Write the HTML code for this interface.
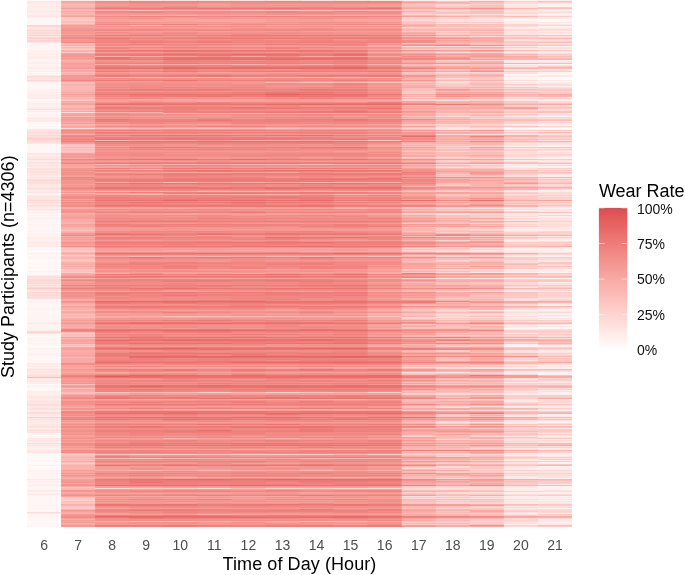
<!DOCTYPE html><html><head><meta charset="utf-8"><style>
html,body{margin:0;padding:0;background:#fff;width:685px;height:575px;overflow:hidden;position:relative;font-family:"Liberation Sans",sans-serif}
.t{position:absolute;left:0;top:0;width:685px;height:575px;will-change:transform}
.xt{position:absolute;top:537.4px;width:40px;text-align:center;font-size:14px;line-height:16px;color:#4d4d4d}
.xtitle{position:absolute;left:222.6px;top:554.2px;font-size:18px;letter-spacing:0.08px;line-height:21px;color:#000;white-space:nowrap}
.ytitle{position:absolute;left:0;top:0;font-size:18px;line-height:21px;color:#000;white-space:nowrap;transform-origin:0 0;transform:translate(-2px,378px) rotate(-90deg)}
.ltitle{position:absolute;left:598.9px;top:180.6px;font-size:18px;line-height:21px;color:#000;white-space:nowrap}
.ll{position:absolute;left:636.9px;font-size:14px;line-height:16px;color:#111;white-space:nowrap}
</style></head><body>
<svg width="685" height="575" style="position:absolute;left:0;top:0"><path fill="#fffbfa" d="M27 113h35.0625v1h-35.0625zM27 124h35.0625v2h-35.0625zM27 127h35.0625v1h-35.0625zM27 248h35.0625v1h-35.0625zM27 250h35.0625v2h-35.0625zM27 255h35.0625v1h-35.0625zM27 260h35.0625v2h-35.0625zM27 265h35.0625v1h-35.0625zM27 269h35.0625v1h-35.0625zM27 336h35.0625v1h-35.0625zM27 346h35.0625v1h-35.0625zM27 384h35.0625v1h-35.0625zM27 388h35.0625v1h-35.0625zM27 454h35.0625v1h-35.0625zM27 456h35.0625v1h-35.0625zM27 458h35.0625v1h-35.0625zM27 462h35.0625v2h-35.0625zM27 466h35.0625v2h-35.0625zM27 521h35.0625v2h-35.0625z"/><path fill="#fff6f5" d="M27 18h35.0625v7h-35.0625zM27 43h35.0625v2h-35.0625zM27 46h35.0625v4h-35.0625zM27 60h35.0625v1h-35.0625zM27 64h35.0625v1h-35.0625zM27 72h35.0625v1h-35.0625zM27 74h35.0625v1h-35.0625zM27 82h35.0625v7h-35.0625zM27 99h35.0625v2h-35.0625zM27 112h35.0625v1h-35.0625zM27 116h35.0625v1h-35.0625zM27 122h35.0625v2h-35.0625zM27 126h35.0625v1h-35.0625zM27 128h35.0625v1h-35.0625zM27 144h35.0625v9h-35.0625zM27 194h35.0625v1h-35.0625zM27 211h35.0625v1h-35.0625zM27 213h35.0625v2h-35.0625zM27 216h35.0625v1h-35.0625zM27 220h35.0625v1h-35.0625zM27 222h35.0625v2h-35.0625zM27 225h35.0625v6h-35.0625zM27 232h35.0625v1h-35.0625zM27 247h35.0625v1h-35.0625zM27 249h35.0625v1h-35.0625zM27 252h35.0625v1h-35.0625zM27 254h35.0625v1h-35.0625zM27 256h35.0625v1h-35.0625zM27 258h35.0625v2h-35.0625zM27 262h35.0625v3h-35.0625zM27 266h35.0625v3h-35.0625zM27 270h35.0625v1h-35.0625zM27 272h35.0625v3h-35.0625zM27 299h35.0625v2h-35.0625zM27 303h35.0625v4h-35.0625zM27 310h35.0625v6h-35.0625zM27 317h35.0625v1h-35.0625zM27 319h35.0625v1h-35.0625zM27 321h35.0625v1h-35.0625zM27 325h35.0625v2h-35.0625zM27 334h35.0625v2h-35.0625zM27 338h35.0625v1h-35.0625zM27 341h35.0625v2h-35.0625zM27 344h35.0625v2h-35.0625zM27 347h35.0625v1h-35.0625zM27 350h35.0625v3h-35.0625zM27 356h35.0625v7h-35.0625zM27 389h35.0625v2h-35.0625zM27 433h35.0625v1h-35.0625zM27 435h35.0625v3h-35.0625zM27 453h35.0625v1h-35.0625zM27 455h35.0625v1h-35.0625zM27 457h35.0625v1h-35.0625zM27 459h35.0625v3h-35.0625zM27 464h35.0625v1h-35.0625zM27 468h35.0625v2h-35.0625zM27 472h35.0625v1h-35.0625zM27 474h35.0625v4h-35.0625zM27 487h35.0625v3h-35.0625zM27 492h35.0625v1h-35.0625zM27 496h35.0625v9h-35.0625zM27 506h35.0625v6h-35.0625zM27 514h35.0625v2h-35.0625zM27 517h35.0625v4h-35.0625zM27 523h35.0625v4h-35.0625z"/><path fill="#fff2f0" d="M27 5h35.0625v1h-35.0625zM27 45h35.0625v1h-35.0625zM27 50h35.0625v4h-35.0625zM27 55h35.0625v1h-35.0625zM27 59h35.0625v1h-35.0625zM27 61h35.0625v2h-35.0625zM27 65h35.0625v2h-35.0625zM27 69h35.0625v2h-35.0625zM27 73h35.0625v1h-35.0625zM27 89h35.0625v3h-35.0625zM27 93h35.0625v1h-35.0625zM27 101h35.0625v2h-35.0625zM27 105h35.0625v2h-35.0625zM27 110h35.0625v1h-35.0625zM27 114h35.0625v2h-35.0625zM27 193h35.0625v1h-35.0625zM27 215h35.0625v1h-35.0625zM27 217h35.0625v3h-35.0625zM27 221h35.0625v1h-35.0625zM27 224h35.0625v1h-35.0625zM27 231h35.0625v1h-35.0625zM27 233h35.0625v4h-35.0625zM27 240h35.0625v1h-35.0625zM27 253h35.0625v1h-35.0625zM27 257h35.0625v1h-35.0625zM27 271h35.0625v1h-35.0625zM27 301h35.0625v2h-35.0625zM27 307h35.0625v3h-35.0625zM27 316h35.0625v1h-35.0625zM27 318h35.0625v1h-35.0625zM27 320h35.0625v1h-35.0625zM27 324h35.0625v1h-35.0625zM27 327h35.0625v3h-35.0625zM27 337h35.0625v1h-35.0625zM27 339h35.0625v2h-35.0625zM27 343h35.0625v1h-35.0625zM27 348h35.0625v2h-35.0625zM27 353h35.0625v3h-35.0625zM27 367h35.0625v1h-35.0625zM27 385h35.0625v3h-35.0625zM27 394h35.0625v1h-35.0625zM27 434h35.0625v1h-35.0625zM27 448h35.0625v1h-35.0625zM27 465h35.0625v1h-35.0625zM27 470h35.0625v2h-35.0625zM27 473h35.0625v1h-35.0625zM27 478h35.0625v1h-35.0625zM27 480h35.0625v1h-35.0625zM27 482h35.0625v3h-35.0625zM27 486h35.0625v1h-35.0625zM27 495h35.0625v1h-35.0625zM27 505h35.0625v1h-35.0625zM27 516h35.0625v1h-35.0625z"/><path fill="#ffedec" d="M27 3h35.0625v2h-35.0625zM27 7h35.0625v4h-35.0625zM27 12h35.0625v3h-35.0625zM27 17h35.0625v1h-35.0625zM27 54h35.0625v1h-35.0625zM27 56h35.0625v3h-35.0625zM27 63h35.0625v1h-35.0625zM27 67h35.0625v2h-35.0625zM27 71h35.0625v1h-35.0625zM27 75h35.0625v1h-35.0625zM27 92h35.0625v1h-35.0625zM27 94h35.0625v5h-35.0625zM27 103h35.0625v2h-35.0625zM27 107h35.0625v1h-35.0625zM27 111h35.0625v1h-35.0625zM27 117h35.0625v1h-35.0625zM27 119h35.0625v1h-35.0625zM27 121h35.0625v1h-35.0625zM27 155h35.0625v1h-35.0625zM27 160h35.0625v2h-35.0625zM27 167h35.0625v1h-35.0625zM27 176h35.0625v1h-35.0625zM27 190h35.0625v2h-35.0625zM27 207h35.0625v2h-35.0625zM27 210h35.0625v1h-35.0625zM27 212h35.0625v1h-35.0625zM27 237h35.0625v3h-35.0625zM27 241h35.0625v1h-35.0625zM27 243h35.0625v3h-35.0625zM27 275h35.0625v1h-35.0625zM27 322h35.0625v2h-35.0625zM27 330h35.0625v1h-35.0625zM27 364h35.0625v2h-35.0625zM27 368h35.0625v1h-35.0625zM27 373h35.0625v1h-35.0625zM27 379h35.0625v1h-35.0625zM27 382h35.0625v2h-35.0625zM27 391h35.0625v3h-35.0625zM27 399h35.0625v1h-35.0625zM27 410h35.0625v1h-35.0625zM27 416h35.0625v1h-35.0625zM27 423h35.0625v1h-35.0625zM27 428h35.0625v1h-35.0625zM27 439h35.0625v1h-35.0625zM27 441h35.0625v2h-35.0625zM27 446h35.0625v2h-35.0625zM27 449h35.0625v1h-35.0625zM27 481h35.0625v1h-35.0625zM27 485h35.0625v1h-35.0625zM27 491h35.0625v1h-35.0625zM27 493h35.0625v1h-35.0625z"/><path fill="#ffe9e7" d="M27 0.75h35.0625v1.25h-35.0625zM27 6h35.0625v1h-35.0625zM27 15h35.0625v2h-35.0625zM27 79h35.0625v1h-35.0625zM27 108h35.0625v1h-35.0625zM27 118h35.0625v1h-35.0625zM27 120h35.0625v1h-35.0625zM27 129h35.0625v1h-35.0625zM27 154h35.0625v1h-35.0625zM27 156h35.0625v2h-35.0625zM27 164h35.0625v1h-35.0625zM27 166h35.0625v1h-35.0625zM27 173h35.0625v1h-35.0625zM27 175h35.0625v1h-35.0625zM27 178h35.0625v1h-35.0625zM27 184h35.0625v3h-35.0625zM27 195h35.0625v1h-35.0625zM27 203h35.0625v2h-35.0625zM27 242h35.0625v1h-35.0625zM27 246h35.0625v1h-35.0625zM27 291h35.0625v1h-35.0625zM27 363h35.0625v1h-35.0625zM27 366h35.0625v1h-35.0625zM27 372h35.0625v1h-35.0625zM27 378h35.0625v1h-35.0625zM27 380h35.0625v2h-35.0625zM27 395h35.0625v2h-35.0625zM27 398h35.0625v1h-35.0625zM27 400h35.0625v1h-35.0625zM27 406h35.0625v2h-35.0625zM27 411h35.0625v1h-35.0625zM27 414h35.0625v2h-35.0625zM27 420h35.0625v3h-35.0625zM27 424h35.0625v2h-35.0625zM27 431h35.0625v1h-35.0625zM27 444h35.0625v1h-35.0625zM27 450h35.0625v2h-35.0625zM27 479h35.0625v1h-35.0625zM27 490h35.0625v1h-35.0625zM27 494h35.0625v1h-35.0625zM27 513h35.0625v1h-35.0625z"/><path fill="#ffe4e2" d="M27 2h35.0625v1h-35.0625zM27 11h35.0625v1h-35.0625zM27 27h35.0625v2h-35.0625zM27 36h35.0625v1h-35.0625zM27 42h35.0625v1h-35.0625zM27 78h35.0625v1h-35.0625zM27 81h35.0625v1h-35.0625zM27 131h35.0625v1h-35.0625zM27 134h35.0625v1h-35.0625zM27 143h35.0625v1h-35.0625zM27 153h35.0625v1h-35.0625zM27 158h35.0625v1h-35.0625zM27 163h35.0625v1h-35.0625zM27 165h35.0625v1h-35.0625zM27 170h35.0625v1h-35.0625zM27 174h35.0625v1h-35.0625zM27 177h35.0625v1h-35.0625zM27 187h35.0625v1h-35.0625zM27 189h35.0625v1h-35.0625zM27 192h35.0625v1h-35.0625zM27 196h35.0625v4h-35.0625zM27 201h35.0625v1h-35.0625zM27 209h35.0625v1h-35.0625zM27 278h35.0625v1h-35.0625zM27 284h35.0625v1h-35.0625zM27 286h35.0625v1h-35.0625zM27 290h35.0625v1h-35.0625zM27 333h35.0625v1h-35.0625zM27 370h35.0625v2h-35.0625zM27 374h35.0625v1h-35.0625zM27 397h35.0625v1h-35.0625zM27 401h35.0625v3h-35.0625zM27 418h35.0625v2h-35.0625zM27 427h35.0625v1h-35.0625zM27 429h35.0625v1h-35.0625zM27 432h35.0625v1h-35.0625zM27 438h35.0625v1h-35.0625zM27 440h35.0625v1h-35.0625zM27 445h35.0625v1h-35.0625zM27 452h35.0625v1h-35.0625z"/><path fill="#ffe0dd" d="M27 29h35.0625v1h-35.0625zM27 31h35.0625v1h-35.0625zM27 34h35.0625v1h-35.0625zM27 39h35.0625v1h-35.0625zM27 77h35.0625v1h-35.0625zM27 109h35.0625v1h-35.0625zM27 130h35.0625v1h-35.0625zM27 133h35.0625v1h-35.0625zM27 136h35.0625v1h-35.0625zM27 142h35.0625v1h-35.0625zM27 162h35.0625v1h-35.0625zM27 168h35.0625v2h-35.0625zM27 171h35.0625v2h-35.0625zM27 181h35.0625v1h-35.0625zM27 183h35.0625v1h-35.0625zM27 188h35.0625v1h-35.0625zM27 205h35.0625v2h-35.0625zM27 276h35.0625v1h-35.0625zM27 296h35.0625v1h-35.0625zM27 298h35.0625v1h-35.0625zM27 369h35.0625v1h-35.0625zM27 405h35.0625v1h-35.0625zM27 408h35.0625v2h-35.0625zM27 426h35.0625v1h-35.0625z"/><path fill="#ffdcd8" d="M27 32h35.0625v2h-35.0625zM27 140h35.0625v2h-35.0625zM27 159h35.0625v1h-35.0625zM27 179h35.0625v1h-35.0625zM27 182h35.0625v1h-35.0625zM27 202h35.0625v1h-35.0625zM27 277h35.0625v1h-35.0625zM27 282h35.0625v1h-35.0625zM27 285h35.0625v1h-35.0625zM27 289h35.0625v1h-35.0625zM27 293h35.0625v2h-35.0625zM27 297h35.0625v1h-35.0625zM27 331h35.0625v1h-35.0625zM27 375h35.0625v2h-35.0625zM27 404h35.0625v1h-35.0625zM27 412h35.0625v2h-35.0625zM27 430h35.0625v1h-35.0625zM27 443h35.0625v1h-35.0625zM27 512h35.0625v1h-35.0625z"/><path fill="#ffd7d4" d="M27 26h35.0625v1h-35.0625zM27 30h35.0625v1h-35.0625zM27 37h35.0625v1h-35.0625zM27 41h35.0625v1h-35.0625zM27 76h35.0625v1h-35.0625zM27 80h35.0625v1h-35.0625zM27 132h35.0625v1h-35.0625zM27 135h35.0625v1h-35.0625zM27 137h35.0625v1h-35.0625zM27 180h35.0625v1h-35.0625zM27 200h35.0625v1h-35.0625zM27 279h35.0625v3h-35.0625zM27 283h35.0625v1h-35.0625zM27 287h35.0625v1h-35.0625zM27 292h35.0625v1h-35.0625zM27 295h35.0625v1h-35.0625z"/><path fill="#fed3cf" d="M27 25h35.0625v1h-35.0625zM27 35h35.0625v1h-35.0625zM27 38h35.0625v1h-35.0625zM27 40h35.0625v1h-35.0625zM27 139h35.0625v1h-35.0625zM27 332h35.0625v1h-35.0625z"/><path fill="#fececa" d="M27 138h35.0625v1h-35.0625zM27 417h35.0625v1h-35.0625z"/><path fill="#fdcac6" d="M27 288h35.0625v1h-35.0625z"/><path fill="#fcbdb8" d="M27 377h35.0625v1h-35.0625z"/><path fill="#ffdcd8" d="M61.0625 112h35.0625v1h-35.0625zM61.0625 128h35.0625v1h-35.0625z"/><path fill="#fed3cf" d="M61.0625 49h35.0625v1h-35.0625zM61.0625 255h35.0625v1h-35.0625zM61.0625 500h35.0625v1h-35.0625z"/><path fill="#fececa" d="M61.0625 52h35.0625v1h-35.0625zM61.0625 333h35.0625v1h-35.0625zM61.0625 463h35.0625v1h-35.0625zM61.0625 498h35.0625v1h-35.0625z"/><path fill="#fdcac6" d="M61.0625 17h35.0625v4h-35.0625zM61.0625 23h35.0625v1h-35.0625zM61.0625 46h35.0625v1h-35.0625zM61.0625 100h35.0625v1h-35.0625zM61.0625 146h35.0625v1h-35.0625zM61.0625 248h35.0625v1h-35.0625zM61.0625 251h35.0625v1h-35.0625zM61.0625 269h35.0625v1h-35.0625zM61.0625 272h35.0625v1h-35.0625zM61.0625 454h35.0625v1h-35.0625zM61.0625 508h35.0625v1h-35.0625z"/><path fill="#fdc6c1" d="M61.0625 145h35.0625v1h-35.0625zM61.0625 148h35.0625v1h-35.0625zM61.0625 151h35.0625v1h-35.0625zM61.0625 250h35.0625v1h-35.0625zM61.0625 260h35.0625v1h-35.0625zM61.0625 270h35.0625v1h-35.0625zM61.0625 346h35.0625v1h-35.0625zM61.0625 487h35.0625v1h-35.0625zM61.0625 499h35.0625v1h-35.0625zM61.0625 502h35.0625v2h-35.0625zM61.0625 507h35.0625v1h-35.0625z"/><path fill="#fcc1bc" d="M61.0625 21h35.0625v1h-35.0625zM61.0625 43h35.0625v1h-35.0625zM61.0625 48h35.0625v1h-35.0625zM61.0625 99h35.0625v1h-35.0625zM61.0625 144h35.0625v1h-35.0625zM61.0625 150h35.0625v1h-35.0625zM61.0625 152h35.0625v1h-35.0625zM61.0625 230h35.0625v1h-35.0625zM61.0625 249h35.0625v1h-35.0625zM61.0625 259h35.0625v1h-35.0625zM61.0625 261h35.0625v1h-35.0625zM61.0625 271h35.0625v1h-35.0625zM61.0625 334h35.0625v1h-35.0625zM61.0625 336h35.0625v1h-35.0625zM61.0625 344h35.0625v1h-35.0625zM61.0625 384h35.0625v1h-35.0625zM61.0625 393h35.0625v1h-35.0625zM61.0625 455h35.0625v1h-35.0625zM61.0625 460h35.0625v1h-35.0625zM61.0625 497h35.0625v1h-35.0625zM61.0625 506h35.0625v1h-35.0625z"/><path fill="#fcbdb8" d="M61.0625 4h35.0625v1h-35.0625zM61.0625 22h35.0625v1h-35.0625zM61.0625 72h35.0625v1h-35.0625zM61.0625 82h35.0625v2h-35.0625zM61.0625 86h35.0625v1h-35.0625zM61.0625 97h35.0625v1h-35.0625zM61.0625 106h35.0625v1h-35.0625zM61.0625 110h35.0625v1h-35.0625zM61.0625 149h35.0625v1h-35.0625zM61.0625 256h35.0625v1h-35.0625zM61.0625 267h35.0625v1h-35.0625zM61.0625 310h35.0625v1h-35.0625zM61.0625 314h35.0625v1h-35.0625zM61.0625 317h35.0625v1h-35.0625zM61.0625 332h35.0625v1h-35.0625zM61.0625 335h35.0625v1h-35.0625zM61.0625 345h35.0625v1h-35.0625zM61.0625 388h35.0625v1h-35.0625zM61.0625 392h35.0625v1h-35.0625zM61.0625 453h35.0625v1h-35.0625zM61.0625 456h35.0625v1h-35.0625zM61.0625 458h35.0625v1h-35.0625zM61.0625 462h35.0625v1h-35.0625zM61.0625 464h35.0625v1h-35.0625zM61.0625 501h35.0625v1h-35.0625z"/><path fill="#fbb8b3" d="M61.0625 6h35.0625v1h-35.0625zM61.0625 10h35.0625v1h-35.0625zM61.0625 14h35.0625v1h-35.0625zM61.0625 44h35.0625v1h-35.0625zM61.0625 47h35.0625v1h-35.0625zM61.0625 87h35.0625v3h-35.0625zM61.0625 116h35.0625v1h-35.0625zM61.0625 193h35.0625v1h-35.0625zM61.0625 229h35.0625v1h-35.0625zM61.0625 247h35.0625v1h-35.0625zM61.0625 252h35.0625v1h-35.0625zM61.0625 254h35.0625v1h-35.0625zM61.0625 258h35.0625v1h-35.0625zM61.0625 265h35.0625v1h-35.0625zM61.0625 315h35.0625v2h-35.0625zM61.0625 338h35.0625v1h-35.0625zM61.0625 357h35.0625v1h-35.0625zM61.0625 459h35.0625v1h-35.0625zM61.0625 488h35.0625v2h-35.0625z"/><path fill="#fab4af" d="M61.0625 5h35.0625v1h-35.0625zM61.0625 9h35.0625v1h-35.0625zM61.0625 12h35.0625v2h-35.0625zM61.0625 24h35.0625v1h-35.0625zM61.0625 60h35.0625v1h-35.0625zM61.0625 69h35.0625v1h-35.0625zM61.0625 73h35.0625v1h-35.0625zM61.0625 90h35.0625v2h-35.0625zM61.0625 98h35.0625v1h-35.0625zM61.0625 102h35.0625v1h-35.0625zM61.0625 105h35.0625v1h-35.0625zM61.0625 107h35.0625v1h-35.0625zM61.0625 124h35.0625v2h-35.0625zM61.0625 147h35.0625v1h-35.0625zM61.0625 222h35.0625v2h-35.0625zM61.0625 228h35.0625v1h-35.0625zM61.0625 231h35.0625v1h-35.0625zM61.0625 257h35.0625v1h-35.0625zM61.0625 262h35.0625v1h-35.0625zM61.0625 305h35.0625v1h-35.0625zM61.0625 313h35.0625v1h-35.0625zM61.0625 327h35.0625v1h-35.0625zM61.0625 466h35.0625v3h-35.0625zM61.0625 505h35.0625v1h-35.0625z"/><path fill="#f9afaa" d="M61.0625 3h35.0625v1h-35.0625zM61.0625 7h35.0625v1h-35.0625zM61.0625 45h35.0625v1h-35.0625zM61.0625 50h35.0625v2h-35.0625zM61.0625 74h35.0625v1h-35.0625zM61.0625 84h35.0625v2h-35.0625zM61.0625 93h35.0625v1h-35.0625zM61.0625 109h35.0625v1h-35.0625zM61.0625 213h35.0625v1h-35.0625zM61.0625 220h35.0625v1h-35.0625zM61.0625 227h35.0625v1h-35.0625zM61.0625 263h35.0625v1h-35.0625zM61.0625 268h35.0625v1h-35.0625zM61.0625 278h35.0625v1h-35.0625zM61.0625 299h35.0625v1h-35.0625zM61.0625 304h35.0625v1h-35.0625zM61.0625 308h35.0625v2h-35.0625zM61.0625 318h35.0625v1h-35.0625zM61.0625 351h35.0625v1h-35.0625zM61.0625 391h35.0625v1h-35.0625zM61.0625 457h35.0625v1h-35.0625zM61.0625 465h35.0625v1h-35.0625zM61.0625 469h35.0625v1h-35.0625zM61.0625 478h35.0625v1h-35.0625zM61.0625 504h35.0625v1h-35.0625zM61.0625 509h35.0625v1h-35.0625zM61.0625 513h35.0625v1h-35.0625zM61.0625 519h35.0625v1h-35.0625z"/><path fill="#f8aba6" d="M61.0625 11h35.0625v1h-35.0625zM61.0625 15h35.0625v1h-35.0625zM61.0625 62h35.0625v1h-35.0625zM61.0625 70h35.0625v1h-35.0625zM61.0625 92h35.0625v1h-35.0625zM61.0625 95h35.0625v1h-35.0625zM61.0625 101h35.0625v1h-35.0625zM61.0625 108h35.0625v1h-35.0625zM61.0625 122h35.0625v1h-35.0625zM61.0625 127h35.0625v1h-35.0625zM61.0625 134h35.0625v1h-35.0625zM61.0625 167h35.0625v1h-35.0625zM61.0625 191h35.0625v1h-35.0625zM61.0625 207h35.0625v2h-35.0625zM61.0625 214h35.0625v1h-35.0625zM61.0625 219h35.0625v1h-35.0625zM61.0625 221h35.0625v1h-35.0625zM61.0625 232h35.0625v1h-35.0625zM61.0625 236h35.0625v1h-35.0625zM61.0625 240h35.0625v1h-35.0625zM61.0625 253h35.0625v1h-35.0625zM61.0625 264h35.0625v1h-35.0625zM61.0625 266h35.0625v1h-35.0625zM61.0625 273h35.0625v2h-35.0625zM61.0625 300h35.0625v1h-35.0625zM61.0625 303h35.0625v1h-35.0625zM61.0625 311h35.0625v1h-35.0625zM61.0625 319h35.0625v1h-35.0625zM61.0625 321h35.0625v1h-35.0625zM61.0625 324h35.0625v2h-35.0625zM61.0625 342h35.0625v1h-35.0625zM61.0625 347h35.0625v1h-35.0625zM61.0625 350h35.0625v1h-35.0625zM61.0625 352h35.0625v1h-35.0625zM61.0625 354h35.0625v1h-35.0625zM61.0625 358h35.0625v3h-35.0625zM61.0625 389h35.0625v2h-35.0625zM61.0625 394h35.0625v1h-35.0625zM61.0625 410h35.0625v1h-35.0625zM61.0625 422h35.0625v1h-35.0625zM61.0625 461h35.0625v1h-35.0625zM61.0625 486h35.0625v1h-35.0625zM61.0625 492h35.0625v1h-35.0625zM61.0625 512h35.0625v1h-35.0625zM61.0625 523h35.0625v2h-35.0625z"/><path fill="#f8a7a1" d="M61.0625 0.75h35.0625v2.25h-35.0625zM61.0625 53h35.0625v1h-35.0625zM61.0625 61h35.0625v1h-35.0625zM61.0625 65h35.0625v1h-35.0625zM61.0625 71h35.0625v1h-35.0625zM61.0625 96h35.0625v1h-35.0625zM61.0625 111h35.0625v1h-35.0625zM61.0625 113h35.0625v1h-35.0625zM61.0625 158h35.0625v1h-35.0625zM61.0625 164h35.0625v1h-35.0625zM61.0625 166h35.0625v1h-35.0625zM61.0625 226h35.0625v1h-35.0625zM61.0625 291h35.0625v1h-35.0625zM61.0625 307h35.0625v1h-35.0625zM61.0625 312h35.0625v1h-35.0625zM61.0625 326h35.0625v1h-35.0625zM61.0625 339h35.0625v1h-35.0625zM61.0625 341h35.0625v1h-35.0625zM61.0625 353h35.0625v1h-35.0625zM61.0625 356h35.0625v1h-35.0625zM61.0625 361h35.0625v2h-35.0625zM61.0625 365h35.0625v1h-35.0625zM61.0625 367h35.0625v2h-35.0625zM61.0625 372h35.0625v1h-35.0625zM61.0625 387h35.0625v1h-35.0625zM61.0625 407h35.0625v1h-35.0625zM61.0625 449h35.0625v1h-35.0625zM61.0625 471h35.0625v2h-35.0625zM61.0625 474h35.0625v1h-35.0625zM61.0625 477h35.0625v1h-35.0625zM61.0625 483h35.0625v1h-35.0625zM61.0625 493h35.0625v1h-35.0625zM61.0625 496h35.0625v1h-35.0625z"/><path fill="#f7a29d" d="M61.0625 16h35.0625v1h-35.0625zM61.0625 26h35.0625v1h-35.0625zM61.0625 34h35.0625v1h-35.0625zM61.0625 57h35.0625v1h-35.0625zM61.0625 59h35.0625v1h-35.0625zM61.0625 66h35.0625v1h-35.0625zM61.0625 81h35.0625v1h-35.0625zM61.0625 103h35.0625v2h-35.0625zM61.0625 114h35.0625v2h-35.0625zM61.0625 118h35.0625v1h-35.0625zM61.0625 121h35.0625v1h-35.0625zM61.0625 126h35.0625v1h-35.0625zM61.0625 129h35.0625v1h-35.0625zM61.0625 165h35.0625v1h-35.0625zM61.0625 176h35.0625v1h-35.0625zM61.0625 215h35.0625v2h-35.0625zM61.0625 218h35.0625v1h-35.0625zM61.0625 224h35.0625v2h-35.0625zM61.0625 238h35.0625v1h-35.0625zM61.0625 241h35.0625v1h-35.0625zM61.0625 245h35.0625v1h-35.0625zM61.0625 306h35.0625v1h-35.0625zM61.0625 322h35.0625v1h-35.0625zM61.0625 328h35.0625v1h-35.0625zM61.0625 340h35.0625v1h-35.0625zM61.0625 343h35.0625v1h-35.0625zM61.0625 349h35.0625v1h-35.0625zM61.0625 355h35.0625v1h-35.0625zM61.0625 371h35.0625v1h-35.0625zM61.0625 379h35.0625v1h-35.0625zM61.0625 385h35.0625v1h-35.0625zM61.0625 399h35.0625v1h-35.0625zM61.0625 406h35.0625v1h-35.0625zM61.0625 420h35.0625v1h-35.0625zM61.0625 435h35.0625v1h-35.0625zM61.0625 439h35.0625v1h-35.0625zM61.0625 448h35.0625v1h-35.0625zM61.0625 476h35.0625v1h-35.0625zM61.0625 511h35.0625v1h-35.0625zM61.0625 518h35.0625v1h-35.0625zM61.0625 521h35.0625v1h-35.0625z"/><path fill="#f69e98" d="M61.0625 8h35.0625v1h-35.0625zM61.0625 27h35.0625v1h-35.0625zM61.0625 63h35.0625v2h-35.0625zM61.0625 67h35.0625v1h-35.0625zM61.0625 94h35.0625v1h-35.0625zM61.0625 120h35.0625v1h-35.0625zM61.0625 123h35.0625v1h-35.0625zM61.0625 143h35.0625v1h-35.0625zM61.0625 153h35.0625v1h-35.0625zM61.0625 155h35.0625v1h-35.0625zM61.0625 157h35.0625v1h-35.0625zM61.0625 161h35.0625v1h-35.0625zM61.0625 184h35.0625v1h-35.0625zM61.0625 190h35.0625v1h-35.0625zM61.0625 199h35.0625v1h-35.0625zM61.0625 201h35.0625v1h-35.0625zM61.0625 217h35.0625v1h-35.0625zM61.0625 237h35.0625v1h-35.0625zM61.0625 239h35.0625v1h-35.0625zM61.0625 244h35.0625v1h-35.0625zM61.0625 275h35.0625v1h-35.0625zM61.0625 281h35.0625v2h-35.0625zM61.0625 284h35.0625v1h-35.0625zM61.0625 286h35.0625v1h-35.0625zM61.0625 320h35.0625v1h-35.0625zM61.0625 337h35.0625v1h-35.0625zM61.0625 348h35.0625v1h-35.0625zM61.0625 366h35.0625v1h-35.0625zM61.0625 370h35.0625v1h-35.0625zM61.0625 373h35.0625v1h-35.0625zM61.0625 382h35.0625v1h-35.0625zM61.0625 400h35.0625v1h-35.0625zM61.0625 405h35.0625v1h-35.0625zM61.0625 416h35.0625v1h-35.0625zM61.0625 425h35.0625v1h-35.0625zM61.0625 428h35.0625v1h-35.0625zM61.0625 436h35.0625v1h-35.0625zM61.0625 442h35.0625v1h-35.0625zM61.0625 446h35.0625v1h-35.0625zM61.0625 470h35.0625v1h-35.0625zM61.0625 479h35.0625v1h-35.0625zM61.0625 520h35.0625v1h-35.0625zM61.0625 522h35.0625v1h-35.0625z"/><path fill="#f59994" d="M61.0625 25h35.0625v1h-35.0625zM61.0625 28h35.0625v1h-35.0625zM61.0625 31h35.0625v3h-35.0625zM61.0625 39h35.0625v1h-35.0625zM61.0625 55h35.0625v1h-35.0625zM61.0625 58h35.0625v1h-35.0625zM61.0625 68h35.0625v1h-35.0625zM61.0625 76h35.0625v3h-35.0625zM61.0625 117h35.0625v1h-35.0625zM61.0625 119h35.0625v1h-35.0625zM61.0625 133h35.0625v1h-35.0625zM61.0625 154h35.0625v1h-35.0625zM61.0625 156h35.0625v1h-35.0625zM61.0625 171h35.0625v1h-35.0625zM61.0625 175h35.0625v1h-35.0625zM61.0625 186h35.0625v1h-35.0625zM61.0625 194h35.0625v2h-35.0625zM61.0625 209h35.0625v1h-35.0625zM61.0625 233h35.0625v2h-35.0625zM61.0625 243h35.0625v1h-35.0625zM61.0625 290h35.0625v1h-35.0625zM61.0625 297h35.0625v2h-35.0625zM61.0625 302h35.0625v1h-35.0625zM61.0625 369h35.0625v1h-35.0625zM61.0625 374h35.0625v1h-35.0625zM61.0625 380h35.0625v2h-35.0625zM61.0625 395h35.0625v2h-35.0625zM61.0625 421h35.0625v1h-35.0625zM61.0625 423h35.0625v1h-35.0625zM61.0625 432h35.0625v1h-35.0625zM61.0625 437h35.0625v1h-35.0625zM61.0625 441h35.0625v1h-35.0625zM61.0625 480h35.0625v2h-35.0625zM61.0625 491h35.0625v1h-35.0625zM61.0625 494h35.0625v1h-35.0625zM61.0625 510h35.0625v1h-35.0625zM61.0625 514h35.0625v1h-35.0625zM61.0625 526h35.0625v1h-35.0625z"/><path fill="#f4958f" d="M61.0625 29h35.0625v1h-35.0625zM61.0625 36h35.0625v1h-35.0625zM61.0625 40h35.0625v2h-35.0625zM61.0625 54h35.0625v1h-35.0625zM61.0625 56h35.0625v1h-35.0625zM61.0625 75h35.0625v1h-35.0625zM61.0625 79h35.0625v1h-35.0625zM61.0625 131h35.0625v1h-35.0625zM61.0625 142h35.0625v1h-35.0625zM61.0625 160h35.0625v1h-35.0625zM61.0625 162h35.0625v1h-35.0625zM61.0625 168h35.0625v2h-35.0625zM61.0625 180h35.0625v4h-35.0625zM61.0625 185h35.0625v1h-35.0625zM61.0625 192h35.0625v1h-35.0625zM61.0625 204h35.0625v1h-35.0625zM61.0625 210h35.0625v1h-35.0625zM61.0625 212h35.0625v1h-35.0625zM61.0625 242h35.0625v1h-35.0625zM61.0625 279h35.0625v1h-35.0625zM61.0625 283h35.0625v1h-35.0625zM61.0625 294h35.0625v1h-35.0625zM61.0625 323h35.0625v1h-35.0625zM61.0625 378h35.0625v1h-35.0625zM61.0625 383h35.0625v1h-35.0625zM61.0625 386h35.0625v1h-35.0625zM61.0625 403h35.0625v1h-35.0625zM61.0625 408h35.0625v2h-35.0625zM61.0625 429h35.0625v1h-35.0625zM61.0625 433h35.0625v2h-35.0625zM61.0625 440h35.0625v1h-35.0625zM61.0625 447h35.0625v1h-35.0625zM61.0625 451h35.0625v1h-35.0625zM61.0625 473h35.0625v1h-35.0625zM61.0625 482h35.0625v1h-35.0625zM61.0625 484h35.0625v1h-35.0625zM61.0625 490h35.0625v1h-35.0625zM61.0625 515h35.0625v1h-35.0625zM61.0625 525h35.0625v1h-35.0625z"/><path fill="#f2908b" d="M61.0625 30h35.0625v1h-35.0625zM61.0625 35h35.0625v1h-35.0625zM61.0625 137h35.0625v1h-35.0625zM61.0625 172h35.0625v3h-35.0625zM61.0625 178h35.0625v1h-35.0625zM61.0625 198h35.0625v1h-35.0625zM61.0625 203h35.0625v1h-35.0625zM61.0625 211h35.0625v1h-35.0625zM61.0625 276h35.0625v1h-35.0625zM61.0625 287h35.0625v1h-35.0625zM61.0625 289h35.0625v1h-35.0625zM61.0625 292h35.0625v1h-35.0625zM61.0625 295h35.0625v2h-35.0625zM61.0625 301h35.0625v1h-35.0625zM61.0625 331h35.0625v1h-35.0625zM61.0625 363h35.0625v1h-35.0625zM61.0625 397h35.0625v1h-35.0625zM61.0625 401h35.0625v2h-35.0625zM61.0625 404h35.0625v1h-35.0625zM61.0625 413h35.0625v2h-35.0625zM61.0625 430h35.0625v2h-35.0625zM61.0625 438h35.0625v1h-35.0625zM61.0625 445h35.0625v1h-35.0625zM61.0625 475h35.0625v1h-35.0625zM61.0625 485h35.0625v1h-35.0625zM61.0625 495h35.0625v1h-35.0625z"/><path fill="#f18c86" d="M61.0625 37h35.0625v1h-35.0625zM61.0625 132h35.0625v1h-35.0625zM61.0625 135h35.0625v1h-35.0625zM61.0625 138h35.0625v1h-35.0625zM61.0625 140h35.0625v1h-35.0625zM61.0625 170h35.0625v1h-35.0625zM61.0625 187h35.0625v1h-35.0625zM61.0625 189h35.0625v1h-35.0625zM61.0625 196h35.0625v1h-35.0625zM61.0625 200h35.0625v1h-35.0625zM61.0625 202h35.0625v1h-35.0625zM61.0625 205h35.0625v2h-35.0625zM61.0625 246h35.0625v1h-35.0625zM61.0625 277h35.0625v1h-35.0625zM61.0625 293h35.0625v1h-35.0625zM61.0625 364h35.0625v1h-35.0625zM61.0625 377h35.0625v1h-35.0625zM61.0625 411h35.0625v1h-35.0625zM61.0625 415h35.0625v1h-35.0625zM61.0625 418h35.0625v1h-35.0625zM61.0625 424h35.0625v1h-35.0625zM61.0625 426h35.0625v2h-35.0625zM61.0625 443h35.0625v2h-35.0625zM61.0625 516h35.0625v2h-35.0625z"/><path fill="#f08782" d="M61.0625 38h35.0625v1h-35.0625zM61.0625 42h35.0625v1h-35.0625zM61.0625 80h35.0625v1h-35.0625zM61.0625 130h35.0625v1h-35.0625zM61.0625 159h35.0625v1h-35.0625zM61.0625 179h35.0625v1h-35.0625zM61.0625 188h35.0625v1h-35.0625zM61.0625 197h35.0625v1h-35.0625zM61.0625 235h35.0625v1h-35.0625zM61.0625 280h35.0625v1h-35.0625zM61.0625 329h35.0625v1h-35.0625zM61.0625 398h35.0625v1h-35.0625zM61.0625 450h35.0625v1h-35.0625zM61.0625 452h35.0625v1h-35.0625z"/><path fill="#ef827e" d="M61.0625 136h35.0625v1h-35.0625zM61.0625 139h35.0625v1h-35.0625zM61.0625 163h35.0625v1h-35.0625zM61.0625 177h35.0625v1h-35.0625zM61.0625 375h35.0625v1h-35.0625zM61.0625 412h35.0625v1h-35.0625zM61.0625 417h35.0625v1h-35.0625z"/><path fill="#ed7e79" d="M61.0625 141h35.0625v1h-35.0625zM61.0625 285h35.0625v1h-35.0625zM61.0625 288h35.0625v1h-35.0625zM61.0625 330h35.0625v1h-35.0625zM61.0625 376h35.0625v1h-35.0625zM61.0625 419h35.0625v1h-35.0625z"/><path fill="#ffd7d4" d="M95.125 488h35.0625v1h-35.0625z"/><path fill="#fdcac6" d="M95.125 392h35.0625v1h-35.0625z"/><path fill="#fdc6c1" d="M95.125 191h35.0625v1h-35.0625zM95.125 454h35.0625v1h-35.0625z"/><path fill="#fcbdb8" d="M95.125 128h35.0625v1h-35.0625zM95.125 140h35.0625v1h-35.0625zM95.125 164h35.0625v1h-35.0625zM95.125 458h35.0625v1h-35.0625z"/><path fill="#fbb8b3" d="M95.125 10h35.0625v1h-35.0625zM95.125 77h35.0625v1h-35.0625z"/><path fill="#fab4af" d="M95.125 112h35.0625v1h-35.0625zM95.125 273h35.0625v1h-35.0625zM95.125 399h35.0625v1h-35.0625zM95.125 521h35.0625v1h-35.0625z"/><path fill="#f9afaa" d="M95.125 25h35.0625v1h-35.0625zM95.125 56h35.0625v1h-35.0625zM95.125 316h35.0625v1h-35.0625zM95.125 470h35.0625v1h-35.0625z"/><path fill="#f8aba6" d="M95.125 64h35.0625v1h-35.0625zM95.125 194h35.0625v1h-35.0625zM95.125 256h35.0625v1h-35.0625zM95.125 409h35.0625v1h-35.0625zM95.125 449h35.0625v1h-35.0625z"/><path fill="#f8a7a1" d="M95.125 15h35.0625v1h-35.0625zM95.125 124h35.0625v1h-35.0625zM95.125 167h35.0625v1h-35.0625zM95.125 172h35.0625v1h-35.0625zM95.125 182h35.0625v1h-35.0625zM95.125 193h35.0625v1h-35.0625zM95.125 208h35.0625v1h-35.0625zM95.125 251h35.0625v1h-35.0625zM95.125 269h35.0625v1h-35.0625zM95.125 291h35.0625v1h-35.0625zM95.125 317h35.0625v1h-35.0625zM95.125 372h35.0625v1h-35.0625zM95.125 393h35.0625v1h-35.0625zM95.125 477h35.0625v1h-35.0625zM95.125 496h35.0625v1h-35.0625z"/><path fill="#f7a29d" d="M95.125 19h35.0625v1h-35.0625zM95.125 21h35.0625v1h-35.0625zM95.125 27h35.0625v1h-35.0625zM95.125 99h35.0625v1h-35.0625zM95.125 101h35.0625v1h-35.0625zM95.125 127h35.0625v1h-35.0625zM95.125 169h35.0625v1h-35.0625zM95.125 250h35.0625v1h-35.0625zM95.125 278h35.0625v1h-35.0625zM95.125 310h35.0625v1h-35.0625zM95.125 313h35.0625v1h-35.0625zM95.125 365h35.0625v1h-35.0625zM95.125 394h35.0625v1h-35.0625zM95.125 422h35.0625v1h-35.0625zM95.125 438h35.0625v1h-35.0625zM95.125 493h35.0625v1h-35.0625zM95.125 498h35.0625v1h-35.0625zM95.125 508h35.0625v1h-35.0625z"/><path fill="#f69e98" d="M95.125 17h35.0625v1h-35.0625zM95.125 20h35.0625v1h-35.0625zM95.125 31h35.0625v1h-35.0625zM95.125 46h35.0625v1h-35.0625zM95.125 72h35.0625v1h-35.0625zM95.125 100h35.0625v1h-35.0625zM95.125 146h35.0625v1h-35.0625zM95.125 161h35.0625v1h-35.0625zM95.125 166h35.0625v1h-35.0625zM95.125 213h35.0625v1h-35.0625zM95.125 230h35.0625v1h-35.0625zM95.125 248h35.0625v2h-35.0625zM95.125 261h35.0625v1h-35.0625zM95.125 272h35.0625v1h-35.0625zM95.125 314h35.0625v1h-35.0625zM95.125 367h35.0625v2h-35.0625zM95.125 373h35.0625v1h-35.0625zM95.125 410h35.0625v1h-35.0625zM95.125 463h35.0625v1h-35.0625zM95.125 467h35.0625v3h-35.0625zM95.125 487h35.0625v1h-35.0625zM95.125 489h35.0625v1h-35.0625zM95.125 500h35.0625v1h-35.0625zM95.125 502h35.0625v1h-35.0625zM95.125 513h35.0625v2h-35.0625z"/><path fill="#f59994" d="M95.125 4h35.0625v2h-35.0625zM95.125 14h35.0625v1h-35.0625zM95.125 23h35.0625v1h-35.0625zM95.125 28h35.0625v1h-35.0625zM95.125 49h35.0625v1h-35.0625zM95.125 52h35.0625v1h-35.0625zM95.125 60h35.0625v1h-35.0625zM95.125 82h35.0625v1h-35.0625zM95.125 97h35.0625v1h-35.0625zM95.125 116h35.0625v1h-35.0625zM95.125 125h35.0625v1h-35.0625zM95.125 129h35.0625v1h-35.0625zM95.125 134h35.0625v1h-35.0625zM95.125 157h35.0625v1h-35.0625zM95.125 177h35.0625v1h-35.0625zM95.125 207h35.0625v1h-35.0625zM95.125 210h35.0625v1h-35.0625zM95.125 214h35.0625v1h-35.0625zM95.125 227h35.0625v3h-35.0625zM95.125 240h35.0625v1h-35.0625zM95.125 255h35.0625v1h-35.0625zM95.125 309h35.0625v1h-35.0625zM95.125 315h35.0625v1h-35.0625zM95.125 318h35.0625v2h-35.0625zM95.125 400h35.0625v1h-35.0625zM95.125 406h35.0625v2h-35.0625zM95.125 439h35.0625v1h-35.0625zM95.125 466h35.0625v1h-35.0625zM95.125 486h35.0625v1h-35.0625zM95.125 492h35.0625v1h-35.0625zM95.125 522h35.0625v1h-35.0625z"/><path fill="#f4958f" d="M95.125 3h35.0625v1h-35.0625zM95.125 6h35.0625v1h-35.0625zM95.125 9h35.0625v1h-35.0625zM95.125 13h35.0625v1h-35.0625zM95.125 18h35.0625v1h-35.0625zM95.125 33h35.0625v2h-35.0625zM95.125 36h35.0625v1h-35.0625zM95.125 43h35.0625v1h-35.0625zM95.125 81h35.0625v1h-35.0625zM95.125 86h35.0625v1h-35.0625zM95.125 88h35.0625v1h-35.0625zM95.125 131h35.0625v1h-35.0625zM95.125 136h35.0625v1h-35.0625zM95.125 148h35.0625v1h-35.0625zM95.125 150h35.0625v2h-35.0625zM95.125 158h35.0625v1h-35.0625zM95.125 160h35.0625v1h-35.0625zM95.125 176h35.0625v1h-35.0625zM95.125 190h35.0625v1h-35.0625zM95.125 236h35.0625v1h-35.0625zM95.125 259h35.0625v2h-35.0625zM95.125 270h35.0625v1h-35.0625zM95.125 321h35.0625v1h-35.0625zM95.125 325h35.0625v1h-35.0625zM95.125 328h35.0625v1h-35.0625zM95.125 333h35.0625v1h-35.0625zM95.125 345h35.0625v2h-35.0625zM95.125 350h35.0625v1h-35.0625zM95.125 420h35.0625v1h-35.0625zM95.125 436h35.0625v1h-35.0625zM95.125 455h35.0625v1h-35.0625zM95.125 460h35.0625v1h-35.0625zM95.125 471h35.0625v2h-35.0625zM95.125 476h35.0625v1h-35.0625zM95.125 478h35.0625v1h-35.0625zM95.125 494h35.0625v1h-35.0625zM95.125 497h35.0625v1h-35.0625zM95.125 503h35.0625v1h-35.0625zM95.125 523h35.0625v2h-35.0625z"/><path fill="#f2908b" d="M95.125 22h35.0625v1h-35.0625zM95.125 26h35.0625v1h-35.0625zM95.125 61h35.0625v1h-35.0625zM95.125 73h35.0625v1h-35.0625zM95.125 78h35.0625v2h-35.0625zM95.125 83h35.0625v3h-35.0625zM95.125 91h35.0625v1h-35.0625zM95.125 102h35.0625v1h-35.0625zM95.125 105h35.0625v1h-35.0625zM95.125 110h35.0625v1h-35.0625zM95.125 113h35.0625v1h-35.0625zM95.125 115h35.0625v1h-35.0625zM95.125 118h35.0625v1h-35.0625zM95.125 122h35.0625v2h-35.0625zM95.125 144h35.0625v2h-35.0625zM95.125 153h35.0625v1h-35.0625zM95.125 156h35.0625v1h-35.0625zM95.125 165h35.0625v1h-35.0625zM95.125 211h35.0625v1h-35.0625zM95.125 215h35.0625v3h-35.0625zM95.125 223h35.0625v1h-35.0625zM95.125 232h35.0625v1h-35.0625zM95.125 235h35.0625v1h-35.0625zM95.125 265h35.0625v1h-35.0625zM95.125 267h35.0625v1h-35.0625zM95.125 271h35.0625v1h-35.0625zM95.125 275h35.0625v1h-35.0625zM95.125 284h35.0625v1h-35.0625zM95.125 290h35.0625v1h-35.0625zM95.125 296h35.0625v1h-35.0625zM95.125 299h35.0625v1h-35.0625zM95.125 305h35.0625v1h-35.0625zM95.125 338h35.0625v1h-35.0625zM95.125 351h35.0625v1h-35.0625zM95.125 371h35.0625v1h-35.0625zM95.125 379h35.0625v1h-35.0625zM95.125 384h35.0625v1h-35.0625zM95.125 403h35.0625v1h-35.0625zM95.125 416h35.0625v1h-35.0625zM95.125 421h35.0625v1h-35.0625zM95.125 425h35.0625v1h-35.0625zM95.125 428h35.0625v1h-35.0625zM95.125 435h35.0625v1h-35.0625zM95.125 441h35.0625v2h-35.0625zM95.125 446h35.0625v1h-35.0625zM95.125 448h35.0625v1h-35.0625zM95.125 462h35.0625v1h-35.0625zM95.125 474h35.0625v1h-35.0625zM95.125 490h35.0625v1h-35.0625zM95.125 501h35.0625v1h-35.0625zM95.125 507h35.0625v1h-35.0625zM95.125 519h35.0625v2h-35.0625z"/><path fill="#f18c86" d="M95.125 0.75h35.0625v2.25h-35.0625zM95.125 12h35.0625v1h-35.0625zM95.125 16h35.0625v1h-35.0625zM95.125 29h35.0625v1h-35.0625zM95.125 32h35.0625v1h-35.0625zM95.125 45h35.0625v1h-35.0625zM95.125 62h35.0625v1h-35.0625zM95.125 69h35.0625v2h-35.0625zM95.125 74h35.0625v1h-35.0625zM95.125 106h35.0625v1h-35.0625zM95.125 117h35.0625v1h-35.0625zM95.125 126h35.0625v1h-35.0625zM95.125 149h35.0625v1h-35.0625zM95.125 152h35.0625v1h-35.0625zM95.125 154h35.0625v2h-35.0625zM95.125 175h35.0625v1h-35.0625zM95.125 184h35.0625v2h-35.0625zM95.125 209h35.0625v1h-35.0625zM95.125 219h35.0625v2h-35.0625zM95.125 222h35.0625v1h-35.0625zM95.125 231h35.0625v1h-35.0625zM95.125 245h35.0625v1h-35.0625zM95.125 247h35.0625v1h-35.0625zM95.125 252h35.0625v1h-35.0625zM95.125 258h35.0625v1h-35.0625zM95.125 262h35.0625v2h-35.0625zM95.125 268h35.0625v1h-35.0625zM95.125 282h35.0625v2h-35.0625zM95.125 289h35.0625v1h-35.0625zM95.125 300h35.0625v1h-35.0625zM95.125 304h35.0625v1h-35.0625zM95.125 311h35.0625v2h-35.0625zM95.125 326h35.0625v2h-35.0625zM95.125 335h35.0625v2h-35.0625zM95.125 344h35.0625v1h-35.0625zM95.125 352h35.0625v1h-35.0625zM95.125 357h35.0625v1h-35.0625zM95.125 364h35.0625v1h-35.0625zM95.125 374h35.0625v1h-35.0625zM95.125 378h35.0625v1h-35.0625zM95.125 380h35.0625v1h-35.0625zM95.125 382h35.0625v1h-35.0625zM95.125 415h35.0625v1h-35.0625zM95.125 423h35.0625v1h-35.0625zM95.125 433h35.0625v1h-35.0625zM95.125 453h35.0625v1h-35.0625zM95.125 464h35.0625v1h-35.0625zM95.125 475h35.0625v1h-35.0625zM95.125 491h35.0625v1h-35.0625zM95.125 499h35.0625v1h-35.0625zM95.125 506h35.0625v1h-35.0625zM95.125 512h35.0625v1h-35.0625zM95.125 518h35.0625v1h-35.0625z"/><path fill="#f08782" d="M95.125 7h35.0625v1h-35.0625zM95.125 11h35.0625v1h-35.0625zM95.125 24h35.0625v1h-35.0625zM95.125 30h35.0625v1h-35.0625zM95.125 37h35.0625v1h-35.0625zM95.125 39h35.0625v2h-35.0625zM95.125 44h35.0625v1h-35.0625zM95.125 47h35.0625v2h-35.0625zM95.125 53h35.0625v1h-35.0625zM95.125 65h35.0625v1h-35.0625zM95.125 87h35.0625v1h-35.0625zM95.125 92h35.0625v1h-35.0625zM95.125 95h35.0625v1h-35.0625zM95.125 98h35.0625v1h-35.0625zM95.125 109h35.0625v1h-35.0625zM95.125 114h35.0625v1h-35.0625zM95.125 142h35.0625v1h-35.0625zM95.125 147h35.0625v1h-35.0625zM95.125 162h35.0625v1h-35.0625zM95.125 171h35.0625v1h-35.0625zM95.125 173h35.0625v1h-35.0625zM95.125 178h35.0625v1h-35.0625zM95.125 186h35.0625v1h-35.0625zM95.125 192h35.0625v1h-35.0625zM95.125 195h35.0625v2h-35.0625zM95.125 201h35.0625v1h-35.0625zM95.125 203h35.0625v1h-35.0625zM95.125 218h35.0625v1h-35.0625zM95.125 239h35.0625v1h-35.0625zM95.125 241h35.0625v1h-35.0625zM95.125 243h35.0625v1h-35.0625zM95.125 286h35.0625v1h-35.0625zM95.125 295h35.0625v1h-35.0625zM95.125 297h35.0625v2h-35.0625zM95.125 308h35.0625v1h-35.0625zM95.125 324h35.0625v1h-35.0625zM95.125 358h35.0625v2h-35.0625zM95.125 366h35.0625v1h-35.0625zM95.125 370h35.0625v1h-35.0625zM95.125 381h35.0625v1h-35.0625zM95.125 388h35.0625v1h-35.0625zM95.125 390h35.0625v1h-35.0625zM95.125 395h35.0625v1h-35.0625zM95.125 401h35.0625v2h-35.0625zM95.125 405h35.0625v1h-35.0625zM95.125 408h35.0625v1h-35.0625zM95.125 418h35.0625v1h-35.0625zM95.125 429h35.0625v1h-35.0625zM95.125 432h35.0625v1h-35.0625zM95.125 434h35.0625v1h-35.0625zM95.125 437h35.0625v1h-35.0625zM95.125 440h35.0625v1h-35.0625zM95.125 451h35.0625v1h-35.0625zM95.125 459h35.0625v1h-35.0625zM95.125 482h35.0625v1h-35.0625zM95.125 484h35.0625v1h-35.0625zM95.125 509h35.0625v1h-35.0625zM95.125 511h35.0625v1h-35.0625zM95.125 526h35.0625v1h-35.0625z"/><path fill="#ef827e" d="M95.125 41h35.0625v2h-35.0625zM95.125 51h35.0625v1h-35.0625zM95.125 63h35.0625v1h-35.0625zM95.125 89h35.0625v2h-35.0625zM95.125 93h35.0625v1h-35.0625zM95.125 96h35.0625v1h-35.0625zM95.125 111h35.0625v1h-35.0625zM95.125 120h35.0625v1h-35.0625zM95.125 130h35.0625v1h-35.0625zM95.125 133h35.0625v1h-35.0625zM95.125 143h35.0625v1h-35.0625zM95.125 168h35.0625v1h-35.0625zM95.125 170h35.0625v1h-35.0625zM95.125 174h35.0625v1h-35.0625zM95.125 181h35.0625v1h-35.0625zM95.125 189h35.0625v1h-35.0625zM95.125 197h35.0625v1h-35.0625zM95.125 199h35.0625v1h-35.0625zM95.125 204h35.0625v1h-35.0625zM95.125 212h35.0625v1h-35.0625zM95.125 225h35.0625v2h-35.0625zM95.125 238h35.0625v1h-35.0625zM95.125 244h35.0625v1h-35.0625zM95.125 254h35.0625v1h-35.0625zM95.125 257h35.0625v1h-35.0625zM95.125 264h35.0625v1h-35.0625zM95.125 266h35.0625v1h-35.0625zM95.125 279h35.0625v3h-35.0625zM95.125 287h35.0625v1h-35.0625zM95.125 320h35.0625v1h-35.0625zM95.125 332h35.0625v1h-35.0625zM95.125 334h35.0625v1h-35.0625zM95.125 360h35.0625v1h-35.0625zM95.125 383h35.0625v1h-35.0625zM95.125 389h35.0625v1h-35.0625zM95.125 391h35.0625v1h-35.0625zM95.125 396h35.0625v1h-35.0625zM95.125 414h35.0625v1h-35.0625zM95.125 444h35.0625v1h-35.0625zM95.125 450h35.0625v1h-35.0625zM95.125 452h35.0625v1h-35.0625zM95.125 456h35.0625v1h-35.0625zM95.125 473h35.0625v1h-35.0625zM95.125 481h35.0625v1h-35.0625zM95.125 483h35.0625v1h-35.0625zM95.125 495h35.0625v1h-35.0625zM95.125 510h35.0625v1h-35.0625z"/><path fill="#ed7e79" d="M95.125 35h35.0625v1h-35.0625zM95.125 55h35.0625v1h-35.0625zM95.125 66h35.0625v1h-35.0625zM95.125 71h35.0625v1h-35.0625zM95.125 76h35.0625v1h-35.0625zM95.125 103h35.0625v1h-35.0625zM95.125 108h35.0625v1h-35.0625zM95.125 121h35.0625v1h-35.0625zM95.125 135h35.0625v1h-35.0625zM95.125 137h35.0625v2h-35.0625zM95.125 163h35.0625v1h-35.0625zM95.125 179h35.0625v2h-35.0625zM95.125 198h35.0625v1h-35.0625zM95.125 202h35.0625v1h-35.0625zM95.125 206h35.0625v1h-35.0625zM95.125 221h35.0625v1h-35.0625zM95.125 224h35.0625v1h-35.0625zM95.125 237h35.0625v1h-35.0625zM95.125 276h35.0625v1h-35.0625zM95.125 285h35.0625v1h-35.0625zM95.125 288h35.0625v1h-35.0625zM95.125 292h35.0625v3h-35.0625zM95.125 303h35.0625v1h-35.0625zM95.125 307h35.0625v1h-35.0625zM95.125 322h35.0625v1h-35.0625zM95.125 339h35.0625v1h-35.0625zM95.125 341h35.0625v2h-35.0625zM95.125 347h35.0625v1h-35.0625zM95.125 354h35.0625v1h-35.0625zM95.125 356h35.0625v1h-35.0625zM95.125 363h35.0625v1h-35.0625zM95.125 369h35.0625v1h-35.0625zM95.125 424h35.0625v1h-35.0625zM95.125 427h35.0625v1h-35.0625zM95.125 430h35.0625v2h-35.0625zM95.125 443h35.0625v1h-35.0625zM95.125 447h35.0625v1h-35.0625zM95.125 457h35.0625v1h-35.0625zM95.125 461h35.0625v1h-35.0625zM95.125 480h35.0625v1h-35.0625zM95.125 515h35.0625v1h-35.0625z"/><path fill="#ec7975" d="M95.125 8h35.0625v1h-35.0625zM95.125 38h35.0625v1h-35.0625zM95.125 50h35.0625v1h-35.0625zM95.125 54h35.0625v1h-35.0625zM95.125 59h35.0625v1h-35.0625zM95.125 67h35.0625v1h-35.0625zM95.125 75h35.0625v1h-35.0625zM95.125 80h35.0625v1h-35.0625zM95.125 94h35.0625v1h-35.0625zM95.125 107h35.0625v1h-35.0625zM95.125 119h35.0625v1h-35.0625zM95.125 132h35.0625v1h-35.0625zM95.125 159h35.0625v1h-35.0625zM95.125 183h35.0625v1h-35.0625zM95.125 233h35.0625v1h-35.0625zM95.125 242h35.0625v1h-35.0625zM95.125 246h35.0625v1h-35.0625zM95.125 274h35.0625v1h-35.0625zM95.125 277h35.0625v1h-35.0625zM95.125 306h35.0625v1h-35.0625zM95.125 329h35.0625v1h-35.0625zM95.125 331h35.0625v1h-35.0625zM95.125 343h35.0625v1h-35.0625zM95.125 349h35.0625v1h-35.0625zM95.125 353h35.0625v1h-35.0625zM95.125 355h35.0625v1h-35.0625zM95.125 361h35.0625v1h-35.0625zM95.125 397h35.0625v1h-35.0625zM95.125 404h35.0625v1h-35.0625zM95.125 411h35.0625v2h-35.0625zM95.125 426h35.0625v1h-35.0625zM95.125 445h35.0625v1h-35.0625zM95.125 479h35.0625v1h-35.0625zM95.125 505h35.0625v1h-35.0625zM95.125 525h35.0625v1h-35.0625z"/><path fill="#eb7471" d="M95.125 58h35.0625v1h-35.0625zM95.125 139h35.0625v1h-35.0625zM95.125 187h35.0625v2h-35.0625zM95.125 200h35.0625v1h-35.0625zM95.125 205h35.0625v1h-35.0625zM95.125 253h35.0625v1h-35.0625zM95.125 302h35.0625v1h-35.0625zM95.125 377h35.0625v1h-35.0625zM95.125 385h35.0625v3h-35.0625zM95.125 398h35.0625v1h-35.0625zM95.125 419h35.0625v1h-35.0625zM95.125 465h35.0625v1h-35.0625zM95.125 504h35.0625v1h-35.0625z"/><path fill="#e9706d" d="M95.125 57h35.0625v1h-35.0625zM95.125 68h35.0625v1h-35.0625zM95.125 104h35.0625v1h-35.0625zM95.125 234h35.0625v1h-35.0625zM95.125 323h35.0625v1h-35.0625zM95.125 337h35.0625v1h-35.0625zM95.125 348h35.0625v1h-35.0625zM95.125 362h35.0625v1h-35.0625zM95.125 375h35.0625v1h-35.0625zM95.125 413h35.0625v1h-35.0625zM95.125 417h35.0625v1h-35.0625zM95.125 485h35.0625v1h-35.0625zM95.125 517h35.0625v1h-35.0625z"/><path fill="#e86b69" d="M95.125 141h35.0625v1h-35.0625zM95.125 301h35.0625v1h-35.0625zM95.125 330h35.0625v1h-35.0625zM95.125 340h35.0625v1h-35.0625zM95.125 516h35.0625v1h-35.0625z"/><path fill="#e35c5c" d="M95.125 376h35.0625v1h-35.0625z"/><path fill="#fececa" d="M129.188 454h35.0625v1h-35.0625z"/><path fill="#fdc6c1" d="M129.188 458h35.0625v1h-35.0625zM129.188 488h35.0625v1h-35.0625zM129.188 521h35.0625v1h-35.0625z"/><path fill="#fcc1bc" d="M129.188 25h35.0625v1h-35.0625zM129.188 191h35.0625v1h-35.0625z"/><path fill="#fcbdb8" d="M129.188 10h35.0625v1h-35.0625zM129.188 77h35.0625v1h-35.0625zM129.188 169h35.0625v1h-35.0625zM129.188 392h35.0625v1h-35.0625z"/><path fill="#fbb8b3" d="M129.188 128h35.0625v1h-35.0625zM129.188 470h35.0625v1h-35.0625z"/><path fill="#fab4af" d="M129.188 15h35.0625v1h-35.0625zM129.188 112h35.0625v1h-35.0625zM129.188 194h35.0625v1h-35.0625zM129.188 256h35.0625v1h-35.0625z"/><path fill="#f9afaa" d="M129.188 64h35.0625v1h-35.0625zM129.188 316h35.0625v1h-35.0625zM129.188 399h35.0625v1h-35.0625z"/><path fill="#f8aba6" d="M129.188 56h35.0625v1h-35.0625zM129.188 140h35.0625v1h-35.0625zM129.188 164h35.0625v1h-35.0625zM129.188 449h35.0625v1h-35.0625z"/><path fill="#f8a7a1" d="M129.188 21h35.0625v1h-35.0625zM129.188 99h35.0625v1h-35.0625zM129.188 251h35.0625v1h-35.0625zM129.188 487h35.0625v1h-35.0625zM129.188 496h35.0625v1h-35.0625z"/><path fill="#f7a29d" d="M129.188 19h35.0625v2h-35.0625zM129.188 72h35.0625v1h-35.0625zM129.188 167h35.0625v1h-35.0625zM129.188 172h35.0625v1h-35.0625zM129.188 193h35.0625v1h-35.0625zM129.188 208h35.0625v1h-35.0625zM129.188 278h35.0625v1h-35.0625zM129.188 317h35.0625v1h-35.0625zM129.188 367h35.0625v1h-35.0625zM129.188 409h35.0625v1h-35.0625zM129.188 477h35.0625v1h-35.0625zM129.188 489h35.0625v1h-35.0625zM129.188 493h35.0625v1h-35.0625z"/><path fill="#f69e98" d="M129.188 23h35.0625v1h-35.0625zM129.188 27h35.0625v1h-35.0625zM129.188 31h35.0625v1h-35.0625zM129.188 46h35.0625v1h-35.0625zM129.188 100h35.0625v1h-35.0625zM129.188 116h35.0625v1h-35.0625zM129.188 124h35.0625v1h-35.0625zM129.188 127h35.0625v1h-35.0625zM129.188 182h35.0625v1h-35.0625zM129.188 207h35.0625v1h-35.0625zM129.188 213h35.0625v2h-35.0625zM129.188 248h35.0625v1h-35.0625zM129.188 250h35.0625v1h-35.0625zM129.188 269h35.0625v1h-35.0625zM129.188 272h35.0625v1h-35.0625zM129.188 291h35.0625v1h-35.0625zM129.188 310h35.0625v1h-35.0625zM129.188 314h35.0625v2h-35.0625zM129.188 365h35.0625v1h-35.0625zM129.188 368h35.0625v1h-35.0625zM129.188 372h35.0625v1h-35.0625zM129.188 394h35.0625v1h-35.0625zM129.188 406h35.0625v1h-35.0625zM129.188 422h35.0625v1h-35.0625zM129.188 438h35.0625v1h-35.0625zM129.188 466h35.0625v1h-35.0625zM129.188 498h35.0625v1h-35.0625zM129.188 514h35.0625v1h-35.0625z"/><path fill="#f59994" d="M129.188 6h35.0625v1h-35.0625zM129.188 14h35.0625v1h-35.0625zM129.188 17h35.0625v1h-35.0625zM129.188 49h35.0625v1h-35.0625zM129.188 52h35.0625v1h-35.0625zM129.188 60h35.0625v1h-35.0625zM129.188 81h35.0625v2h-35.0625zM129.188 101h35.0625v1h-35.0625zM129.188 113h35.0625v1h-35.0625zM129.188 129h35.0625v1h-35.0625zM129.188 157h35.0625v1h-35.0625zM129.188 161h35.0625v1h-35.0625zM129.188 166h35.0625v1h-35.0625zM129.188 228h35.0625v3h-35.0625zM129.188 240h35.0625v1h-35.0625zM129.188 249h35.0625v1h-35.0625zM129.188 255h35.0625v1h-35.0625zM129.188 313h35.0625v1h-35.0625zM129.188 333h35.0625v1h-35.0625zM129.188 379h35.0625v1h-35.0625zM129.188 393h35.0625v1h-35.0625zM129.188 410h35.0625v1h-35.0625zM129.188 439h35.0625v1h-35.0625zM129.188 455h35.0625v1h-35.0625zM129.188 460h35.0625v1h-35.0625zM129.188 463h35.0625v1h-35.0625zM129.188 467h35.0625v1h-35.0625zM129.188 492h35.0625v1h-35.0625zM129.188 500h35.0625v1h-35.0625zM129.188 502h35.0625v2h-35.0625zM129.188 508h35.0625v1h-35.0625zM129.188 524h35.0625v1h-35.0625z"/><path fill="#f4958f" d="M129.188 4h35.0625v1h-35.0625zM129.188 13h35.0625v1h-35.0625zM129.188 22h35.0625v1h-35.0625zM129.188 28h35.0625v1h-35.0625zM129.188 32h35.0625v1h-35.0625zM129.188 36h35.0625v1h-35.0625zM129.188 45h35.0625v1h-35.0625zM129.188 48h35.0625v1h-35.0625zM129.188 69h35.0625v1h-35.0625zM129.188 73h35.0625v1h-35.0625zM129.188 91h35.0625v1h-35.0625zM129.188 118h35.0625v1h-35.0625zM129.188 125h35.0625v1h-35.0625zM129.188 134h35.0625v1h-35.0625zM129.188 146h35.0625v1h-35.0625zM129.188 150h35.0625v2h-35.0625zM129.188 160h35.0625v1h-35.0625zM129.188 210h35.0625v1h-35.0625zM129.188 217h35.0625v1h-35.0625zM129.188 223h35.0625v1h-35.0625zM129.188 227h35.0625v1h-35.0625zM129.188 260h35.0625v1h-35.0625zM129.188 273h35.0625v1h-35.0625zM129.188 318h35.0625v2h-35.0625zM129.188 325h35.0625v1h-35.0625zM129.188 328h35.0625v1h-35.0625zM129.188 346h35.0625v1h-35.0625zM129.188 373h35.0625v1h-35.0625zM129.188 400h35.0625v1h-35.0625zM129.188 420h35.0625v1h-35.0625zM129.188 425h35.0625v1h-35.0625zM129.188 436h35.0625v1h-35.0625zM129.188 469h35.0625v1h-35.0625zM129.188 486h35.0625v1h-35.0625zM129.188 494h35.0625v1h-35.0625zM129.188 497h35.0625v1h-35.0625zM129.188 501h35.0625v1h-35.0625zM129.188 513h35.0625v1h-35.0625zM129.188 522h35.0625v1h-35.0625z"/><path fill="#f2908b" d="M129.188 3h35.0625v1h-35.0625zM129.188 5h35.0625v1h-35.0625zM129.188 18h35.0625v1h-35.0625zM129.188 26h35.0625v1h-35.0625zM129.188 33h35.0625v2h-35.0625zM129.188 39h35.0625v1h-35.0625zM129.188 43h35.0625v1h-35.0625zM129.188 61h35.0625v1h-35.0625zM129.188 70h35.0625v1h-35.0625zM129.188 74h35.0625v1h-35.0625zM129.188 78h35.0625v1h-35.0625zM129.188 84h35.0625v1h-35.0625zM129.188 97h35.0625v1h-35.0625zM129.188 106h35.0625v1h-35.0625zM129.188 115h35.0625v1h-35.0625zM129.188 117h35.0625v1h-35.0625zM129.188 131h35.0625v1h-35.0625zM129.188 144h35.0625v2h-35.0625zM129.188 152h35.0625v1h-35.0625zM129.188 158h35.0625v1h-35.0625zM129.188 165h35.0625v1h-35.0625zM129.188 176h35.0625v2h-35.0625zM129.188 190h35.0625v1h-35.0625zM129.188 215h35.0625v2h-35.0625zM129.188 222h35.0625v1h-35.0625zM129.188 236h35.0625v1h-35.0625zM129.188 259h35.0625v1h-35.0625zM129.188 261h35.0625v1h-35.0625zM129.188 265h35.0625v1h-35.0625zM129.188 267h35.0625v1h-35.0625zM129.188 270h35.0625v2h-35.0625zM129.188 275h35.0625v1h-35.0625zM129.188 299h35.0625v1h-35.0625zM129.188 305h35.0625v1h-35.0625zM129.188 309h35.0625v1h-35.0625zM129.188 321h35.0625v1h-35.0625zM129.188 326h35.0625v2h-35.0625zM129.188 345h35.0625v1h-35.0625zM129.188 350h35.0625v2h-35.0625zM129.188 382h35.0625v1h-35.0625zM129.188 384h35.0625v1h-35.0625zM129.188 407h35.0625v1h-35.0625zM129.188 416h35.0625v1h-35.0625zM129.188 421h35.0625v1h-35.0625zM129.188 423h35.0625v1h-35.0625zM129.188 446h35.0625v1h-35.0625zM129.188 448h35.0625v1h-35.0625zM129.188 456h35.0625v1h-35.0625zM129.188 462h35.0625v1h-35.0625zM129.188 468h35.0625v1h-35.0625zM129.188 471h35.0625v2h-35.0625zM129.188 474h35.0625v1h-35.0625zM129.188 476h35.0625v1h-35.0625zM129.188 478h35.0625v1h-35.0625zM129.188 507h35.0625v1h-35.0625zM129.188 519h35.0625v1h-35.0625zM129.188 523h35.0625v1h-35.0625z"/><path fill="#f18c86" d="M129.188 7h35.0625v1h-35.0625zM129.188 9h35.0625v1h-35.0625zM129.188 29h35.0625v1h-35.0625zM129.188 37h35.0625v1h-35.0625zM129.188 62h35.0625v1h-35.0625zM129.188 65h35.0625v1h-35.0625zM129.188 79h35.0625v1h-35.0625zM129.188 83h35.0625v1h-35.0625zM129.188 85h35.0625v2h-35.0625zM129.188 88h35.0625v1h-35.0625zM129.188 105h35.0625v1h-35.0625zM129.188 110h35.0625v1h-35.0625zM129.188 114h35.0625v1h-35.0625zM129.188 136h35.0625v1h-35.0625zM129.188 148h35.0625v1h-35.0625zM129.188 153h35.0625v1h-35.0625zM129.188 155h35.0625v2h-35.0625zM129.188 175h35.0625v1h-35.0625zM129.188 196h35.0625v1h-35.0625zM129.188 201h35.0625v1h-35.0625zM129.188 209h35.0625v1h-35.0625zM129.188 219h35.0625v1h-35.0625zM129.188 232h35.0625v1h-35.0625zM129.188 239h35.0625v1h-35.0625zM129.188 241h35.0625v1h-35.0625zM129.188 245h35.0625v1h-35.0625zM129.188 247h35.0625v1h-35.0625zM129.188 252h35.0625v1h-35.0625zM129.188 282h35.0625v3h-35.0625zM129.188 287h35.0625v1h-35.0625zM129.188 290h35.0625v1h-35.0625zM129.188 298h35.0625v1h-35.0625zM129.188 304h35.0625v1h-35.0625zM129.188 311h35.0625v2h-35.0625zM129.188 364h35.0625v1h-35.0625zM129.188 371h35.0625v1h-35.0625zM129.188 378h35.0625v1h-35.0625zM129.188 388h35.0625v1h-35.0625zM129.188 396h35.0625v1h-35.0625zM129.188 403h35.0625v1h-35.0625zM129.188 415h35.0625v1h-35.0625zM129.188 428h35.0625v1h-35.0625zM129.188 435h35.0625v1h-35.0625zM129.188 453h35.0625v1h-35.0625zM129.188 490h35.0625v1h-35.0625zM129.188 511h35.0625v2h-35.0625zM129.188 520h35.0625v1h-35.0625z"/><path fill="#f08782" d="M129.188 0.75h35.0625v1.25h-35.0625zM129.188 11h35.0625v1h-35.0625zM129.188 24h35.0625v1h-35.0625zM129.188 30h35.0625v1h-35.0625zM129.188 40h35.0625v1h-35.0625zM129.188 47h35.0625v1h-35.0625zM129.188 53h35.0625v1h-35.0625zM129.188 87h35.0625v1h-35.0625zM129.188 92h35.0625v1h-35.0625zM129.188 98h35.0625v1h-35.0625zM129.188 102h35.0625v1h-35.0625zM129.188 109h35.0625v1h-35.0625zM129.188 122h35.0625v2h-35.0625zM129.188 126h35.0625v1h-35.0625zM129.188 133h35.0625v1h-35.0625zM129.188 154h35.0625v1h-35.0625zM129.188 162h35.0625v1h-35.0625zM129.188 168h35.0625v1h-35.0625zM129.188 171h35.0625v1h-35.0625zM129.188 173h35.0625v1h-35.0625zM129.188 178h35.0625v1h-35.0625zM129.188 184h35.0625v3h-35.0625zM129.188 195h35.0625v1h-35.0625zM129.188 211h35.0625v1h-35.0625zM129.188 218h35.0625v1h-35.0625zM129.188 220h35.0625v1h-35.0625zM129.188 231h35.0625v1h-35.0625zM129.188 235h35.0625v1h-35.0625zM129.188 262h35.0625v1h-35.0625zM129.188 281h35.0625v1h-35.0625zM129.188 286h35.0625v1h-35.0625zM129.188 294h35.0625v1h-35.0625zM129.188 296h35.0625v2h-35.0625zM129.188 300h35.0625v1h-35.0625zM129.188 308h35.0625v1h-35.0625zM129.188 320h35.0625v1h-35.0625zM129.188 324h35.0625v1h-35.0625zM129.188 332h35.0625v1h-35.0625zM129.188 335h35.0625v1h-35.0625zM129.188 341h35.0625v1h-35.0625zM129.188 344h35.0625v1h-35.0625zM129.188 363h35.0625v1h-35.0625zM129.188 366h35.0625v1h-35.0625zM129.188 374h35.0625v1h-35.0625zM129.188 381h35.0625v1h-35.0625zM129.188 383h35.0625v1h-35.0625zM129.188 391h35.0625v1h-35.0625zM129.188 401h35.0625v1h-35.0625zM129.188 405h35.0625v1h-35.0625zM129.188 414h35.0625v1h-35.0625zM129.188 429h35.0625v1h-35.0625zM129.188 433h35.0625v1h-35.0625zM129.188 437h35.0625v1h-35.0625zM129.188 440h35.0625v3h-35.0625zM129.188 451h35.0625v1h-35.0625zM129.188 459h35.0625v1h-35.0625zM129.188 464h35.0625v1h-35.0625zM129.188 495h35.0625v1h-35.0625zM129.188 499h35.0625v1h-35.0625zM129.188 506h35.0625v1h-35.0625z"/><path fill="#ef827e" d="M129.188 2h35.0625v1h-35.0625zM129.188 12h35.0625v1h-35.0625zM129.188 16h35.0625v1h-35.0625zM129.188 38h35.0625v1h-35.0625zM129.188 51h35.0625v1h-35.0625zM129.188 58h35.0625v1h-35.0625zM129.188 63h35.0625v1h-35.0625zM129.188 66h35.0625v1h-35.0625zM129.188 71h35.0625v1h-35.0625zM129.188 76h35.0625v1h-35.0625zM129.188 90h35.0625v1h-35.0625zM129.188 93h35.0625v1h-35.0625zM129.188 119h35.0625v3h-35.0625zM129.188 130h35.0625v1h-35.0625zM129.188 137h35.0625v1h-35.0625zM129.188 142h35.0625v2h-35.0625zM129.188 149h35.0625v1h-35.0625zM129.188 170h35.0625v1h-35.0625zM129.188 189h35.0625v1h-35.0625zM129.188 197h35.0625v3h-35.0625zM129.188 203h35.0625v2h-35.0625zM129.188 224h35.0625v2h-35.0625zM129.188 233h35.0625v1h-35.0625zM129.188 238h35.0625v1h-35.0625zM129.188 243h35.0625v2h-35.0625zM129.188 254h35.0625v1h-35.0625zM129.188 258h35.0625v1h-35.0625zM129.188 268h35.0625v1h-35.0625zM129.188 277h35.0625v1h-35.0625zM129.188 279h35.0625v2h-35.0625zM129.188 289h35.0625v1h-35.0625zM129.188 293h35.0625v1h-35.0625zM129.188 295h35.0625v1h-35.0625zM129.188 303h35.0625v1h-35.0625zM129.188 331h35.0625v1h-35.0625zM129.188 334h35.0625v1h-35.0625zM129.188 336h35.0625v1h-35.0625zM129.188 338h35.0625v1h-35.0625zM129.188 347h35.0625v1h-35.0625zM129.188 358h35.0625v1h-35.0625zM129.188 360h35.0625v1h-35.0625zM129.188 369h35.0625v1h-35.0625zM129.188 380h35.0625v1h-35.0625zM129.188 390h35.0625v1h-35.0625zM129.188 418h35.0625v1h-35.0625zM129.188 432h35.0625v1h-35.0625zM129.188 434h35.0625v1h-35.0625zM129.188 447h35.0625v1h-35.0625zM129.188 452h35.0625v1h-35.0625zM129.188 457h35.0625v1h-35.0625zM129.188 475h35.0625v1h-35.0625zM129.188 483h35.0625v2h-35.0625zM129.188 491h35.0625v1h-35.0625zM129.188 509h35.0625v1h-35.0625zM129.188 515h35.0625v1h-35.0625zM129.188 526h35.0625v1h-35.0625z"/><path fill="#ed7e79" d="M129.188 41h35.0625v2h-35.0625zM129.188 44h35.0625v1h-35.0625zM129.188 57h35.0625v1h-35.0625zM129.188 75h35.0625v1h-35.0625zM129.188 80h35.0625v1h-35.0625zM129.188 95h35.0625v2h-35.0625zM129.188 107h35.0625v2h-35.0625zM129.188 111h35.0625v1h-35.0625zM129.188 132h35.0625v1h-35.0625zM129.188 138h35.0625v1h-35.0625zM129.188 174h35.0625v1h-35.0625zM129.188 179h35.0625v1h-35.0625zM129.188 181h35.0625v1h-35.0625zM129.188 192h35.0625v1h-35.0625zM129.188 206h35.0625v1h-35.0625zM129.188 212h35.0625v1h-35.0625zM129.188 226h35.0625v1h-35.0625zM129.188 237h35.0625v1h-35.0625zM129.188 246h35.0625v1h-35.0625zM129.188 263h35.0625v2h-35.0625zM129.188 266h35.0625v1h-35.0625zM129.188 285h35.0625v1h-35.0625zM129.188 292h35.0625v1h-35.0625zM129.188 307h35.0625v1h-35.0625zM129.188 342h35.0625v1h-35.0625zM129.188 352h35.0625v1h-35.0625zM129.188 354h35.0625v2h-35.0625zM129.188 359h35.0625v1h-35.0625zM129.188 361h35.0625v1h-35.0625zM129.188 370h35.0625v1h-35.0625zM129.188 395h35.0625v1h-35.0625zM129.188 397h35.0625v1h-35.0625zM129.188 402h35.0625v1h-35.0625zM129.188 408h35.0625v1h-35.0625zM129.188 419h35.0625v1h-35.0625zM129.188 424h35.0625v1h-35.0625zM129.188 430h35.0625v2h-35.0625zM129.188 444h35.0625v1h-35.0625zM129.188 450h35.0625v1h-35.0625zM129.188 461h35.0625v1h-35.0625zM129.188 465h35.0625v1h-35.0625zM129.188 473h35.0625v1h-35.0625zM129.188 518h35.0625v1h-35.0625zM129.188 525h35.0625v1h-35.0625z"/><path fill="#ec7975" d="M129.188 8h35.0625v1h-35.0625zM129.188 35h35.0625v1h-35.0625zM129.188 54h35.0625v2h-35.0625zM129.188 59h35.0625v1h-35.0625zM129.188 67h35.0625v1h-35.0625zM129.188 89h35.0625v1h-35.0625zM129.188 103h35.0625v1h-35.0625zM129.188 139h35.0625v1h-35.0625zM129.188 147h35.0625v1h-35.0625zM129.188 163h35.0625v1h-35.0625zM129.188 180h35.0625v1h-35.0625zM129.188 188h35.0625v1h-35.0625zM129.188 221h35.0625v1h-35.0625zM129.188 242h35.0625v1h-35.0625zM129.188 274h35.0625v1h-35.0625zM129.188 302h35.0625v1h-35.0625zM129.188 329h35.0625v1h-35.0625zM129.188 389h35.0625v1h-35.0625zM129.188 398h35.0625v1h-35.0625zM129.188 404h35.0625v1h-35.0625zM129.188 427h35.0625v1h-35.0625zM129.188 443h35.0625v1h-35.0625zM129.188 480h35.0625v2h-35.0625zM129.188 504h35.0625v2h-35.0625zM129.188 510h35.0625v1h-35.0625z"/><path fill="#eb7471" d="M129.188 50h35.0625v1h-35.0625zM129.188 135h35.0625v1h-35.0625zM129.188 159h35.0625v1h-35.0625zM129.188 187h35.0625v1h-35.0625zM129.188 202h35.0625v1h-35.0625zM129.188 205h35.0625v1h-35.0625zM129.188 234h35.0625v1h-35.0625zM129.188 257h35.0625v1h-35.0625zM129.188 276h35.0625v1h-35.0625zM129.188 288h35.0625v1h-35.0625zM129.188 306h35.0625v1h-35.0625zM129.188 322h35.0625v1h-35.0625zM129.188 339h35.0625v1h-35.0625zM129.188 349h35.0625v1h-35.0625zM129.188 353h35.0625v1h-35.0625zM129.188 387h35.0625v1h-35.0625zM129.188 411h35.0625v2h-35.0625zM129.188 426h35.0625v1h-35.0625zM129.188 445h35.0625v1h-35.0625zM129.188 482h35.0625v1h-35.0625z"/><path fill="#e9706d" d="M129.188 68h35.0625v1h-35.0625zM129.188 94h35.0625v1h-35.0625zM129.188 104h35.0625v1h-35.0625zM129.188 141h35.0625v1h-35.0625zM129.188 183h35.0625v1h-35.0625zM129.188 200h35.0625v1h-35.0625zM129.188 253h35.0625v1h-35.0625zM129.188 330h35.0625v1h-35.0625zM129.188 337h35.0625v1h-35.0625zM129.188 340h35.0625v1h-35.0625zM129.188 343h35.0625v1h-35.0625zM129.188 362h35.0625v1h-35.0625zM129.188 377h35.0625v1h-35.0625zM129.188 385h35.0625v1h-35.0625zM129.188 413h35.0625v1h-35.0625zM129.188 417h35.0625v1h-35.0625zM129.188 479h35.0625v1h-35.0625zM129.188 485h35.0625v1h-35.0625z"/><path fill="#e86b69" d="M129.188 301h35.0625v1h-35.0625zM129.188 323h35.0625v1h-35.0625zM129.188 357h35.0625v1h-35.0625zM129.188 376h35.0625v1h-35.0625zM129.188 516h35.0625v2h-35.0625z"/><path fill="#e66664" d="M129.188 348h35.0625v1h-35.0625zM129.188 356h35.0625v1h-35.0625zM129.188 375h35.0625v1h-35.0625zM129.188 386h35.0625v1h-35.0625z"/><path fill="#fececa" d="M163.25 454h35.0625v1h-35.0625z"/><path fill="#fdcac6" d="M163.25 488h35.0625v1h-35.0625z"/><path fill="#fdc6c1" d="M163.25 521h35.0625v1h-35.0625z"/><path fill="#fcc1bc" d="M163.25 316h35.0625v1h-35.0625z"/><path fill="#fcbdb8" d="M163.25 182h35.0625v1h-35.0625zM163.25 392h35.0625v1h-35.0625zM163.25 458h35.0625v1h-35.0625z"/><path fill="#fbb8b3" d="M163.25 113h35.0625v1h-35.0625zM163.25 128h35.0625v1h-35.0625zM163.25 191h35.0625v1h-35.0625z"/><path fill="#fab4af" d="M163.25 77h35.0625v1h-35.0625zM163.25 164h35.0625v1h-35.0625zM163.25 409h35.0625v1h-35.0625zM163.25 438h35.0625v1h-35.0625zM163.25 477h35.0625v1h-35.0625z"/><path fill="#f9afaa" d="M163.25 10h35.0625v1h-35.0625zM163.25 15h35.0625v1h-35.0625zM163.25 399h35.0625v1h-35.0625z"/><path fill="#f8aba6" d="M163.25 25h35.0625v1h-35.0625zM163.25 64h35.0625v1h-35.0625zM163.25 140h35.0625v1h-35.0625zM163.25 194h35.0625v1h-35.0625zM163.25 250h35.0625v1h-35.0625zM163.25 256h35.0625v1h-35.0625zM163.25 449h35.0625v1h-35.0625zM163.25 470h35.0625v1h-35.0625z"/><path fill="#f8a7a1" d="M163.25 20h35.0625v1h-35.0625zM163.25 99h35.0625v1h-35.0625zM163.25 172h35.0625v1h-35.0625zM163.25 214h35.0625v1h-35.0625zM163.25 251h35.0625v1h-35.0625zM163.25 317h35.0625v1h-35.0625zM163.25 496h35.0625v1h-35.0625z"/><path fill="#f7a29d" d="M163.25 19h35.0625v1h-35.0625zM163.25 21h35.0625v1h-35.0625zM163.25 27h35.0625v1h-35.0625zM163.25 100h35.0625v1h-35.0625zM163.25 127h35.0625v1h-35.0625zM163.25 208h35.0625v1h-35.0625zM163.25 213h35.0625v1h-35.0625zM163.25 248h35.0625v1h-35.0625zM163.25 269h35.0625v1h-35.0625zM163.25 273h35.0625v1h-35.0625zM163.25 278h35.0625v1h-35.0625zM163.25 291h35.0625v1h-35.0625zM163.25 310h35.0625v1h-35.0625zM163.25 365h35.0625v1h-35.0625zM163.25 367h35.0625v1h-35.0625zM163.25 372h35.0625v1h-35.0625zM163.25 393h35.0625v1h-35.0625zM163.25 422h35.0625v1h-35.0625zM163.25 493h35.0625v1h-35.0625z"/><path fill="#f69e98" d="M163.25 18h35.0625v1h-35.0625zM163.25 23h35.0625v1h-35.0625zM163.25 31h35.0625v1h-35.0625zM163.25 56h35.0625v1h-35.0625zM163.25 101h35.0625v1h-35.0625zM163.25 116h35.0625v1h-35.0625zM163.25 124h35.0625v1h-35.0625zM163.25 169h35.0625v1h-35.0625zM163.25 255h35.0625v1h-35.0625zM163.25 272h35.0625v1h-35.0625zM163.25 368h35.0625v1h-35.0625zM163.25 394h35.0625v1h-35.0625zM163.25 467h35.0625v1h-35.0625zM163.25 487h35.0625v1h-35.0625zM163.25 489h35.0625v1h-35.0625zM163.25 498h35.0625v1h-35.0625zM163.25 502h35.0625v1h-35.0625z"/><path fill="#f59994" d="M163.25 14h35.0625v1h-35.0625zM163.25 17h35.0625v1h-35.0625zM163.25 22h35.0625v1h-35.0625zM163.25 28h35.0625v1h-35.0625zM163.25 46h35.0625v1h-35.0625zM163.25 49h35.0625v1h-35.0625zM163.25 72h35.0625v1h-35.0625zM163.25 97h35.0625v1h-35.0625zM163.25 118h35.0625v1h-35.0625zM163.25 134h35.0625v1h-35.0625zM163.25 151h35.0625v1h-35.0625zM163.25 157h35.0625v1h-35.0625zM163.25 161h35.0625v1h-35.0625zM163.25 167h35.0625v1h-35.0625zM163.25 207h35.0625v1h-35.0625zM163.25 223h35.0625v1h-35.0625zM163.25 227h35.0625v1h-35.0625zM163.25 230h35.0625v1h-35.0625zM163.25 249h35.0625v1h-35.0625zM163.25 290h35.0625v1h-35.0625zM163.25 314h35.0625v1h-35.0625zM163.25 328h35.0625v1h-35.0625zM163.25 346h35.0625v1h-35.0625zM163.25 406h35.0625v1h-35.0625zM163.25 410h35.0625v1h-35.0625zM163.25 436h35.0625v1h-35.0625zM163.25 439h35.0625v1h-35.0625zM163.25 463h35.0625v1h-35.0625zM163.25 466h35.0625v1h-35.0625zM163.25 468h35.0625v2h-35.0625zM163.25 478h35.0625v1h-35.0625zM163.25 492h35.0625v1h-35.0625zM163.25 497h35.0625v1h-35.0625zM163.25 500h35.0625v1h-35.0625zM163.25 503h35.0625v1h-35.0625zM163.25 508h35.0625v1h-35.0625zM163.25 514h35.0625v1h-35.0625zM163.25 524h35.0625v1h-35.0625z"/><path fill="#f4958f" d="M163.25 4h35.0625v2h-35.0625zM163.25 13h35.0625v1h-35.0625zM163.25 36h35.0625v1h-35.0625zM163.25 43h35.0625v1h-35.0625zM163.25 52h35.0625v1h-35.0625zM163.25 73h35.0625v1h-35.0625zM163.25 78h35.0625v1h-35.0625zM163.25 82h35.0625v1h-35.0625zM163.25 86h35.0625v1h-35.0625zM163.25 125h35.0625v1h-35.0625zM163.25 129h35.0625v1h-35.0625zM163.25 144h35.0625v3h-35.0625zM163.25 153h35.0625v1h-35.0625zM163.25 210h35.0625v1h-35.0625zM163.25 216h35.0625v1h-35.0625zM163.25 228h35.0625v2h-35.0625zM163.25 236h35.0625v1h-35.0625zM163.25 240h35.0625v1h-35.0625zM163.25 260h35.0625v2h-35.0625zM163.25 313h35.0625v1h-35.0625zM163.25 315h35.0625v1h-35.0625zM163.25 318h35.0625v2h-35.0625zM163.25 333h35.0625v1h-35.0625zM163.25 382h35.0625v1h-35.0625zM163.25 400h35.0625v1h-35.0625zM163.25 407h35.0625v1h-35.0625zM163.25 425h35.0625v1h-35.0625zM163.25 446h35.0625v1h-35.0625zM163.25 455h35.0625v1h-35.0625zM163.25 460h35.0625v1h-35.0625zM163.25 462h35.0625v1h-35.0625zM163.25 472h35.0625v1h-35.0625zM163.25 474h35.0625v1h-35.0625zM163.25 476h35.0625v1h-35.0625z"/><path fill="#f2908b" d="M163.25 3h35.0625v1h-35.0625zM163.25 6h35.0625v1h-35.0625zM163.25 9h35.0625v1h-35.0625zM163.25 26h35.0625v1h-35.0625zM163.25 32h35.0625v1h-35.0625zM163.25 34h35.0625v1h-35.0625zM163.25 39h35.0625v1h-35.0625zM163.25 81h35.0625v1h-35.0625zM163.25 83h35.0625v1h-35.0625zM163.25 85h35.0625v1h-35.0625zM163.25 88h35.0625v1h-35.0625zM163.25 91h35.0625v1h-35.0625zM163.25 114h35.0625v2h-35.0625zM163.25 148h35.0625v1h-35.0625zM163.25 150h35.0625v1h-35.0625zM163.25 158h35.0625v1h-35.0625zM163.25 160h35.0625v1h-35.0625zM163.25 185h35.0625v1h-35.0625zM163.25 219h35.0625v1h-35.0625zM163.25 259h35.0625v1h-35.0625zM163.25 270h35.0625v1h-35.0625zM163.25 275h35.0625v1h-35.0625zM163.25 282h35.0625v1h-35.0625zM163.25 304h35.0625v2h-35.0625zM163.25 309h35.0625v1h-35.0625zM163.25 311h35.0625v1h-35.0625zM163.25 325h35.0625v1h-35.0625zM163.25 335h35.0625v1h-35.0625zM163.25 345h35.0625v1h-35.0625zM163.25 371h35.0625v1h-35.0625zM163.25 373h35.0625v1h-35.0625zM163.25 384h35.0625v1h-35.0625zM163.25 403h35.0625v1h-35.0625zM163.25 423h35.0625v1h-35.0625zM163.25 428h35.0625v1h-35.0625zM163.25 435h35.0625v1h-35.0625zM163.25 453h35.0625v1h-35.0625zM163.25 456h35.0625v1h-35.0625zM163.25 486h35.0625v1h-35.0625zM163.25 501h35.0625v1h-35.0625zM163.25 513h35.0625v1h-35.0625zM163.25 519h35.0625v1h-35.0625zM163.25 522h35.0625v2h-35.0625z"/><path fill="#f18c86" d="M163.25 11h35.0625v2h-35.0625zM163.25 29h35.0625v2h-35.0625zM163.25 40h35.0625v1h-35.0625zM163.25 45h35.0625v1h-35.0625zM163.25 48h35.0625v1h-35.0625zM163.25 74h35.0625v1h-35.0625zM163.25 79h35.0625v1h-35.0625zM163.25 84h35.0625v1h-35.0625zM163.25 98h35.0625v1h-35.0625zM163.25 102h35.0625v1h-35.0625zM163.25 105h35.0625v1h-35.0625zM163.25 117h35.0625v1h-35.0625zM163.25 122h35.0625v2h-35.0625zM163.25 126h35.0625v1h-35.0625zM163.25 131h35.0625v1h-35.0625zM163.25 136h35.0625v1h-35.0625zM163.25 152h35.0625v1h-35.0625zM163.25 154h35.0625v3h-35.0625zM163.25 166h35.0625v1h-35.0625zM163.25 177h35.0625v1h-35.0625zM163.25 190h35.0625v1h-35.0625zM163.25 209h35.0625v1h-35.0625zM163.25 211h35.0625v1h-35.0625zM163.25 215h35.0625v1h-35.0625zM163.25 217h35.0625v2h-35.0625zM163.25 222h35.0625v1h-35.0625zM163.25 232h35.0625v1h-35.0625zM163.25 238h35.0625v1h-35.0625zM163.25 247h35.0625v1h-35.0625zM163.25 252h35.0625v1h-35.0625zM163.25 258h35.0625v1h-35.0625zM163.25 271h35.0625v1h-35.0625zM163.25 297h35.0625v3h-35.0625zM163.25 321h35.0625v1h-35.0625zM163.25 326h35.0625v2h-35.0625zM163.25 336h35.0625v1h-35.0625zM163.25 351h35.0625v1h-35.0625zM163.25 366h35.0625v1h-35.0625zM163.25 379h35.0625v1h-35.0625zM163.25 396h35.0625v1h-35.0625zM163.25 416h35.0625v1h-35.0625zM163.25 420h35.0625v2h-35.0625zM163.25 433h35.0625v1h-35.0625zM163.25 442h35.0625v1h-35.0625zM163.25 448h35.0625v1h-35.0625zM163.25 451h35.0625v1h-35.0625zM163.25 471h35.0625v1h-35.0625zM163.25 494h35.0625v1h-35.0625zM163.25 499h35.0625v1h-35.0625zM163.25 507h35.0625v1h-35.0625zM163.25 520h35.0625v1h-35.0625z"/><path fill="#f08782" d="M163.25 0.75h35.0625v2.25h-35.0625zM163.25 33h35.0625v1h-35.0625zM163.25 37h35.0625v1h-35.0625zM163.25 44h35.0625v1h-35.0625zM163.25 60h35.0625v1h-35.0625zM163.25 62h35.0625v1h-35.0625zM163.25 65h35.0625v1h-35.0625zM163.25 70h35.0625v1h-35.0625zM163.25 92h35.0625v1h-35.0625zM163.25 106h35.0625v1h-35.0625zM163.25 133h35.0625v1h-35.0625zM163.25 143h35.0625v1h-35.0625zM163.25 149h35.0625v1h-35.0625zM163.25 162h35.0625v1h-35.0625zM163.25 165h35.0625v1h-35.0625zM163.25 184h35.0625v1h-35.0625zM163.25 186h35.0625v1h-35.0625zM163.25 195h35.0625v2h-35.0625zM163.25 201h35.0625v1h-35.0625zM163.25 203h35.0625v2h-35.0625zM163.25 220h35.0625v1h-35.0625zM163.25 225h35.0625v1h-35.0625zM163.25 231h35.0625v1h-35.0625zM163.25 235h35.0625v1h-35.0625zM163.25 239h35.0625v1h-35.0625zM163.25 241h35.0625v1h-35.0625zM163.25 245h35.0625v1h-35.0625zM163.25 264h35.0625v2h-35.0625zM163.25 267h35.0625v1h-35.0625zM163.25 277h35.0625v1h-35.0625zM163.25 283h35.0625v2h-35.0625zM163.25 286h35.0625v1h-35.0625zM163.25 289h35.0625v1h-35.0625zM163.25 296h35.0625v1h-35.0625zM163.25 308h35.0625v1h-35.0625zM163.25 324h35.0625v1h-35.0625zM163.25 334h35.0625v1h-35.0625zM163.25 338h35.0625v1h-35.0625zM163.25 344h35.0625v1h-35.0625zM163.25 350h35.0625v1h-35.0625zM163.25 358h35.0625v1h-35.0625zM163.25 360h35.0625v1h-35.0625zM163.25 364h35.0625v1h-35.0625zM163.25 374h35.0625v1h-35.0625zM163.25 383h35.0625v1h-35.0625zM163.25 388h35.0625v1h-35.0625zM163.25 390h35.0625v2h-35.0625zM163.25 395h35.0625v1h-35.0625zM163.25 402h35.0625v1h-35.0625zM163.25 405h35.0625v1h-35.0625zM163.25 415h35.0625v1h-35.0625zM163.25 434h35.0625v1h-35.0625zM163.25 437h35.0625v1h-35.0625zM163.25 441h35.0625v1h-35.0625zM163.25 444h35.0625v1h-35.0625zM163.25 447h35.0625v1h-35.0625zM163.25 475h35.0625v1h-35.0625zM163.25 490h35.0625v1h-35.0625zM163.25 506h35.0625v1h-35.0625zM163.25 511h35.0625v1h-35.0625z"/><path fill="#ef827e" d="M163.25 7h35.0625v1h-35.0625zM163.25 16h35.0625v1h-35.0625zM163.25 24h35.0625v1h-35.0625zM163.25 35h35.0625v1h-35.0625zM163.25 41h35.0625v2h-35.0625zM163.25 47h35.0625v1h-35.0625zM163.25 69h35.0625v1h-35.0625zM163.25 76h35.0625v1h-35.0625zM163.25 87h35.0625v1h-35.0625zM163.25 90h35.0625v1h-35.0625zM163.25 93h35.0625v1h-35.0625zM163.25 109h35.0625v4h-35.0625zM163.25 119h35.0625v2h-35.0625zM163.25 142h35.0625v1h-35.0625zM163.25 173h35.0625v1h-35.0625zM163.25 175h35.0625v2h-35.0625zM163.25 189h35.0625v1h-35.0625zM163.25 193h35.0625v1h-35.0625zM163.25 197h35.0625v2h-35.0625zM163.25 226h35.0625v1h-35.0625zM163.25 233h35.0625v1h-35.0625zM163.25 243h35.0625v2h-35.0625zM163.25 254h35.0625v1h-35.0625zM163.25 263h35.0625v1h-35.0625zM163.25 274h35.0625v1h-35.0625zM163.25 279h35.0625v1h-35.0625zM163.25 287h35.0625v1h-35.0625zM163.25 293h35.0625v2h-35.0625zM163.25 300h35.0625v1h-35.0625zM163.25 307h35.0625v1h-35.0625zM163.25 332h35.0625v1h-35.0625zM163.25 341h35.0625v1h-35.0625zM163.25 352h35.0625v1h-35.0625zM163.25 354h35.0625v1h-35.0625zM163.25 359h35.0625v1h-35.0625zM163.25 380h35.0625v2h-35.0625zM163.25 401h35.0625v1h-35.0625zM163.25 408h35.0625v1h-35.0625zM163.25 418h35.0625v1h-35.0625zM163.25 429h35.0625v1h-35.0625zM163.25 440h35.0625v1h-35.0625zM163.25 450h35.0625v1h-35.0625zM163.25 459h35.0625v1h-35.0625zM163.25 464h35.0625v1h-35.0625zM163.25 473h35.0625v1h-35.0625zM163.25 482h35.0625v1h-35.0625zM163.25 484h35.0625v1h-35.0625zM163.25 491h35.0625v1h-35.0625zM163.25 495h35.0625v1h-35.0625zM163.25 509h35.0625v1h-35.0625zM163.25 512h35.0625v1h-35.0625zM163.25 518h35.0625v1h-35.0625z"/><path fill="#ed7e79" d="M163.25 38h35.0625v1h-35.0625zM163.25 53h35.0625v1h-35.0625zM163.25 61h35.0625v1h-35.0625zM163.25 66h35.0625v1h-35.0625zM163.25 89h35.0625v1h-35.0625zM163.25 107h35.0625v2h-35.0625zM163.25 121h35.0625v1h-35.0625zM163.25 130h35.0625v1h-35.0625zM163.25 132h35.0625v1h-35.0625zM163.25 137h35.0625v1h-35.0625zM163.25 171h35.0625v1h-35.0625zM163.25 178h35.0625v1h-35.0625zM163.25 181h35.0625v1h-35.0625zM163.25 192h35.0625v1h-35.0625zM163.25 206h35.0625v1h-35.0625zM163.25 212h35.0625v1h-35.0625zM163.25 224h35.0625v1h-35.0625zM163.25 234h35.0625v1h-35.0625zM163.25 237h35.0625v1h-35.0625zM163.25 257h35.0625v1h-35.0625zM163.25 262h35.0625v1h-35.0625zM163.25 268h35.0625v1h-35.0625zM163.25 280h35.0625v1h-35.0625zM163.25 285h35.0625v1h-35.0625zM163.25 303h35.0625v1h-35.0625zM163.25 312h35.0625v1h-35.0625zM163.25 320h35.0625v1h-35.0625zM163.25 329h35.0625v1h-35.0625zM163.25 342h35.0625v1h-35.0625zM163.25 361h35.0625v1h-35.0625zM163.25 363h35.0625v1h-35.0625zM163.25 378h35.0625v1h-35.0625zM163.25 389h35.0625v1h-35.0625zM163.25 414h35.0625v1h-35.0625zM163.25 424h35.0625v1h-35.0625zM163.25 426h35.0625v1h-35.0625zM163.25 430h35.0625v1h-35.0625zM163.25 432h35.0625v1h-35.0625zM163.25 452h35.0625v1h-35.0625zM163.25 461h35.0625v1h-35.0625zM163.25 481h35.0625v1h-35.0625zM163.25 483h35.0625v1h-35.0625zM163.25 526h35.0625v1h-35.0625z"/><path fill="#ec7975" d="M163.25 8h35.0625v1h-35.0625zM163.25 55h35.0625v1h-35.0625zM163.25 63h35.0625v1h-35.0625zM163.25 71h35.0625v1h-35.0625zM163.25 75h35.0625v1h-35.0625zM163.25 95h35.0625v2h-35.0625zM163.25 103h35.0625v1h-35.0625zM163.25 138h35.0625v1h-35.0625zM163.25 147h35.0625v1h-35.0625zM163.25 163h35.0625v1h-35.0625zM163.25 168h35.0625v1h-35.0625zM163.25 170h35.0625v1h-35.0625zM163.25 174h35.0625v1h-35.0625zM163.25 179h35.0625v2h-35.0625zM163.25 188h35.0625v1h-35.0625zM163.25 199h35.0625v1h-35.0625zM163.25 202h35.0625v1h-35.0625zM163.25 221h35.0625v1h-35.0625zM163.25 242h35.0625v1h-35.0625zM163.25 246h35.0625v1h-35.0625zM163.25 266h35.0625v1h-35.0625zM163.25 281h35.0625v1h-35.0625zM163.25 292h35.0625v1h-35.0625zM163.25 295h35.0625v1h-35.0625zM163.25 322h35.0625v1h-35.0625zM163.25 331h35.0625v1h-35.0625zM163.25 347h35.0625v1h-35.0625zM163.25 355h35.0625v1h-35.0625zM163.25 369h35.0625v2h-35.0625zM163.25 387h35.0625v1h-35.0625zM163.25 397h35.0625v2h-35.0625zM163.25 404h35.0625v1h-35.0625zM163.25 427h35.0625v1h-35.0625zM163.25 431h35.0625v1h-35.0625zM163.25 443h35.0625v1h-35.0625zM163.25 457h35.0625v1h-35.0625zM163.25 480h35.0625v1h-35.0625zM163.25 505h35.0625v1h-35.0625zM163.25 510h35.0625v1h-35.0625zM163.25 515h35.0625v1h-35.0625zM163.25 525h35.0625v1h-35.0625z"/><path fill="#eb7471" d="M163.25 51h35.0625v1h-35.0625zM163.25 57h35.0625v1h-35.0625zM163.25 80h35.0625v1h-35.0625zM163.25 94h35.0625v1h-35.0625zM163.25 104h35.0625v1h-35.0625zM163.25 135h35.0625v1h-35.0625zM163.25 139h35.0625v1h-35.0625zM163.25 183h35.0625v1h-35.0625zM163.25 187h35.0625v1h-35.0625zM163.25 205h35.0625v1h-35.0625zM163.25 253h35.0625v1h-35.0625zM163.25 276h35.0625v1h-35.0625zM163.25 306h35.0625v1h-35.0625zM163.25 337h35.0625v1h-35.0625zM163.25 343h35.0625v1h-35.0625zM163.25 349h35.0625v1h-35.0625zM163.25 353h35.0625v1h-35.0625zM163.25 377h35.0625v1h-35.0625zM163.25 385h35.0625v1h-35.0625zM163.25 411h35.0625v2h-35.0625zM163.25 445h35.0625v1h-35.0625zM163.25 465h35.0625v1h-35.0625zM163.25 504h35.0625v1h-35.0625z"/><path fill="#e9706d" d="M163.25 50h35.0625v1h-35.0625zM163.25 54h35.0625v1h-35.0625zM163.25 58h35.0625v2h-35.0625zM163.25 141h35.0625v1h-35.0625zM163.25 159h35.0625v1h-35.0625zM163.25 288h35.0625v1h-35.0625zM163.25 302h35.0625v1h-35.0625zM163.25 323h35.0625v1h-35.0625zM163.25 339h35.0625v1h-35.0625zM163.25 362h35.0625v1h-35.0625zM163.25 376h35.0625v1h-35.0625zM163.25 386h35.0625v1h-35.0625zM163.25 485h35.0625v1h-35.0625zM163.25 517h35.0625v1h-35.0625z"/><path fill="#e86b69" d="M163.25 67h35.0625v2h-35.0625zM163.25 301h35.0625v1h-35.0625zM163.25 340h35.0625v1h-35.0625zM163.25 357h35.0625v1h-35.0625zM163.25 375h35.0625v1h-35.0625zM163.25 413h35.0625v1h-35.0625zM163.25 417h35.0625v1h-35.0625zM163.25 419h35.0625v1h-35.0625zM163.25 479h35.0625v1h-35.0625zM163.25 516h35.0625v1h-35.0625z"/><path fill="#e66664" d="M163.25 200h35.0625v1h-35.0625zM163.25 330h35.0625v1h-35.0625zM163.25 348h35.0625v1h-35.0625zM163.25 356h35.0625v1h-35.0625z"/><path fill="#ffd7d4" d="M197.312 488h35.0625v1h-35.0625z"/><path fill="#fed3cf" d="M197.312 392h35.0625v1h-35.0625z"/><path fill="#fdc6c1" d="M197.312 191h35.0625v1h-35.0625z"/><path fill="#fcc1bc" d="M197.312 77h35.0625v1h-35.0625zM197.312 454h35.0625v1h-35.0625z"/><path fill="#fcbdb8" d="M197.312 128h35.0625v1h-35.0625zM197.312 316h35.0625v1h-35.0625z"/><path fill="#fbb8b3" d="M197.312 113h35.0625v1h-35.0625z"/><path fill="#fab4af" d="M197.312 256h35.0625v1h-35.0625zM197.312 458h35.0625v1h-35.0625zM197.312 470h35.0625v1h-35.0625zM197.312 521h35.0625v1h-35.0625z"/><path fill="#f9afaa" d="M197.312 10h35.0625v1h-35.0625zM197.312 25h35.0625v1h-35.0625zM197.312 194h35.0625v1h-35.0625zM197.312 409h35.0625v1h-35.0625z"/><path fill="#f8aba6" d="M197.312 164h35.0625v1h-35.0625zM197.312 169h35.0625v1h-35.0625zM197.312 449h35.0625v1h-35.0625zM197.312 514h35.0625v1h-35.0625z"/><path fill="#f8a7a1" d="M197.312 20h35.0625v2h-35.0625zM197.312 64h35.0625v1h-35.0625zM197.312 72h35.0625v1h-35.0625zM197.312 100h35.0625v2h-35.0625zM197.312 127h35.0625v1h-35.0625zM197.312 172h35.0625v1h-35.0625zM197.312 269h35.0625v1h-35.0625zM197.312 278h35.0625v1h-35.0625zM197.312 317h35.0625v1h-35.0625zM197.312 399h35.0625v1h-35.0625zM197.312 477h35.0625v1h-35.0625z"/><path fill="#f7a29d" d="M197.312 15h35.0625v1h-35.0625zM197.312 19h35.0625v1h-35.0625zM197.312 31h35.0625v1h-35.0625zM197.312 99h35.0625v1h-35.0625zM197.312 124h35.0625v1h-35.0625zM197.312 182h35.0625v1h-35.0625zM197.312 207h35.0625v2h-35.0625zM197.312 248h35.0625v1h-35.0625zM197.312 250h35.0625v2h-35.0625zM197.312 367h35.0625v1h-35.0625zM197.312 410h35.0625v1h-35.0625zM197.312 438h35.0625v1h-35.0625zM197.312 487h35.0625v1h-35.0625zM197.312 496h35.0625v1h-35.0625zM197.312 498h35.0625v1h-35.0625z"/><path fill="#f69e98" d="M197.312 4h35.0625v1h-35.0625zM197.312 23h35.0625v1h-35.0625zM197.312 27h35.0625v2h-35.0625zM197.312 46h35.0625v1h-35.0625zM197.312 116h35.0625v1h-35.0625zM197.312 140h35.0625v1h-35.0625zM197.312 146h35.0625v1h-35.0625zM197.312 213h35.0625v2h-35.0625zM197.312 272h35.0625v2h-35.0625zM197.312 291h35.0625v1h-35.0625zM197.312 310h35.0625v1h-35.0625zM197.312 315h35.0625v1h-35.0625zM197.312 365h35.0625v1h-35.0625zM197.312 368h35.0625v1h-35.0625zM197.312 372h35.0625v1h-35.0625zM197.312 393h35.0625v1h-35.0625zM197.312 406h35.0625v1h-35.0625zM197.312 422h35.0625v1h-35.0625zM197.312 469h35.0625v1h-35.0625zM197.312 489h35.0625v1h-35.0625zM197.312 493h35.0625v1h-35.0625zM197.312 502h35.0625v1h-35.0625z"/><path fill="#f59994" d="M197.312 5h35.0625v2h-35.0625zM197.312 14h35.0625v1h-35.0625zM197.312 18h35.0625v1h-35.0625zM197.312 81h35.0625v1h-35.0625zM197.312 129h35.0625v1h-35.0625zM197.312 134h35.0625v1h-35.0625zM197.312 151h35.0625v1h-35.0625zM197.312 157h35.0625v2h-35.0625zM197.312 228h35.0625v3h-35.0625zM197.312 235h35.0625v1h-35.0625zM197.312 249h35.0625v1h-35.0625zM197.312 261h35.0625v1h-35.0625zM197.312 313h35.0625v2h-35.0625zM197.312 394h35.0625v1h-35.0625zM197.312 425h35.0625v1h-35.0625zM197.312 439h35.0625v1h-35.0625zM197.312 460h35.0625v1h-35.0625zM197.312 466h35.0625v1h-35.0625zM197.312 468h35.0625v1h-35.0625zM197.312 492h35.0625v1h-35.0625zM197.312 497h35.0625v1h-35.0625zM197.312 500h35.0625v1h-35.0625zM197.312 508h35.0625v1h-35.0625zM197.312 522h35.0625v1h-35.0625zM197.312 524h35.0625v1h-35.0625z"/><path fill="#f4958f" d="M197.312 3h35.0625v1h-35.0625zM197.312 17h35.0625v1h-35.0625zM197.312 22h35.0625v1h-35.0625zM197.312 32h35.0625v1h-35.0625zM197.312 34h35.0625v1h-35.0625zM197.312 43h35.0625v1h-35.0625zM197.312 49h35.0625v1h-35.0625zM197.312 73h35.0625v1h-35.0625zM197.312 82h35.0625v1h-35.0625zM197.312 86h35.0625v1h-35.0625zM197.312 91h35.0625v1h-35.0625zM197.312 97h35.0625v1h-35.0625zM197.312 115h35.0625v1h-35.0625zM197.312 125h35.0625v1h-35.0625zM197.312 145h35.0625v1h-35.0625zM197.312 167h35.0625v1h-35.0625zM197.312 190h35.0625v1h-35.0625zM197.312 210h35.0625v1h-35.0625zM197.312 227h35.0625v1h-35.0625zM197.312 240h35.0625v1h-35.0625zM197.312 255h35.0625v1h-35.0625zM197.312 259h35.0625v2h-35.0625zM197.312 270h35.0625v1h-35.0625zM197.312 328h35.0625v1h-35.0625zM197.312 333h35.0625v1h-35.0625zM197.312 346h35.0625v1h-35.0625zM197.312 373h35.0625v2h-35.0625zM197.312 455h35.0625v1h-35.0625zM197.312 467h35.0625v1h-35.0625zM197.312 471h35.0625v1h-35.0625zM197.312 474h35.0625v1h-35.0625zM197.312 478h35.0625v1h-35.0625zM197.312 486h35.0625v1h-35.0625zM197.312 494h35.0625v1h-35.0625zM197.312 501h35.0625v1h-35.0625zM197.312 513h35.0625v1h-35.0625zM197.312 523h35.0625v1h-35.0625z"/><path fill="#f2908b" d="M197.312 33h35.0625v1h-35.0625zM197.312 39h35.0625v1h-35.0625zM197.312 45h35.0625v1h-35.0625zM197.312 48h35.0625v1h-35.0625zM197.312 52h35.0625v1h-35.0625zM197.312 56h35.0625v1h-35.0625zM197.312 83h35.0625v2h-35.0625zM197.312 98h35.0625v1h-35.0625zM197.312 105h35.0625v1h-35.0625zM197.312 114h35.0625v1h-35.0625zM197.312 117h35.0625v2h-35.0625zM197.312 123h35.0625v1h-35.0625zM197.312 131h35.0625v1h-35.0625zM197.312 150h35.0625v1h-35.0625zM197.312 152h35.0625v2h-35.0625zM197.312 160h35.0625v2h-35.0625zM197.312 166h35.0625v1h-35.0625zM197.312 223h35.0625v1h-35.0625zM197.312 252h35.0625v1h-35.0625zM197.312 267h35.0625v1h-35.0625zM197.312 284h35.0625v1h-35.0625zM197.312 290h35.0625v1h-35.0625zM197.312 305h35.0625v1h-35.0625zM197.312 309h35.0625v1h-35.0625zM197.312 311h35.0625v1h-35.0625zM197.312 318h35.0625v2h-35.0625zM197.312 325h35.0625v3h-35.0625zM197.312 335h35.0625v1h-35.0625zM197.312 345h35.0625v1h-35.0625zM197.312 371h35.0625v1h-35.0625zM197.312 379h35.0625v1h-35.0625zM197.312 382h35.0625v1h-35.0625zM197.312 400h35.0625v1h-35.0625zM197.312 407h35.0625v1h-35.0625zM197.312 416h35.0625v1h-35.0625zM197.312 420h35.0625v1h-35.0625zM197.312 423h35.0625v1h-35.0625zM197.312 436h35.0625v1h-35.0625zM197.312 446h35.0625v1h-35.0625zM197.312 453h35.0625v1h-35.0625zM197.312 456h35.0625v1h-35.0625zM197.312 462h35.0625v2h-35.0625zM197.312 472h35.0625v1h-35.0625zM197.312 503h35.0625v1h-35.0625zM197.312 519h35.0625v2h-35.0625z"/><path fill="#f18c86" d="M197.312 2h35.0625v1h-35.0625zM197.312 7h35.0625v1h-35.0625zM197.312 9h35.0625v1h-35.0625zM197.312 11h35.0625v3h-35.0625zM197.312 24h35.0625v1h-35.0625zM197.312 26h35.0625v1h-35.0625zM197.312 29h35.0625v1h-35.0625zM197.312 36h35.0625v1h-35.0625zM197.312 62h35.0625v1h-35.0625zM197.312 69h35.0625v2h-35.0625zM197.312 74h35.0625v1h-35.0625zM197.312 78h35.0625v2h-35.0625zM197.312 85h35.0625v1h-35.0625zM197.312 88h35.0625v1h-35.0625zM197.312 110h35.0625v1h-35.0625zM197.312 122h35.0625v1h-35.0625zM197.312 133h35.0625v1h-35.0625zM197.312 136h35.0625v1h-35.0625zM197.312 144h35.0625v1h-35.0625zM197.312 148h35.0625v1h-35.0625zM197.312 154h35.0625v3h-35.0625zM197.312 185h35.0625v2h-35.0625zM197.312 201h35.0625v1h-35.0625zM197.312 215h35.0625v3h-35.0625zM197.312 219h35.0625v1h-35.0625zM197.312 222h35.0625v1h-35.0625zM197.312 232h35.0625v1h-35.0625zM197.312 236h35.0625v1h-35.0625zM197.312 239h35.0625v1h-35.0625zM197.312 245h35.0625v1h-35.0625zM197.312 247h35.0625v1h-35.0625zM197.312 265h35.0625v1h-35.0625zM197.312 271h35.0625v1h-35.0625zM197.312 275h35.0625v1h-35.0625zM197.312 282h35.0625v2h-35.0625zM197.312 287h35.0625v1h-35.0625zM197.312 289h35.0625v1h-35.0625zM197.312 296h35.0625v1h-35.0625zM197.312 298h35.0625v2h-35.0625zM197.312 321h35.0625v1h-35.0625zM197.312 324h35.0625v1h-35.0625zM197.312 336h35.0625v1h-35.0625zM197.312 344h35.0625v1h-35.0625zM197.312 351h35.0625v1h-35.0625zM197.312 366h35.0625v1h-35.0625zM197.312 384h35.0625v1h-35.0625zM197.312 391h35.0625v1h-35.0625zM197.312 403h35.0625v1h-35.0625zM197.312 405h35.0625v1h-35.0625zM197.312 415h35.0625v1h-35.0625zM197.312 428h35.0625v1h-35.0625zM197.312 435h35.0625v1h-35.0625zM197.312 440h35.0625v3h-35.0625zM197.312 448h35.0625v1h-35.0625zM197.312 451h35.0625v1h-35.0625zM197.312 464h35.0625v1h-35.0625zM197.312 476h35.0625v1h-35.0625zM197.312 506h35.0625v2h-35.0625z"/><path fill="#f08782" d="M197.312 0.75h35.0625v1.25h-35.0625zM197.312 16h35.0625v1h-35.0625zM197.312 30h35.0625v1h-35.0625zM197.312 37h35.0625v1h-35.0625zM197.312 40h35.0625v1h-35.0625zM197.312 60h35.0625v1h-35.0625zM197.312 87h35.0625v1h-35.0625zM197.312 93h35.0625v1h-35.0625zM197.312 106h35.0625v1h-35.0625zM197.312 109h35.0625v1h-35.0625zM197.312 165h35.0625v1h-35.0625zM197.312 175h35.0625v3h-35.0625zM197.312 195h35.0625v1h-35.0625zM197.312 203h35.0625v2h-35.0625zM197.312 209h35.0625v1h-35.0625zM197.312 211h35.0625v1h-35.0625zM197.312 220h35.0625v1h-35.0625zM197.312 225h35.0625v1h-35.0625zM197.312 231h35.0625v1h-35.0625zM197.312 238h35.0625v1h-35.0625zM197.312 241h35.0625v1h-35.0625zM197.312 254h35.0625v1h-35.0625zM197.312 258h35.0625v1h-35.0625zM197.312 262h35.0625v1h-35.0625zM197.312 264h35.0625v1h-35.0625zM197.312 268h35.0625v1h-35.0625zM197.312 293h35.0625v1h-35.0625zM197.312 297h35.0625v1h-35.0625zM197.312 304h35.0625v1h-35.0625zM197.312 308h35.0625v1h-35.0625zM197.312 312h35.0625v1h-35.0625zM197.312 338h35.0625v1h-35.0625zM197.312 350h35.0625v1h-35.0625zM197.312 352h35.0625v1h-35.0625zM197.312 355h35.0625v1h-35.0625zM197.312 364h35.0625v1h-35.0625zM197.312 370h35.0625v1h-35.0625zM197.312 378h35.0625v1h-35.0625zM197.312 381h35.0625v1h-35.0625zM197.312 388h35.0625v1h-35.0625zM197.312 390h35.0625v1h-35.0625zM197.312 396h35.0625v1h-35.0625zM197.312 402h35.0625v1h-35.0625zM197.312 414h35.0625v1h-35.0625zM197.312 421h35.0625v1h-35.0625zM197.312 433h35.0625v1h-35.0625zM197.312 437h35.0625v1h-35.0625zM197.312 444h35.0625v1h-35.0625zM197.312 447h35.0625v1h-35.0625zM197.312 452h35.0625v1h-35.0625zM197.312 459h35.0625v1h-35.0625zM197.312 473h35.0625v1h-35.0625zM197.312 475h35.0625v1h-35.0625zM197.312 490h35.0625v1h-35.0625zM197.312 511h35.0625v2h-35.0625zM197.312 518h35.0625v1h-35.0625zM197.312 526h35.0625v1h-35.0625z"/><path fill="#ef827e" d="M197.312 44h35.0625v1h-35.0625zM197.312 47h35.0625v1h-35.0625zM197.312 53h35.0625v1h-35.0625zM197.312 61h35.0625v1h-35.0625zM197.312 65h35.0625v2h-35.0625zM197.312 71h35.0625v1h-35.0625zM197.312 90h35.0625v1h-35.0625zM197.312 92h35.0625v1h-35.0625zM197.312 102h35.0625v1h-35.0625zM197.312 111h35.0625v1h-35.0625zM197.312 121h35.0625v1h-35.0625zM197.312 142h35.0625v2h-35.0625zM197.312 149h35.0625v1h-35.0625zM197.312 162h35.0625v1h-35.0625zM197.312 184h35.0625v1h-35.0625zM197.312 189h35.0625v1h-35.0625zM197.312 192h35.0625v1h-35.0625zM197.312 196h35.0625v2h-35.0625zM197.312 212h35.0625v1h-35.0625zM197.312 226h35.0625v1h-35.0625zM197.312 243h35.0625v2h-35.0625zM197.312 263h35.0625v1h-35.0625zM197.312 277h35.0625v1h-35.0625zM197.312 279h35.0625v1h-35.0625zM197.312 286h35.0625v1h-35.0625zM197.312 294h35.0625v2h-35.0625zM197.312 303h35.0625v1h-35.0625zM197.312 307h35.0625v1h-35.0625zM197.312 334h35.0625v1h-35.0625zM197.312 358h35.0625v1h-35.0625zM197.312 360h35.0625v1h-35.0625zM197.312 363h35.0625v1h-35.0625zM197.312 369h35.0625v1h-35.0625zM197.312 380h35.0625v1h-35.0625zM197.312 389h35.0625v1h-35.0625zM197.312 395h35.0625v1h-35.0625zM197.312 397h35.0625v1h-35.0625zM197.312 401h35.0625v1h-35.0625zM197.312 408h35.0625v1h-35.0625zM197.312 429h35.0625v1h-35.0625zM197.312 434h35.0625v1h-35.0625zM197.312 450h35.0625v1h-35.0625zM197.312 457h35.0625v1h-35.0625zM197.312 482h35.0625v3h-35.0625zM197.312 491h35.0625v1h-35.0625zM197.312 499h35.0625v1h-35.0625zM197.312 509h35.0625v2h-35.0625z"/><path fill="#ed7e79" d="M197.312 35h35.0625v1h-35.0625zM197.312 41h35.0625v2h-35.0625zM197.312 63h35.0625v1h-35.0625zM197.312 80h35.0625v1h-35.0625zM197.312 107h35.0625v2h-35.0625zM197.312 112h35.0625v1h-35.0625zM197.312 126h35.0625v1h-35.0625zM197.312 130h35.0625v1h-35.0625zM197.312 132h35.0625v1h-35.0625zM197.312 137h35.0625v2h-35.0625zM197.312 147h35.0625v1h-35.0625zM197.312 173h35.0625v1h-35.0625zM197.312 178h35.0625v1h-35.0625zM197.312 181h35.0625v1h-35.0625zM197.312 199h35.0625v1h-35.0625zM197.312 218h35.0625v1h-35.0625zM197.312 221h35.0625v1h-35.0625zM197.312 224h35.0625v1h-35.0625zM197.312 237h35.0625v1h-35.0625zM197.312 266h35.0625v1h-35.0625zM197.312 281h35.0625v1h-35.0625zM197.312 292h35.0625v1h-35.0625zM197.312 300h35.0625v1h-35.0625zM197.312 322h35.0625v1h-35.0625zM197.312 332h35.0625v1h-35.0625zM197.312 341h35.0625v2h-35.0625zM197.312 347h35.0625v1h-35.0625zM197.312 354h35.0625v1h-35.0625zM197.312 359h35.0625v1h-35.0625zM197.312 383h35.0625v1h-35.0625zM197.312 418h35.0625v1h-35.0625zM197.312 427h35.0625v1h-35.0625zM197.312 432h35.0625v1h-35.0625zM197.312 461h35.0625v1h-35.0625zM197.312 481h35.0625v1h-35.0625zM197.312 495h35.0625v1h-35.0625zM197.312 504h35.0625v2h-35.0625zM197.312 515h35.0625v1h-35.0625zM197.312 525h35.0625v1h-35.0625z"/><path fill="#ec7975" d="M197.312 38h35.0625v1h-35.0625zM197.312 51h35.0625v1h-35.0625zM197.312 76h35.0625v1h-35.0625zM197.312 89h35.0625v1h-35.0625zM197.312 95h35.0625v1h-35.0625zM197.312 103h35.0625v1h-35.0625zM197.312 119h35.0625v2h-35.0625zM197.312 159h35.0625v1h-35.0625zM197.312 163h35.0625v1h-35.0625zM197.312 168h35.0625v1h-35.0625zM197.312 171h35.0625v1h-35.0625zM197.312 174h35.0625v1h-35.0625zM197.312 179h35.0625v2h-35.0625zM197.312 187h35.0625v1h-35.0625zM197.312 193h35.0625v1h-35.0625zM197.312 198h35.0625v1h-35.0625zM197.312 202h35.0625v1h-35.0625zM197.312 206h35.0625v1h-35.0625zM197.312 233h35.0625v1h-35.0625zM197.312 246h35.0625v1h-35.0625zM197.312 257h35.0625v1h-35.0625zM197.312 274h35.0625v1h-35.0625zM197.312 276h35.0625v1h-35.0625zM197.312 280h35.0625v1h-35.0625zM197.312 285h35.0625v1h-35.0625zM197.312 302h35.0625v1h-35.0625zM197.312 306h35.0625v1h-35.0625zM197.312 320h35.0625v1h-35.0625zM197.312 361h35.0625v1h-35.0625zM197.312 404h35.0625v1h-35.0625zM197.312 412h35.0625v1h-35.0625zM197.312 426h35.0625v1h-35.0625zM197.312 431h35.0625v1h-35.0625zM197.312 443h35.0625v1h-35.0625zM197.312 465h35.0625v1h-35.0625zM197.312 480h35.0625v1h-35.0625z"/><path fill="#eb7471" d="M197.312 8h35.0625v1h-35.0625zM197.312 50h35.0625v1h-35.0625zM197.312 54h35.0625v2h-35.0625zM197.312 67h35.0625v1h-35.0625zM197.312 75h35.0625v1h-35.0625zM197.312 94h35.0625v1h-35.0625zM197.312 96h35.0625v1h-35.0625zM197.312 104h35.0625v1h-35.0625zM197.312 135h35.0625v1h-35.0625zM197.312 139h35.0625v1h-35.0625zM197.312 183h35.0625v1h-35.0625zM197.312 188h35.0625v1h-35.0625zM197.312 205h35.0625v1h-35.0625zM197.312 234h35.0625v1h-35.0625zM197.312 242h35.0625v1h-35.0625zM197.312 288h35.0625v1h-35.0625zM197.312 329h35.0625v1h-35.0625zM197.312 331h35.0625v1h-35.0625zM197.312 353h35.0625v1h-35.0625zM197.312 362h35.0625v1h-35.0625zM197.312 398h35.0625v1h-35.0625zM197.312 411h35.0625v1h-35.0625zM197.312 424h35.0625v1h-35.0625zM197.312 445h35.0625v1h-35.0625z"/><path fill="#e9706d" d="M197.312 57h35.0625v3h-35.0625zM197.312 170h35.0625v1h-35.0625zM197.312 200h35.0625v1h-35.0625zM197.312 337h35.0625v1h-35.0625zM197.312 339h35.0625v1h-35.0625zM197.312 343h35.0625v1h-35.0625zM197.312 348h35.0625v2h-35.0625zM197.312 375h35.0625v3h-35.0625zM197.312 386h35.0625v2h-35.0625zM197.312 413h35.0625v1h-35.0625zM197.312 417h35.0625v1h-35.0625zM197.312 419h35.0625v1h-35.0625zM197.312 430h35.0625v1h-35.0625zM197.312 485h35.0625v1h-35.0625zM197.312 517h35.0625v1h-35.0625z"/><path fill="#e86b69" d="M197.312 68h35.0625v1h-35.0625zM197.312 141h35.0625v1h-35.0625zM197.312 253h35.0625v1h-35.0625zM197.312 301h35.0625v1h-35.0625zM197.312 323h35.0625v1h-35.0625zM197.312 330h35.0625v1h-35.0625zM197.312 340h35.0625v1h-35.0625zM197.312 357h35.0625v1h-35.0625zM197.312 385h35.0625v1h-35.0625zM197.312 479h35.0625v1h-35.0625zM197.312 516h35.0625v1h-35.0625z"/><path fill="#e66664" d="M197.312 356h35.0625v1h-35.0625z"/><path fill="#fececa" d="M231.375 454h35.0625v1h-35.0625z"/><path fill="#fcc1bc" d="M231.375 10h35.0625v1h-35.0625z"/><path fill="#fcbdb8" d="M231.375 77h35.0625v1h-35.0625zM231.375 164h35.0625v1h-35.0625zM231.375 191h35.0625v1h-35.0625z"/><path fill="#fbb8b3" d="M231.375 113h35.0625v1h-35.0625zM231.375 128h35.0625v1h-35.0625zM231.375 316h35.0625v1h-35.0625zM231.375 392h35.0625v1h-35.0625zM231.375 409h35.0625v1h-35.0625zM231.375 488h35.0625v1h-35.0625z"/><path fill="#fab4af" d="M231.375 64h35.0625v1h-35.0625zM231.375 194h35.0625v1h-35.0625zM231.375 399h35.0625v1h-35.0625zM231.375 449h35.0625v1h-35.0625z"/><path fill="#f9afaa" d="M231.375 140h35.0625v1h-35.0625zM231.375 182h35.0625v1h-35.0625zM231.375 458h35.0625v1h-35.0625zM231.375 521h35.0625v1h-35.0625z"/><path fill="#f8aba6" d="M231.375 470h35.0625v1h-35.0625zM231.375 477h35.0625v1h-35.0625z"/><path fill="#f8a7a1" d="M231.375 15h35.0625v1h-35.0625zM231.375 19h35.0625v1h-35.0625zM231.375 21h35.0625v1h-35.0625zM231.375 56h35.0625v1h-35.0625zM231.375 250h35.0625v1h-35.0625zM231.375 256h35.0625v1h-35.0625zM231.375 269h35.0625v1h-35.0625zM231.375 273h35.0625v1h-35.0625zM231.375 496h35.0625v1h-35.0625z"/><path fill="#f7a29d" d="M231.375 20h35.0625v1h-35.0625zM231.375 25h35.0625v1h-35.0625zM231.375 27h35.0625v1h-35.0625zM231.375 99h35.0625v3h-35.0625zM231.375 208h35.0625v1h-35.0625zM231.375 214h35.0625v1h-35.0625zM231.375 248h35.0625v1h-35.0625zM231.375 251h35.0625v1h-35.0625zM231.375 278h35.0625v1h-35.0625zM231.375 317h35.0625v1h-35.0625zM231.375 393h35.0625v1h-35.0625zM231.375 410h35.0625v1h-35.0625zM231.375 438h35.0625v1h-35.0625zM231.375 489h35.0625v1h-35.0625zM231.375 498h35.0625v1h-35.0625zM231.375 514h35.0625v1h-35.0625z"/><path fill="#f69e98" d="M231.375 22h35.0625v1h-35.0625zM231.375 46h35.0625v1h-35.0625zM231.375 49h35.0625v1h-35.0625zM231.375 72h35.0625v1h-35.0625zM231.375 127h35.0625v1h-35.0625zM231.375 172h35.0625v1h-35.0625zM231.375 207h35.0625v1h-35.0625zM231.375 229h35.0625v1h-35.0625zM231.375 249h35.0625v1h-35.0625zM231.375 291h35.0625v1h-35.0625zM231.375 310h35.0625v1h-35.0625zM231.375 313h35.0625v1h-35.0625zM231.375 365h35.0625v1h-35.0625zM231.375 367h35.0625v1h-35.0625zM231.375 372h35.0625v1h-35.0625zM231.375 394h35.0625v1h-35.0625zM231.375 463h35.0625v1h-35.0625zM231.375 492h35.0625v2h-35.0625zM231.375 502h35.0625v1h-35.0625z"/><path fill="#f59994" d="M231.375 6h35.0625v1h-35.0625zM231.375 14h35.0625v1h-35.0625zM231.375 17h35.0625v2h-35.0625zM231.375 23h35.0625v1h-35.0625zM231.375 31h35.0625v1h-35.0625zM231.375 73h35.0625v1h-35.0625zM231.375 82h35.0625v1h-35.0625zM231.375 116h35.0625v1h-35.0625zM231.375 124h35.0625v1h-35.0625zM231.375 129h35.0625v1h-35.0625zM231.375 134h35.0625v1h-35.0625zM231.375 151h35.0625v1h-35.0625zM231.375 157h35.0625v1h-35.0625zM231.375 167h35.0625v1h-35.0625zM231.375 210h35.0625v1h-35.0625zM231.375 213h35.0625v1h-35.0625zM231.375 223h35.0625v1h-35.0625zM231.375 236h35.0625v1h-35.0625zM231.375 255h35.0625v1h-35.0625zM231.375 272h35.0625v1h-35.0625zM231.375 318h35.0625v1h-35.0625zM231.375 328h35.0625v1h-35.0625zM231.375 346h35.0625v1h-35.0625zM231.375 368h35.0625v1h-35.0625zM231.375 406h35.0625v1h-35.0625zM231.375 422h35.0625v1h-35.0625zM231.375 436h35.0625v1h-35.0625zM231.375 455h35.0625v1h-35.0625zM231.375 460h35.0625v1h-35.0625zM231.375 467h35.0625v1h-35.0625zM231.375 487h35.0625v1h-35.0625zM231.375 497h35.0625v1h-35.0625zM231.375 500h35.0625v1h-35.0625zM231.375 508h35.0625v1h-35.0625zM231.375 513h35.0625v1h-35.0625z"/><path fill="#f4958f" d="M231.375 4h35.0625v2h-35.0625zM231.375 13h35.0625v1h-35.0625zM231.375 32h35.0625v1h-35.0625zM231.375 45h35.0625v1h-35.0625zM231.375 78h35.0625v1h-35.0625zM231.375 81h35.0625v1h-35.0625zM231.375 83h35.0625v1h-35.0625zM231.375 97h35.0625v1h-35.0625zM231.375 118h35.0625v1h-35.0625zM231.375 125h35.0625v1h-35.0625zM231.375 146h35.0625v1h-35.0625zM231.375 152h35.0625v1h-35.0625zM231.375 158h35.0625v1h-35.0625zM231.375 161h35.0625v1h-35.0625zM231.375 166h35.0625v1h-35.0625zM231.375 169h35.0625v1h-35.0625zM231.375 215h35.0625v1h-35.0625zM231.375 227h35.0625v2h-35.0625zM231.375 230h35.0625v1h-35.0625zM231.375 240h35.0625v1h-35.0625zM231.375 270h35.0625v1h-35.0625zM231.375 311h35.0625v1h-35.0625zM231.375 314h35.0625v2h-35.0625zM231.375 325h35.0625v1h-35.0625zM231.375 379h35.0625v1h-35.0625zM231.375 407h35.0625v1h-35.0625zM231.375 425h35.0625v1h-35.0625zM231.375 439h35.0625v1h-35.0625zM231.375 456h35.0625v1h-35.0625zM231.375 466h35.0625v1h-35.0625zM231.375 468h35.0625v2h-35.0625zM231.375 471h35.0625v1h-35.0625zM231.375 486h35.0625v1h-35.0625zM231.375 499h35.0625v1h-35.0625zM231.375 503h35.0625v1h-35.0625zM231.375 519h35.0625v1h-35.0625zM231.375 523h35.0625v2h-35.0625z"/><path fill="#f2908b" d="M231.375 3h35.0625v1h-35.0625zM231.375 9h35.0625v1h-35.0625zM231.375 28h35.0625v1h-35.0625zM231.375 33h35.0625v1h-35.0625zM231.375 43h35.0625v1h-35.0625zM231.375 48h35.0625v1h-35.0625zM231.375 52h35.0625v1h-35.0625zM231.375 60h35.0625v1h-35.0625zM231.375 74h35.0625v1h-35.0625zM231.375 79h35.0625v1h-35.0625zM231.375 84h35.0625v1h-35.0625zM231.375 86h35.0625v1h-35.0625zM231.375 91h35.0625v1h-35.0625zM231.375 106h35.0625v1h-35.0625zM231.375 114h35.0625v1h-35.0625zM231.375 131h35.0625v1h-35.0625zM231.375 136h35.0625v1h-35.0625zM231.375 145h35.0625v1h-35.0625zM231.375 150h35.0625v1h-35.0625zM231.375 160h35.0625v1h-35.0625zM231.375 190h35.0625v1h-35.0625zM231.375 235h35.0625v1h-35.0625zM231.375 247h35.0625v1h-35.0625zM231.375 260h35.0625v2h-35.0625zM231.375 265h35.0625v1h-35.0625zM231.375 271h35.0625v1h-35.0625zM231.375 290h35.0625v1h-35.0625zM231.375 309h35.0625v1h-35.0625zM231.375 312h35.0625v1h-35.0625zM231.375 319h35.0625v1h-35.0625zM231.375 321h35.0625v1h-35.0625zM231.375 326h35.0625v1h-35.0625zM231.375 335h35.0625v1h-35.0625zM231.375 345h35.0625v1h-35.0625zM231.375 373h35.0625v1h-35.0625zM231.375 382h35.0625v1h-35.0625zM231.375 400h35.0625v1h-35.0625zM231.375 415h35.0625v1h-35.0625zM231.375 420h35.0625v2h-35.0625zM231.375 423h35.0625v1h-35.0625zM231.375 435h35.0625v1h-35.0625zM231.375 442h35.0625v1h-35.0625zM231.375 448h35.0625v1h-35.0625zM231.375 453h35.0625v1h-35.0625zM231.375 462h35.0625v1h-35.0625zM231.375 474h35.0625v1h-35.0625zM231.375 490h35.0625v1h-35.0625zM231.375 494h35.0625v1h-35.0625zM231.375 501h35.0625v1h-35.0625zM231.375 522h35.0625v1h-35.0625z"/><path fill="#f18c86" d="M231.375 2h35.0625v1h-35.0625zM231.375 11h35.0625v2h-35.0625zM231.375 26h35.0625v1h-35.0625zM231.375 29h35.0625v2h-35.0625zM231.375 39h35.0625v1h-35.0625zM231.375 69h35.0625v2h-35.0625zM231.375 88h35.0625v1h-35.0625zM231.375 98h35.0625v1h-35.0625zM231.375 105h35.0625v1h-35.0625zM231.375 110h35.0625v1h-35.0625zM231.375 115h35.0625v1h-35.0625zM231.375 117h35.0625v1h-35.0625zM231.375 133h35.0625v1h-35.0625zM231.375 144h35.0625v1h-35.0625zM231.375 148h35.0625v1h-35.0625zM231.375 153h35.0625v2h-35.0625zM231.375 156h35.0625v1h-35.0625zM231.375 176h35.0625v1h-35.0625zM231.375 209h35.0625v1h-35.0625zM231.375 216h35.0625v2h-35.0625zM231.375 222h35.0625v1h-35.0625zM231.375 231h35.0625v2h-35.0625zM231.375 241h35.0625v1h-35.0625zM231.375 252h35.0625v1h-35.0625zM231.375 258h35.0625v2h-35.0625zM231.375 275h35.0625v1h-35.0625zM231.375 282h35.0625v1h-35.0625zM231.375 284h35.0625v1h-35.0625zM231.375 286h35.0625v2h-35.0625zM231.375 327h35.0625v1h-35.0625zM231.375 332h35.0625v2h-35.0625zM231.375 338h35.0625v1h-35.0625zM231.375 350h35.0625v2h-35.0625zM231.375 364h35.0625v1h-35.0625zM231.375 366h35.0625v1h-35.0625zM231.375 384h35.0625v1h-35.0625zM231.375 405h35.0625v1h-35.0625zM231.375 416h35.0625v1h-35.0625zM231.375 428h35.0625v1h-35.0625zM231.375 441h35.0625v1h-35.0625zM231.375 446h35.0625v1h-35.0625zM231.375 472h35.0625v1h-35.0625zM231.375 476h35.0625v1h-35.0625zM231.375 478h35.0625v1h-35.0625zM231.375 507h35.0625v1h-35.0625zM231.375 520h35.0625v1h-35.0625z"/><path fill="#f08782" d="M231.375 0.75h35.0625v1.25h-35.0625zM231.375 7h35.0625v1h-35.0625zM231.375 24h35.0625v1h-35.0625zM231.375 34h35.0625v1h-35.0625zM231.375 36h35.0625v2h-35.0625zM231.375 40h35.0625v2h-35.0625zM231.375 44h35.0625v1h-35.0625zM231.375 47h35.0625v1h-35.0625zM231.375 62h35.0625v1h-35.0625zM231.375 65h35.0625v1h-35.0625zM231.375 85h35.0625v1h-35.0625zM231.375 90h35.0625v1h-35.0625zM231.375 102h35.0625v1h-35.0625zM231.375 109h35.0625v1h-35.0625zM231.375 122h35.0625v1h-35.0625zM231.375 155h35.0625v1h-35.0625zM231.375 165h35.0625v1h-35.0625zM231.375 175h35.0625v1h-35.0625zM231.375 184h35.0625v3h-35.0625zM231.375 195h35.0625v1h-35.0625zM231.375 201h35.0625v1h-35.0625zM231.375 211h35.0625v1h-35.0625zM231.375 218h35.0625v3h-35.0625zM231.375 226h35.0625v1h-35.0625zM231.375 238h35.0625v1h-35.0625zM231.375 254h35.0625v1h-35.0625zM231.375 263h35.0625v2h-35.0625zM231.375 267h35.0625v1h-35.0625zM231.375 283h35.0625v1h-35.0625zM231.375 289h35.0625v1h-35.0625zM231.375 293h35.0625v1h-35.0625zM231.375 296h35.0625v4h-35.0625zM231.375 304h35.0625v2h-35.0625zM231.375 308h35.0625v1h-35.0625zM231.375 324h35.0625v1h-35.0625zM231.375 336h35.0625v1h-35.0625zM231.375 344h35.0625v1h-35.0625zM231.375 352h35.0625v1h-35.0625zM231.375 360h35.0625v1h-35.0625zM231.375 371h35.0625v1h-35.0625zM231.375 378h35.0625v1h-35.0625zM231.375 380h35.0625v1h-35.0625zM231.375 388h35.0625v1h-35.0625zM231.375 391h35.0625v1h-35.0625zM231.375 395h35.0625v2h-35.0625zM231.375 403h35.0625v1h-35.0625zM231.375 429h35.0625v2h-35.0625zM231.375 437h35.0625v1h-35.0625zM231.375 450h35.0625v2h-35.0625zM231.375 459h35.0625v1h-35.0625zM231.375 464h35.0625v1h-35.0625zM231.375 491h35.0625v1h-35.0625zM231.375 495h35.0625v1h-35.0625zM231.375 506h35.0625v1h-35.0625zM231.375 509h35.0625v1h-35.0625zM231.375 512h35.0625v1h-35.0625zM231.375 518h35.0625v1h-35.0625zM231.375 526h35.0625v1h-35.0625z"/><path fill="#ef827e" d="M231.375 16h35.0625v1h-35.0625zM231.375 42h35.0625v1h-35.0625zM231.375 76h35.0625v1h-35.0625zM231.375 87h35.0625v1h-35.0625zM231.375 89h35.0625v1h-35.0625zM231.375 93h35.0625v1h-35.0625zM231.375 119h35.0625v1h-35.0625zM231.375 121h35.0625v1h-35.0625zM231.375 123h35.0625v1h-35.0625zM231.375 126h35.0625v1h-35.0625zM231.375 132h35.0625v1h-35.0625zM231.375 142h35.0625v2h-35.0625zM231.375 149h35.0625v1h-35.0625zM231.375 162h35.0625v1h-35.0625zM231.375 177h35.0625v1h-35.0625zM231.375 189h35.0625v1h-35.0625zM231.375 192h35.0625v1h-35.0625zM231.375 196h35.0625v1h-35.0625zM231.375 198h35.0625v1h-35.0625zM231.375 204h35.0625v1h-35.0625zM231.375 224h35.0625v2h-35.0625zM231.375 237h35.0625v1h-35.0625zM231.375 239h35.0625v1h-35.0625zM231.375 243h35.0625v3h-35.0625zM231.375 262h35.0625v1h-35.0625zM231.375 266h35.0625v1h-35.0625zM231.375 277h35.0625v1h-35.0625zM231.375 279h35.0625v1h-35.0625zM231.375 281h35.0625v1h-35.0625zM231.375 294h35.0625v2h-35.0625zM231.375 303h35.0625v1h-35.0625zM231.375 307h35.0625v1h-35.0625zM231.375 320h35.0625v1h-35.0625zM231.375 331h35.0625v1h-35.0625zM231.375 358h35.0625v2h-35.0625zM231.375 374h35.0625v1h-35.0625zM231.375 381h35.0625v1h-35.0625zM231.375 383h35.0625v1h-35.0625zM231.375 390h35.0625v1h-35.0625zM231.375 408h35.0625v1h-35.0625zM231.375 414h35.0625v1h-35.0625zM231.375 418h35.0625v1h-35.0625zM231.375 432h35.0625v3h-35.0625zM231.375 440h35.0625v1h-35.0625zM231.375 447h35.0625v1h-35.0625zM231.375 452h35.0625v1h-35.0625zM231.375 457h35.0625v1h-35.0625zM231.375 483h35.0625v2h-35.0625zM231.375 510h35.0625v2h-35.0625zM231.375 515h35.0625v1h-35.0625zM231.375 525h35.0625v1h-35.0625z"/><path fill="#ed7e79" d="M231.375 51h35.0625v1h-35.0625zM231.375 53h35.0625v1h-35.0625zM231.375 61h35.0625v1h-35.0625zM231.375 63h35.0625v1h-35.0625zM231.375 66h35.0625v1h-35.0625zM231.375 71h35.0625v1h-35.0625zM231.375 75h35.0625v1h-35.0625zM231.375 80h35.0625v1h-35.0625zM231.375 92h35.0625v1h-35.0625zM231.375 95h35.0625v2h-35.0625zM231.375 103h35.0625v1h-35.0625zM231.375 111h35.0625v2h-35.0625zM231.375 120h35.0625v1h-35.0625zM231.375 130h35.0625v1h-35.0625zM231.375 137h35.0625v1h-35.0625zM231.375 147h35.0625v1h-35.0625zM231.375 168h35.0625v1h-35.0625zM231.375 171h35.0625v1h-35.0625zM231.375 173h35.0625v2h-35.0625zM231.375 178h35.0625v1h-35.0625zM231.375 181h35.0625v1h-35.0625zM231.375 199h35.0625v1h-35.0625zM231.375 203h35.0625v1h-35.0625zM231.375 221h35.0625v1h-35.0625zM231.375 233h35.0625v1h-35.0625zM231.375 268h35.0625v1h-35.0625zM231.375 280h35.0625v1h-35.0625zM231.375 300h35.0625v1h-35.0625zM231.375 334h35.0625v1h-35.0625zM231.375 342h35.0625v1h-35.0625zM231.375 347h35.0625v1h-35.0625zM231.375 363h35.0625v1h-35.0625zM231.375 369h35.0625v1h-35.0625zM231.375 389h35.0625v1h-35.0625zM231.375 397h35.0625v1h-35.0625zM231.375 401h35.0625v2h-35.0625zM231.375 424h35.0625v1h-35.0625zM231.375 431h35.0625v1h-35.0625zM231.375 444h35.0625v1h-35.0625zM231.375 473h35.0625v1h-35.0625zM231.375 475h35.0625v1h-35.0625zM231.375 480h35.0625v3h-35.0625zM231.375 505h35.0625v1h-35.0625z"/><path fill="#ec7975" d="M231.375 8h35.0625v1h-35.0625zM231.375 35h35.0625v1h-35.0625zM231.375 38h35.0625v1h-35.0625zM231.375 55h35.0625v1h-35.0625zM231.375 108h35.0625v1h-35.0625zM231.375 135h35.0625v1h-35.0625zM231.375 138h35.0625v1h-35.0625zM231.375 170h35.0625v1h-35.0625zM231.375 179h35.0625v2h-35.0625zM231.375 187h35.0625v2h-35.0625zM231.375 193h35.0625v1h-35.0625zM231.375 197h35.0625v1h-35.0625zM231.375 205h35.0625v2h-35.0625zM231.375 212h35.0625v1h-35.0625zM231.375 234h35.0625v1h-35.0625zM231.375 257h35.0625v1h-35.0625zM231.375 274h35.0625v1h-35.0625zM231.375 276h35.0625v1h-35.0625zM231.375 285h35.0625v1h-35.0625zM231.375 288h35.0625v1h-35.0625zM231.375 292h35.0625v1h-35.0625zM231.375 322h35.0625v1h-35.0625zM231.375 329h35.0625v1h-35.0625zM231.375 341h35.0625v1h-35.0625zM231.375 343h35.0625v1h-35.0625zM231.375 353h35.0625v3h-35.0625zM231.375 370h35.0625v1h-35.0625zM231.375 404h35.0625v1h-35.0625zM231.375 412h35.0625v1h-35.0625zM231.375 419h35.0625v1h-35.0625zM231.375 461h35.0625v1h-35.0625zM231.375 504h35.0625v1h-35.0625z"/><path fill="#eb7471" d="M231.375 50h35.0625v1h-35.0625zM231.375 57h35.0625v1h-35.0625zM231.375 104h35.0625v1h-35.0625zM231.375 107h35.0625v1h-35.0625zM231.375 139h35.0625v1h-35.0625zM231.375 163h35.0625v1h-35.0625zM231.375 183h35.0625v1h-35.0625zM231.375 242h35.0625v1h-35.0625zM231.375 246h35.0625v1h-35.0625zM231.375 253h35.0625v1h-35.0625zM231.375 302h35.0625v1h-35.0625zM231.375 306h35.0625v1h-35.0625zM231.375 323h35.0625v1h-35.0625zM231.375 339h35.0625v1h-35.0625zM231.375 349h35.0625v1h-35.0625zM231.375 361h35.0625v1h-35.0625zM231.375 385h35.0625v1h-35.0625zM231.375 387h35.0625v1h-35.0625zM231.375 411h35.0625v1h-35.0625zM231.375 426h35.0625v2h-35.0625zM231.375 443h35.0625v1h-35.0625zM231.375 445h35.0625v1h-35.0625zM231.375 465h35.0625v1h-35.0625zM231.375 516h35.0625v1h-35.0625z"/><path fill="#e9706d" d="M231.375 58h35.0625v2h-35.0625zM231.375 68h35.0625v1h-35.0625zM231.375 94h35.0625v1h-35.0625zM231.375 202h35.0625v1h-35.0625zM231.375 337h35.0625v1h-35.0625zM231.375 348h35.0625v1h-35.0625zM231.375 357h35.0625v1h-35.0625zM231.375 376h35.0625v2h-35.0625zM231.375 386h35.0625v1h-35.0625zM231.375 398h35.0625v1h-35.0625zM231.375 413h35.0625v1h-35.0625zM231.375 479h35.0625v1h-35.0625z"/><path fill="#e86b69" d="M231.375 54h35.0625v1h-35.0625zM231.375 67h35.0625v1h-35.0625zM231.375 141h35.0625v1h-35.0625zM231.375 159h35.0625v1h-35.0625zM231.375 200h35.0625v1h-35.0625zM231.375 301h35.0625v1h-35.0625zM231.375 330h35.0625v1h-35.0625zM231.375 340h35.0625v1h-35.0625zM231.375 362h35.0625v1h-35.0625zM231.375 375h35.0625v1h-35.0625zM231.375 417h35.0625v1h-35.0625zM231.375 517h35.0625v1h-35.0625z"/><path fill="#e66664" d="M231.375 485h35.0625v1h-35.0625z"/><path fill="#e56160" d="M231.375 356h35.0625v1h-35.0625z"/><path fill="#fed3cf" d="M265.438 392h35.0625v1h-35.0625z"/><path fill="#fececa" d="M265.438 454h35.0625v1h-35.0625zM265.438 488h35.0625v1h-35.0625z"/><path fill="#fcc1bc" d="M265.438 10h35.0625v1h-35.0625zM265.438 128h35.0625v1h-35.0625zM265.438 191h35.0625v1h-35.0625z"/><path fill="#fbb8b3" d="M265.438 82h35.0625v1h-35.0625zM265.438 164h35.0625v1h-35.0625zM265.438 316h35.0625v1h-35.0625z"/><path fill="#fab4af" d="M265.438 15h35.0625v1h-35.0625zM265.438 77h35.0625v1h-35.0625zM265.438 113h35.0625v1h-35.0625zM265.438 194h35.0625v1h-35.0625zM265.438 256h35.0625v1h-35.0625zM265.438 399h35.0625v1h-35.0625zM265.438 521h35.0625v1h-35.0625z"/><path fill="#f9afaa" d="M265.438 140h35.0625v1h-35.0625zM265.438 438h35.0625v1h-35.0625z"/><path fill="#f8aba6" d="M265.438 25h35.0625v1h-35.0625zM265.438 409h35.0625v1h-35.0625zM265.438 449h35.0625v1h-35.0625zM265.438 458h35.0625v1h-35.0625zM265.438 477h35.0625v1h-35.0625z"/><path fill="#f8a7a1" d="M265.438 127h35.0625v1h-35.0625zM265.438 172h35.0625v1h-35.0625zM265.438 367h35.0625v1h-35.0625zM265.438 470h35.0625v1h-35.0625zM265.438 496h35.0625v1h-35.0625z"/><path fill="#f7a29d" d="M265.438 19h35.0625v1h-35.0625zM265.438 21h35.0625v1h-35.0625zM265.438 72h35.0625v1h-35.0625zM265.438 169h35.0625v1h-35.0625zM265.438 182h35.0625v1h-35.0625zM265.438 208h35.0625v1h-35.0625zM265.438 213h35.0625v1h-35.0625zM265.438 248h35.0625v4h-35.0625zM265.438 269h35.0625v1h-35.0625zM265.438 278h35.0625v1h-35.0625zM265.438 310h35.0625v1h-35.0625zM265.438 368h35.0625v1h-35.0625zM265.438 393h35.0625v1h-35.0625zM265.438 487h35.0625v1h-35.0625z"/><path fill="#f69e98" d="M265.438 20h35.0625v1h-35.0625zM265.438 23h35.0625v1h-35.0625zM265.438 27h35.0625v1h-35.0625zM265.438 31h35.0625v1h-35.0625zM265.438 64h35.0625v1h-35.0625zM265.438 99h35.0625v3h-35.0625zM265.438 129h35.0625v1h-35.0625zM265.438 207h35.0625v1h-35.0625zM265.438 214h35.0625v1h-35.0625zM265.438 272h35.0625v1h-35.0625zM265.438 291h35.0625v1h-35.0625zM265.438 313h35.0625v2h-35.0625zM265.438 317h35.0625v1h-35.0625zM265.438 365h35.0625v1h-35.0625zM265.438 372h35.0625v1h-35.0625zM265.438 394h35.0625v1h-35.0625zM265.438 406h35.0625v1h-35.0625zM265.438 410h35.0625v1h-35.0625zM265.438 422h35.0625v1h-35.0625zM265.438 463h35.0625v1h-35.0625zM265.438 489h35.0625v1h-35.0625zM265.438 498h35.0625v1h-35.0625zM265.438 500h35.0625v1h-35.0625zM265.438 502h35.0625v1h-35.0625zM265.438 514h35.0625v1h-35.0625zM265.438 522h35.0625v1h-35.0625z"/><path fill="#f59994" d="M265.438 4h35.0625v1h-35.0625zM265.438 6h35.0625v1h-35.0625zM265.438 17h35.0625v1h-35.0625zM265.438 46h35.0625v1h-35.0625zM265.438 81h35.0625v1h-35.0625zM265.438 86h35.0625v1h-35.0625zM265.438 116h35.0625v1h-35.0625zM265.438 124h35.0625v2h-35.0625zM265.438 151h35.0625v1h-35.0625zM265.438 166h35.0625v2h-35.0625zM265.438 210h35.0625v1h-35.0625zM265.438 223h35.0625v1h-35.0625zM265.438 227h35.0625v1h-35.0625zM265.438 229h35.0625v2h-35.0625zM265.438 255h35.0625v1h-35.0625zM265.438 260h35.0625v1h-35.0625zM265.438 270h35.0625v1h-35.0625zM265.438 273h35.0625v1h-35.0625zM265.438 315h35.0625v1h-35.0625zM265.438 319h35.0625v1h-35.0625zM265.438 373h35.0625v1h-35.0625zM265.438 439h35.0625v1h-35.0625zM265.438 455h35.0625v1h-35.0625zM265.438 466h35.0625v2h-35.0625zM265.438 492h35.0625v2h-35.0625zM265.438 513h35.0625v1h-35.0625z"/><path fill="#f4958f" d="M265.438 5h35.0625v1h-35.0625zM265.438 14h35.0625v1h-35.0625zM265.438 18h35.0625v1h-35.0625zM265.438 22h35.0625v1h-35.0625zM265.438 26h35.0625v1h-35.0625zM265.438 28h35.0625v1h-35.0625zM265.438 45h35.0625v1h-35.0625zM265.438 49h35.0625v1h-35.0625zM265.438 52h35.0625v1h-35.0625zM265.438 97h35.0625v1h-35.0625zM265.438 134h35.0625v1h-35.0625zM265.438 136h35.0625v1h-35.0625zM265.438 146h35.0625v1h-35.0625zM265.438 157h35.0625v1h-35.0625zM265.438 161h35.0625v1h-35.0625zM265.438 177h35.0625v1h-35.0625zM265.438 190h35.0625v1h-35.0625zM265.438 228h35.0625v1h-35.0625zM265.438 240h35.0625v1h-35.0625zM265.438 261h35.0625v1h-35.0625zM265.438 271h35.0625v1h-35.0625zM265.438 309h35.0625v1h-35.0625zM265.438 344h35.0625v3h-35.0625zM265.438 407h35.0625v1h-35.0625zM265.438 425h35.0625v1h-35.0625zM265.438 446h35.0625v1h-35.0625zM265.438 456h35.0625v1h-35.0625zM265.438 460h35.0625v1h-35.0625zM265.438 462h35.0625v1h-35.0625zM265.438 469h35.0625v1h-35.0625zM265.438 486h35.0625v1h-35.0625zM265.438 497h35.0625v1h-35.0625zM265.438 501h35.0625v1h-35.0625zM265.438 503h35.0625v1h-35.0625zM265.438 508h35.0625v1h-35.0625zM265.438 519h35.0625v1h-35.0625zM265.438 523h35.0625v1h-35.0625z"/><path fill="#f2908b" d="M265.438 3h35.0625v1h-35.0625zM265.438 32h35.0625v1h-35.0625zM265.438 34h35.0625v1h-35.0625zM265.438 39h35.0625v1h-35.0625zM265.438 69h35.0625v1h-35.0625zM265.438 73h35.0625v1h-35.0625zM265.438 78h35.0625v1h-35.0625zM265.438 83h35.0625v1h-35.0625zM265.438 85h35.0625v1h-35.0625zM265.438 118h35.0625v1h-35.0625zM265.438 131h35.0625v1h-35.0625zM265.438 144h35.0625v2h-35.0625zM265.438 148h35.0625v1h-35.0625zM265.438 150h35.0625v1h-35.0625zM265.438 152h35.0625v1h-35.0625zM265.438 158h35.0625v1h-35.0625zM265.438 160h35.0625v1h-35.0625zM265.438 176h35.0625v1h-35.0625zM265.438 185h35.0625v1h-35.0625zM265.438 211h35.0625v1h-35.0625zM265.438 216h35.0625v2h-35.0625zM265.438 219h35.0625v1h-35.0625zM265.438 222h35.0625v1h-35.0625zM265.438 236h35.0625v1h-35.0625zM265.438 247h35.0625v1h-35.0625zM265.438 258h35.0625v2h-35.0625zM265.438 267h35.0625v1h-35.0625zM265.438 287h35.0625v1h-35.0625zM265.438 308h35.0625v1h-35.0625zM265.438 311h35.0625v1h-35.0625zM265.438 318h35.0625v1h-35.0625zM265.438 328h35.0625v1h-35.0625zM265.438 333h35.0625v1h-35.0625zM265.438 335h35.0625v2h-35.0625zM265.438 350h35.0625v1h-35.0625zM265.438 371h35.0625v1h-35.0625zM265.438 382h35.0625v1h-35.0625zM265.438 384h35.0625v1h-35.0625zM265.438 400h35.0625v1h-35.0625zM265.438 423h35.0625v1h-35.0625zM265.438 433h35.0625v1h-35.0625zM265.438 436h35.0625v1h-35.0625zM265.438 448h35.0625v1h-35.0625zM265.438 471h35.0625v2h-35.0625zM265.438 474h35.0625v1h-35.0625zM265.438 478h35.0625v1h-35.0625zM265.438 494h35.0625v1h-35.0625zM265.438 507h35.0625v1h-35.0625zM265.438 524h35.0625v1h-35.0625z"/><path fill="#f18c86" d="M265.438 2h35.0625v1h-35.0625zM265.438 9h35.0625v1h-35.0625zM265.438 13h35.0625v1h-35.0625zM265.438 24h35.0625v1h-35.0625zM265.438 29h35.0625v1h-35.0625zM265.438 33h35.0625v1h-35.0625zM265.438 43h35.0625v1h-35.0625zM265.438 56h35.0625v1h-35.0625zM265.438 65h35.0625v1h-35.0625zM265.438 70h35.0625v1h-35.0625zM265.438 74h35.0625v1h-35.0625zM265.438 79h35.0625v1h-35.0625zM265.438 84h35.0625v1h-35.0625zM265.438 87h35.0625v2h-35.0625zM265.438 102h35.0625v1h-35.0625zM265.438 109h35.0625v2h-35.0625zM265.438 114h35.0625v2h-35.0625zM265.438 126h35.0625v1h-35.0625zM265.438 133h35.0625v1h-35.0625zM265.438 153h35.0625v1h-35.0625zM265.438 156h35.0625v1h-35.0625zM265.438 165h35.0625v1h-35.0625zM265.438 184h35.0625v1h-35.0625zM265.438 186h35.0625v1h-35.0625zM265.438 195h35.0625v1h-35.0625zM265.438 201h35.0625v1h-35.0625zM265.438 204h35.0625v1h-35.0625zM265.438 215h35.0625v1h-35.0625zM265.438 220h35.0625v1h-35.0625zM265.438 226h35.0625v1h-35.0625zM265.438 235h35.0625v1h-35.0625zM265.438 252h35.0625v1h-35.0625zM265.438 265h35.0625v1h-35.0625zM265.438 268h35.0625v1h-35.0625zM265.438 275h35.0625v1h-35.0625zM265.438 282h35.0625v1h-35.0625zM265.438 284h35.0625v1h-35.0625zM265.438 290h35.0625v1h-35.0625zM265.438 304h35.0625v2h-35.0625zM265.438 312h35.0625v1h-35.0625zM265.438 325h35.0625v1h-35.0625zM265.438 327h35.0625v1h-35.0625zM265.438 351h35.0625v1h-35.0625zM265.438 360h35.0625v1h-35.0625zM265.438 364h35.0625v1h-35.0625zM265.438 366h35.0625v1h-35.0625zM265.438 374h35.0625v1h-35.0625zM265.438 379h35.0625v1h-35.0625zM265.438 391h35.0625v1h-35.0625zM265.438 401h35.0625v1h-35.0625zM265.438 416h35.0625v1h-35.0625zM265.438 420h35.0625v2h-35.0625zM265.438 435h35.0625v1h-35.0625zM265.438 442h35.0625v1h-35.0625zM265.438 451h35.0625v1h-35.0625zM265.438 453h35.0625v1h-35.0625zM265.438 468h35.0625v1h-35.0625zM265.438 476h35.0625v1h-35.0625zM265.438 499h35.0625v1h-35.0625zM265.438 512h35.0625v1h-35.0625zM265.438 520h35.0625v1h-35.0625z"/><path fill="#f08782" d="M265.438 7h35.0625v1h-35.0625zM265.438 11h35.0625v2h-35.0625zM265.438 30h35.0625v1h-35.0625zM265.438 36h35.0625v2h-35.0625zM265.438 40h35.0625v1h-35.0625zM265.438 60h35.0625v1h-35.0625zM265.438 62h35.0625v1h-35.0625zM265.438 76h35.0625v1h-35.0625zM265.438 90h35.0625v2h-35.0625zM265.438 98h35.0625v1h-35.0625zM265.438 105h35.0625v2h-35.0625zM265.438 117h35.0625v1h-35.0625zM265.438 122h35.0625v2h-35.0625zM265.438 130h35.0625v1h-35.0625zM265.438 149h35.0625v1h-35.0625zM265.438 154h35.0625v2h-35.0625zM265.438 175h35.0625v1h-35.0625zM265.438 199h35.0625v1h-35.0625zM265.438 203h35.0625v1h-35.0625zM265.438 209h35.0625v1h-35.0625zM265.438 231h35.0625v2h-35.0625zM265.438 245h35.0625v1h-35.0625zM265.438 254h35.0625v1h-35.0625zM265.438 262h35.0625v1h-35.0625zM265.438 283h35.0625v1h-35.0625zM265.438 286h35.0625v1h-35.0625zM265.438 296h35.0625v3h-35.0625zM265.438 300h35.0625v1h-35.0625zM265.438 307h35.0625v1h-35.0625zM265.438 321h35.0625v1h-35.0625zM265.438 324h35.0625v1h-35.0625zM265.438 326h35.0625v1h-35.0625zM265.438 332h35.0625v1h-35.0625zM265.438 338h35.0625v1h-35.0625zM265.438 354h35.0625v1h-35.0625zM265.438 381h35.0625v1h-35.0625zM265.438 390h35.0625v1h-35.0625zM265.438 396h35.0625v1h-35.0625zM265.438 403h35.0625v1h-35.0625zM265.438 405h35.0625v1h-35.0625zM265.438 415h35.0625v1h-35.0625zM265.438 428h35.0625v2h-35.0625zM265.438 432h35.0625v1h-35.0625zM265.438 434h35.0625v1h-35.0625zM265.438 437h35.0625v1h-35.0625zM265.438 441h35.0625v1h-35.0625zM265.438 447h35.0625v1h-35.0625zM265.438 450h35.0625v1h-35.0625zM265.438 461h35.0625v1h-35.0625zM265.438 464h35.0625v1h-35.0625zM265.438 482h35.0625v2h-35.0625zM265.438 491h35.0625v1h-35.0625zM265.438 506h35.0625v1h-35.0625zM265.438 509h35.0625v1h-35.0625zM265.438 518h35.0625v1h-35.0625z"/><path fill="#ef827e" d="M265.438 0.75h35.0625v1.25h-35.0625zM265.438 16h35.0625v1h-35.0625zM265.438 41h35.0625v2h-35.0625zM265.438 47h35.0625v2h-35.0625zM265.438 61h35.0625v1h-35.0625zM265.438 89h35.0625v1h-35.0625zM265.438 120h35.0625v1h-35.0625zM265.438 143h35.0625v1h-35.0625zM265.438 162h35.0625v1h-35.0625zM265.438 192h35.0625v1h-35.0625zM265.438 212h35.0625v1h-35.0625zM265.438 218h35.0625v1h-35.0625zM265.438 224h35.0625v2h-35.0625zM265.438 239h35.0625v1h-35.0625zM265.438 241h35.0625v1h-35.0625zM265.438 244h35.0625v1h-35.0625zM265.438 263h35.0625v1h-35.0625zM265.438 266h35.0625v1h-35.0625zM265.438 279h35.0625v1h-35.0625zM265.438 289h35.0625v1h-35.0625zM265.438 295h35.0625v1h-35.0625zM265.438 299h35.0625v1h-35.0625zM265.438 320h35.0625v1h-35.0625zM265.438 334h35.0625v1h-35.0625zM265.438 352h35.0625v1h-35.0625zM265.438 358h35.0625v1h-35.0625zM265.438 369h35.0625v1h-35.0625zM265.438 378h35.0625v1h-35.0625zM265.438 380h35.0625v1h-35.0625zM265.438 383h35.0625v1h-35.0625zM265.438 388h35.0625v1h-35.0625zM265.438 402h35.0625v1h-35.0625zM265.438 418h35.0625v1h-35.0625zM265.438 430h35.0625v1h-35.0625zM265.438 452h35.0625v1h-35.0625zM265.438 457h35.0625v1h-35.0625zM265.438 459h35.0625v1h-35.0625zM265.438 473h35.0625v1h-35.0625zM265.438 475h35.0625v1h-35.0625zM265.438 481h35.0625v1h-35.0625zM265.438 484h35.0625v1h-35.0625zM265.438 490h35.0625v1h-35.0625zM265.438 495h35.0625v1h-35.0625zM265.438 505h35.0625v1h-35.0625zM265.438 511h35.0625v1h-35.0625zM265.438 526h35.0625v1h-35.0625z"/><path fill="#ed7e79" d="M265.438 44h35.0625v1h-35.0625zM265.438 51h35.0625v1h-35.0625zM265.438 53h35.0625v1h-35.0625zM265.438 63h35.0625v1h-35.0625zM265.438 66h35.0625v1h-35.0625zM265.438 75h35.0625v1h-35.0625zM265.438 80h35.0625v1h-35.0625zM265.438 103h35.0625v1h-35.0625zM265.438 107h35.0625v1h-35.0625zM265.438 111h35.0625v1h-35.0625zM265.438 119h35.0625v1h-35.0625zM265.438 121h35.0625v1h-35.0625zM265.438 132h35.0625v1h-35.0625zM265.438 137h35.0625v1h-35.0625zM265.438 142h35.0625v1h-35.0625zM265.438 147h35.0625v1h-35.0625zM265.438 171h35.0625v1h-35.0625zM265.438 173h35.0625v2h-35.0625zM265.438 178h35.0625v2h-35.0625zM265.438 181h35.0625v1h-35.0625zM265.438 193h35.0625v1h-35.0625zM265.438 196h35.0625v1h-35.0625zM265.438 198h35.0625v1h-35.0625zM265.438 238h35.0625v1h-35.0625zM265.438 243h35.0625v1h-35.0625zM265.438 257h35.0625v1h-35.0625zM265.438 264h35.0625v1h-35.0625zM265.438 277h35.0625v1h-35.0625zM265.438 281h35.0625v1h-35.0625zM265.438 285h35.0625v1h-35.0625zM265.438 293h35.0625v2h-35.0625zM265.438 303h35.0625v1h-35.0625zM265.438 329h35.0625v1h-35.0625zM265.438 331h35.0625v1h-35.0625zM265.438 341h35.0625v2h-35.0625zM265.438 353h35.0625v1h-35.0625zM265.438 359h35.0625v1h-35.0625zM265.438 363h35.0625v1h-35.0625zM265.438 370h35.0625v1h-35.0625zM265.438 389h35.0625v1h-35.0625zM265.438 395h35.0625v1h-35.0625zM265.438 404h35.0625v1h-35.0625zM265.438 408h35.0625v1h-35.0625zM265.438 431h35.0625v1h-35.0625zM265.438 440h35.0625v1h-35.0625zM265.438 444h35.0625v1h-35.0625zM265.438 510h35.0625v1h-35.0625zM265.438 515h35.0625v1h-35.0625zM265.438 525h35.0625v1h-35.0625z"/><path fill="#ec7975" d="M265.438 35h35.0625v1h-35.0625zM265.438 38h35.0625v1h-35.0625zM265.438 57h35.0625v1h-35.0625zM265.438 71h35.0625v1h-35.0625zM265.438 92h35.0625v1h-35.0625zM265.438 108h35.0625v1h-35.0625zM265.438 112h35.0625v1h-35.0625zM265.438 138h35.0625v2h-35.0625zM265.438 159h35.0625v1h-35.0625zM265.438 163h35.0625v1h-35.0625zM265.438 168h35.0625v1h-35.0625zM265.438 180h35.0625v1h-35.0625zM265.438 189h35.0625v1h-35.0625zM265.438 197h35.0625v1h-35.0625zM265.438 202h35.0625v1h-35.0625zM265.438 206h35.0625v1h-35.0625zM265.438 221h35.0625v1h-35.0625zM265.438 233h35.0625v1h-35.0625zM265.438 280h35.0625v1h-35.0625zM265.438 292h35.0625v1h-35.0625zM265.438 322h35.0625v1h-35.0625zM265.438 347h35.0625v1h-35.0625zM265.438 355h35.0625v1h-35.0625zM265.438 361h35.0625v1h-35.0625zM265.438 411h35.0625v2h-35.0625zM265.438 465h35.0625v1h-35.0625zM265.438 480h35.0625v1h-35.0625z"/><path fill="#eb7471" d="M265.438 8h35.0625v1h-35.0625zM265.438 50h35.0625v1h-35.0625zM265.438 55h35.0625v1h-35.0625zM265.438 93h35.0625v1h-35.0625zM265.438 95h35.0625v2h-35.0625zM265.438 135h35.0625v1h-35.0625zM265.438 170h35.0625v1h-35.0625zM265.438 183h35.0625v1h-35.0625zM265.438 187h35.0625v1h-35.0625zM265.438 205h35.0625v1h-35.0625zM265.438 234h35.0625v1h-35.0625zM265.438 242h35.0625v1h-35.0625zM265.438 276h35.0625v1h-35.0625zM265.438 288h35.0625v1h-35.0625zM265.438 301h35.0625v1h-35.0625zM265.438 306h35.0625v1h-35.0625zM265.438 337h35.0625v1h-35.0625zM265.438 339h35.0625v1h-35.0625zM265.438 343h35.0625v1h-35.0625zM265.438 349h35.0625v1h-35.0625zM265.438 375h35.0625v1h-35.0625zM265.438 398h35.0625v1h-35.0625zM265.438 414h35.0625v1h-35.0625zM265.438 419h35.0625v1h-35.0625zM265.438 424h35.0625v1h-35.0625zM265.438 426h35.0625v2h-35.0625zM265.438 443h35.0625v1h-35.0625zM265.438 504h35.0625v1h-35.0625zM265.438 516h35.0625v1h-35.0625z"/><path fill="#e9706d" d="M265.438 54h35.0625v1h-35.0625zM265.438 58h35.0625v1h-35.0625zM265.438 67h35.0625v1h-35.0625zM265.438 188h35.0625v1h-35.0625zM265.438 200h35.0625v1h-35.0625zM265.438 237h35.0625v1h-35.0625zM265.438 246h35.0625v1h-35.0625zM265.438 253h35.0625v1h-35.0625zM265.438 274h35.0625v1h-35.0625zM265.438 302h35.0625v1h-35.0625zM265.438 323h35.0625v1h-35.0625zM265.438 330h35.0625v1h-35.0625zM265.438 340h35.0625v1h-35.0625zM265.438 348h35.0625v1h-35.0625zM265.438 357h35.0625v1h-35.0625zM265.438 376h35.0625v1h-35.0625zM265.438 385h35.0625v1h-35.0625zM265.438 387h35.0625v1h-35.0625zM265.438 397h35.0625v1h-35.0625zM265.438 445h35.0625v1h-35.0625zM265.438 517h35.0625v1h-35.0625z"/><path fill="#e86b69" d="M265.438 59h35.0625v1h-35.0625zM265.438 68h35.0625v1h-35.0625zM265.438 104h35.0625v1h-35.0625zM265.438 141h35.0625v1h-35.0625zM265.438 362h35.0625v1h-35.0625zM265.438 377h35.0625v1h-35.0625zM265.438 386h35.0625v1h-35.0625zM265.438 413h35.0625v1h-35.0625zM265.438 417h35.0625v1h-35.0625zM265.438 485h35.0625v1h-35.0625z"/><path fill="#e66664" d="M265.438 94h35.0625v1h-35.0625zM265.438 356h35.0625v1h-35.0625zM265.438 479h35.0625v1h-35.0625z"/><path fill="#fdcac6" d="M299.5 454h35.0625v1h-35.0625zM299.5 488h35.0625v1h-35.0625z"/><path fill="#fdc6c1" d="M299.5 392h35.0625v1h-35.0625zM299.5 521h35.0625v1h-35.0625z"/><path fill="#fcc1bc" d="M299.5 77h35.0625v1h-35.0625zM299.5 82h35.0625v1h-35.0625z"/><path fill="#fcbdb8" d="M299.5 10h35.0625v1h-35.0625zM299.5 164h35.0625v1h-35.0625zM299.5 191h35.0625v1h-35.0625zM299.5 399h35.0625v1h-35.0625z"/><path fill="#fbb8b3" d="M299.5 128h35.0625v1h-35.0625zM299.5 256h35.0625v1h-35.0625zM299.5 316h35.0625v1h-35.0625zM299.5 470h35.0625v1h-35.0625z"/><path fill="#fab4af" d="M299.5 15h35.0625v1h-35.0625zM299.5 113h35.0625v1h-35.0625zM299.5 182h35.0625v1h-35.0625zM299.5 409h35.0625v1h-35.0625zM299.5 458h35.0625v1h-35.0625z"/><path fill="#f8aba6" d="M299.5 25h35.0625v1h-35.0625zM299.5 64h35.0625v1h-35.0625zM299.5 140h35.0625v1h-35.0625z"/><path fill="#f8a7a1" d="M299.5 56h35.0625v1h-35.0625zM299.5 169h35.0625v1h-35.0625zM299.5 248h35.0625v1h-35.0625zM299.5 251h35.0625v1h-35.0625zM299.5 367h35.0625v1h-35.0625zM299.5 449h35.0625v1h-35.0625zM299.5 477h35.0625v1h-35.0625z"/><path fill="#f7a29d" d="M299.5 21h35.0625v1h-35.0625zM299.5 27h35.0625v1h-35.0625zM299.5 100h35.0625v1h-35.0625zM299.5 127h35.0625v1h-35.0625zM299.5 194h35.0625v1h-35.0625zM299.5 208h35.0625v1h-35.0625zM299.5 250h35.0625v1h-35.0625zM299.5 269h35.0625v1h-35.0625zM299.5 272h35.0625v1h-35.0625zM299.5 317h35.0625v1h-35.0625zM299.5 372h35.0625v1h-35.0625zM299.5 394h35.0625v1h-35.0625zM299.5 487h35.0625v1h-35.0625zM299.5 489h35.0625v1h-35.0625zM299.5 492h35.0625v2h-35.0625zM299.5 498h35.0625v1h-35.0625z"/><path fill="#f69e98" d="M299.5 19h35.0625v2h-35.0625zM299.5 31h35.0625v1h-35.0625zM299.5 46h35.0625v1h-35.0625zM299.5 72h35.0625v1h-35.0625zM299.5 99h35.0625v1h-35.0625zM299.5 101h35.0625v1h-35.0625zM299.5 124h35.0625v1h-35.0625zM299.5 157h35.0625v1h-35.0625zM299.5 167h35.0625v1h-35.0625zM299.5 207h35.0625v1h-35.0625zM299.5 213h35.0625v2h-35.0625zM299.5 229h35.0625v1h-35.0625zM299.5 249h35.0625v1h-35.0625zM299.5 278h35.0625v1h-35.0625zM299.5 291h35.0625v1h-35.0625zM299.5 310h35.0625v1h-35.0625zM299.5 365h35.0625v1h-35.0625zM299.5 393h35.0625v1h-35.0625zM299.5 410h35.0625v1h-35.0625zM299.5 422h35.0625v1h-35.0625zM299.5 438h35.0625v1h-35.0625zM299.5 469h35.0625v1h-35.0625zM299.5 496h35.0625v1h-35.0625zM299.5 500h35.0625v1h-35.0625zM299.5 502h35.0625v1h-35.0625zM299.5 514h35.0625v1h-35.0625z"/><path fill="#f59994" d="M299.5 4h35.0625v1h-35.0625zM299.5 23h35.0625v1h-35.0625zM299.5 49h35.0625v1h-35.0625zM299.5 81h35.0625v1h-35.0625zM299.5 86h35.0625v1h-35.0625zM299.5 116h35.0625v1h-35.0625zM299.5 129h35.0625v1h-35.0625zM299.5 161h35.0625v1h-35.0625zM299.5 210h35.0625v1h-35.0625zM299.5 223h35.0625v1h-35.0625zM299.5 228h35.0625v1h-35.0625zM299.5 230h35.0625v1h-35.0625zM299.5 240h35.0625v1h-35.0625zM299.5 255h35.0625v1h-35.0625zM299.5 273h35.0625v1h-35.0625zM299.5 314h35.0625v2h-35.0625zM299.5 319h35.0625v1h-35.0625zM299.5 368h35.0625v1h-35.0625zM299.5 406h35.0625v1h-35.0625zM299.5 436h35.0625v1h-35.0625zM299.5 439h35.0625v1h-35.0625zM299.5 466h35.0625v1h-35.0625zM299.5 508h35.0625v1h-35.0625z"/><path fill="#f4958f" d="M299.5 5h35.0625v2h-35.0625zM299.5 14h35.0625v1h-35.0625zM299.5 17h35.0625v1h-35.0625zM299.5 73h35.0625v1h-35.0625zM299.5 125h35.0625v1h-35.0625zM299.5 134h35.0625v1h-35.0625zM299.5 144h35.0625v1h-35.0625zM299.5 146h35.0625v1h-35.0625zM299.5 150h35.0625v2h-35.0625zM299.5 158h35.0625v1h-35.0625zM299.5 190h35.0625v1h-35.0625zM299.5 235h35.0625v2h-35.0625zM299.5 260h35.0625v1h-35.0625zM299.5 270h35.0625v1h-35.0625zM299.5 305h35.0625v1h-35.0625zM299.5 313h35.0625v1h-35.0625zM299.5 318h35.0625v1h-35.0625zM299.5 325h35.0625v1h-35.0625zM299.5 333h35.0625v1h-35.0625zM299.5 346h35.0625v1h-35.0625zM299.5 379h35.0625v1h-35.0625zM299.5 382h35.0625v1h-35.0625zM299.5 448h35.0625v1h-35.0625zM299.5 455h35.0625v1h-35.0625zM299.5 462h35.0625v2h-35.0625zM299.5 467h35.0625v2h-35.0625zM299.5 478h35.0625v1h-35.0625zM299.5 486h35.0625v1h-35.0625zM299.5 494h35.0625v1h-35.0625zM299.5 497h35.0625v1h-35.0625zM299.5 501h35.0625v1h-35.0625zM299.5 513h35.0625v1h-35.0625zM299.5 522h35.0625v3h-35.0625z"/><path fill="#f2908b" d="M299.5 11h35.0625v1h-35.0625zM299.5 18h35.0625v1h-35.0625zM299.5 22h35.0625v1h-35.0625zM299.5 26h35.0625v1h-35.0625zM299.5 28h35.0625v1h-35.0625zM299.5 32h35.0625v3h-35.0625zM299.5 43h35.0625v1h-35.0625zM299.5 48h35.0625v1h-35.0625zM299.5 74h35.0625v1h-35.0625zM299.5 83h35.0625v1h-35.0625zM299.5 85h35.0625v1h-35.0625zM299.5 105h35.0625v2h-35.0625zM299.5 136h35.0625v1h-35.0625zM299.5 145h35.0625v1h-35.0625zM299.5 152h35.0625v1h-35.0625zM299.5 160h35.0625v1h-35.0625zM299.5 166h35.0625v1h-35.0625zM299.5 172h35.0625v1h-35.0625zM299.5 211h35.0625v1h-35.0625zM299.5 216h35.0625v2h-35.0625zM299.5 227h35.0625v1h-35.0625zM299.5 252h35.0625v1h-35.0625zM299.5 261h35.0625v1h-35.0625zM299.5 265h35.0625v1h-35.0625zM299.5 271h35.0625v1h-35.0625zM299.5 275h35.0625v1h-35.0625zM299.5 290h35.0625v1h-35.0625zM299.5 299h35.0625v1h-35.0625zM299.5 309h35.0625v1h-35.0625zM299.5 321h35.0625v1h-35.0625zM299.5 328h35.0625v1h-35.0625zM299.5 335h35.0625v1h-35.0625zM299.5 344h35.0625v2h-35.0625zM299.5 371h35.0625v1h-35.0625zM299.5 373h35.0625v1h-35.0625zM299.5 384h35.0625v1h-35.0625zM299.5 400h35.0625v1h-35.0625zM299.5 407h35.0625v1h-35.0625zM299.5 416h35.0625v1h-35.0625zM299.5 423h35.0625v1h-35.0625zM299.5 425h35.0625v1h-35.0625zM299.5 456h35.0625v1h-35.0625zM299.5 460h35.0625v1h-35.0625zM299.5 471h35.0625v1h-35.0625zM299.5 474h35.0625v1h-35.0625zM299.5 476h35.0625v1h-35.0625zM299.5 519h35.0625v1h-35.0625z"/><path fill="#f18c86" d="M299.5 2h35.0625v2h-35.0625zM299.5 9h35.0625v1h-35.0625zM299.5 13h35.0625v1h-35.0625zM299.5 24h35.0625v1h-35.0625zM299.5 29h35.0625v2h-35.0625zM299.5 36h35.0625v1h-35.0625zM299.5 39h35.0625v1h-35.0625zM299.5 45h35.0625v1h-35.0625zM299.5 52h35.0625v1h-35.0625zM299.5 60h35.0625v1h-35.0625zM299.5 78h35.0625v2h-35.0625zM299.5 84h35.0625v1h-35.0625zM299.5 88h35.0625v1h-35.0625zM299.5 97h35.0625v1h-35.0625zM299.5 102h35.0625v1h-35.0625zM299.5 110h35.0625v1h-35.0625zM299.5 115h35.0625v1h-35.0625zM299.5 118h35.0625v1h-35.0625zM299.5 122h35.0625v1h-35.0625zM299.5 131h35.0625v1h-35.0625zM299.5 156h35.0625v1h-35.0625zM299.5 177h35.0625v1h-35.0625zM299.5 203h35.0625v1h-35.0625zM299.5 219h35.0625v2h-35.0625zM299.5 239h35.0625v1h-35.0625zM299.5 241h35.0625v1h-35.0625zM299.5 247h35.0625v1h-35.0625zM299.5 259h35.0625v1h-35.0625zM299.5 287h35.0625v1h-35.0625zM299.5 298h35.0625v1h-35.0625zM299.5 300h35.0625v1h-35.0625zM299.5 311h35.0625v1h-35.0625zM299.5 324h35.0625v1h-35.0625zM299.5 326h35.0625v1h-35.0625zM299.5 338h35.0625v1h-35.0625zM299.5 350h35.0625v2h-35.0625zM299.5 374h35.0625v1h-35.0625zM299.5 420h35.0625v1h-35.0625zM299.5 433h35.0625v1h-35.0625zM299.5 435h35.0625v1h-35.0625zM299.5 441h35.0625v2h-35.0625zM299.5 446h35.0625v1h-35.0625zM299.5 453h35.0625v1h-35.0625zM299.5 459h35.0625v1h-35.0625zM299.5 472h35.0625v1h-35.0625zM299.5 490h35.0625v1h-35.0625zM299.5 503h35.0625v1h-35.0625zM299.5 506h35.0625v1h-35.0625zM299.5 512h35.0625v1h-35.0625zM299.5 518h35.0625v1h-35.0625zM299.5 520h35.0625v1h-35.0625z"/><path fill="#f08782" d="M299.5 0.75h35.0625v1.25h-35.0625zM299.5 7h35.0625v1h-35.0625zM299.5 12h35.0625v1h-35.0625zM299.5 16h35.0625v1h-35.0625zM299.5 37h35.0625v1h-35.0625zM299.5 47h35.0625v1h-35.0625zM299.5 61h35.0625v2h-35.0625zM299.5 65h35.0625v1h-35.0625zM299.5 69h35.0625v2h-35.0625zM299.5 80h35.0625v1h-35.0625zM299.5 87h35.0625v1h-35.0625zM299.5 91h35.0625v1h-35.0625zM299.5 109h35.0625v1h-35.0625zM299.5 114h35.0625v1h-35.0625zM299.5 117h35.0625v1h-35.0625zM299.5 123h35.0625v1h-35.0625zM299.5 126h35.0625v1h-35.0625zM299.5 133h35.0625v1h-35.0625zM299.5 148h35.0625v2h-35.0625zM299.5 153h35.0625v3h-35.0625zM299.5 165h35.0625v1h-35.0625zM299.5 175h35.0625v2h-35.0625zM299.5 184h35.0625v3h-35.0625zM299.5 201h35.0625v1h-35.0625zM299.5 209h35.0625v1h-35.0625zM299.5 215h35.0625v1h-35.0625zM299.5 218h35.0625v1h-35.0625zM299.5 222h35.0625v1h-35.0625zM299.5 224h35.0625v2h-35.0625zM299.5 232h35.0625v1h-35.0625zM299.5 244h35.0625v1h-35.0625zM299.5 262h35.0625v1h-35.0625zM299.5 267h35.0625v1h-35.0625zM299.5 282h35.0625v1h-35.0625zM299.5 284h35.0625v1h-35.0625zM299.5 289h35.0625v1h-35.0625zM299.5 296h35.0625v1h-35.0625zM299.5 304h35.0625v1h-35.0625zM299.5 327h35.0625v1h-35.0625zM299.5 331h35.0625v2h-35.0625zM299.5 334h35.0625v1h-35.0625zM299.5 336h35.0625v1h-35.0625zM299.5 352h35.0625v1h-35.0625zM299.5 364h35.0625v1h-35.0625zM299.5 366h35.0625v1h-35.0625zM299.5 388h35.0625v1h-35.0625zM299.5 390h35.0625v2h-35.0625zM299.5 403h35.0625v1h-35.0625zM299.5 405h35.0625v1h-35.0625zM299.5 414h35.0625v2h-35.0625zM299.5 418h35.0625v1h-35.0625zM299.5 421h35.0625v1h-35.0625zM299.5 432h35.0625v1h-35.0625zM299.5 434h35.0625v1h-35.0625zM299.5 437h35.0625v1h-35.0625zM299.5 475h35.0625v1h-35.0625zM299.5 484h35.0625v1h-35.0625zM299.5 491h35.0625v1h-35.0625zM299.5 499h35.0625v1h-35.0625zM299.5 507h35.0625v1h-35.0625z"/><path fill="#ef827e" d="M299.5 40h35.0625v2h-35.0625zM299.5 44h35.0625v1h-35.0625zM299.5 53h35.0625v1h-35.0625zM299.5 63h35.0625v1h-35.0625zM299.5 108h35.0625v1h-35.0625zM299.5 120h35.0625v2h-35.0625zM299.5 130h35.0625v1h-35.0625zM299.5 142h35.0625v1h-35.0625zM299.5 162h35.0625v1h-35.0625zM299.5 189h35.0625v1h-35.0625zM299.5 195h35.0625v2h-35.0625zM299.5 204h35.0625v1h-35.0625zM299.5 212h35.0625v1h-35.0625zM299.5 231h35.0625v1h-35.0625zM299.5 238h35.0625v1h-35.0625zM299.5 245h35.0625v1h-35.0625zM299.5 254h35.0625v1h-35.0625zM299.5 258h35.0625v1h-35.0625zM299.5 277h35.0625v1h-35.0625zM299.5 279h35.0625v1h-35.0625zM299.5 283h35.0625v1h-35.0625zM299.5 286h35.0625v1h-35.0625zM299.5 294h35.0625v2h-35.0625zM299.5 297h35.0625v1h-35.0625zM299.5 307h35.0625v2h-35.0625zM299.5 312h35.0625v1h-35.0625zM299.5 320h35.0625v1h-35.0625zM299.5 341h35.0625v1h-35.0625zM299.5 354h35.0625v1h-35.0625zM299.5 358h35.0625v3h-35.0625zM299.5 378h35.0625v1h-35.0625zM299.5 380h35.0625v2h-35.0625zM299.5 383h35.0625v1h-35.0625zM299.5 395h35.0625v2h-35.0625zM299.5 424h35.0625v1h-35.0625zM299.5 428h35.0625v1h-35.0625zM299.5 440h35.0625v1h-35.0625zM299.5 450h35.0625v3h-35.0625zM299.5 483h35.0625v1h-35.0625zM299.5 505h35.0625v1h-35.0625zM299.5 511h35.0625v1h-35.0625zM299.5 515h35.0625v1h-35.0625z"/><path fill="#ed7e79" d="M299.5 8h35.0625v1h-35.0625zM299.5 42h35.0625v1h-35.0625zM299.5 71h35.0625v1h-35.0625zM299.5 76h35.0625v1h-35.0625zM299.5 90h35.0625v1h-35.0625zM299.5 93h35.0625v1h-35.0625zM299.5 98h35.0625v1h-35.0625zM299.5 119h35.0625v1h-35.0625zM299.5 132h35.0625v1h-35.0625zM299.5 137h35.0625v3h-35.0625zM299.5 143h35.0625v1h-35.0625zM299.5 163h35.0625v1h-35.0625zM299.5 168h35.0625v1h-35.0625zM299.5 171h35.0625v1h-35.0625zM299.5 173h35.0625v1h-35.0625zM299.5 180h35.0625v1h-35.0625zM299.5 193h35.0625v1h-35.0625zM299.5 197h35.0625v1h-35.0625zM299.5 199h35.0625v1h-35.0625zM299.5 221h35.0625v1h-35.0625zM299.5 226h35.0625v1h-35.0625zM299.5 233h35.0625v1h-35.0625zM299.5 243h35.0625v1h-35.0625zM299.5 263h35.0625v2h-35.0625zM299.5 266h35.0625v1h-35.0625zM299.5 268h35.0625v1h-35.0625zM299.5 280h35.0625v1h-35.0625zM299.5 292h35.0625v2h-35.0625zM299.5 303h35.0625v1h-35.0625zM299.5 342h35.0625v1h-35.0625zM299.5 347h35.0625v1h-35.0625zM299.5 355h35.0625v1h-35.0625zM299.5 363h35.0625v1h-35.0625zM299.5 397h35.0625v1h-35.0625zM299.5 401h35.0625v2h-35.0625zM299.5 444h35.0625v1h-35.0625zM299.5 447h35.0625v1h-35.0625zM299.5 457h35.0625v1h-35.0625zM299.5 461h35.0625v1h-35.0625zM299.5 464h35.0625v1h-35.0625zM299.5 473h35.0625v1h-35.0625zM299.5 482h35.0625v1h-35.0625zM299.5 510h35.0625v1h-35.0625zM299.5 525h35.0625v2h-35.0625z"/><path fill="#ec7975" d="M299.5 35h35.0625v1h-35.0625zM299.5 38h35.0625v1h-35.0625zM299.5 51h35.0625v1h-35.0625zM299.5 54h35.0625v2h-35.0625zM299.5 57h35.0625v1h-35.0625zM299.5 66h35.0625v1h-35.0625zM299.5 75h35.0625v1h-35.0625zM299.5 89h35.0625v1h-35.0625zM299.5 95h35.0625v1h-35.0625zM299.5 103h35.0625v1h-35.0625zM299.5 107h35.0625v1h-35.0625zM299.5 111h35.0625v2h-35.0625zM299.5 147h35.0625v1h-35.0625zM299.5 159h35.0625v1h-35.0625zM299.5 174h35.0625v1h-35.0625zM299.5 178h35.0625v1h-35.0625zM299.5 181h35.0625v1h-35.0625zM299.5 188h35.0625v1h-35.0625zM299.5 192h35.0625v1h-35.0625zM299.5 198h35.0625v1h-35.0625zM299.5 202h35.0625v1h-35.0625zM299.5 274h35.0625v1h-35.0625zM299.5 276h35.0625v1h-35.0625zM299.5 281h35.0625v1h-35.0625zM299.5 285h35.0625v1h-35.0625zM299.5 306h35.0625v1h-35.0625zM299.5 322h35.0625v1h-35.0625zM299.5 349h35.0625v1h-35.0625zM299.5 353h35.0625v1h-35.0625zM299.5 361h35.0625v1h-35.0625zM299.5 370h35.0625v1h-35.0625zM299.5 389h35.0625v1h-35.0625zM299.5 404h35.0625v1h-35.0625zM299.5 408h35.0625v1h-35.0625zM299.5 412h35.0625v1h-35.0625zM299.5 419h35.0625v1h-35.0625zM299.5 429h35.0625v3h-35.0625zM299.5 443h35.0625v1h-35.0625zM299.5 480h35.0625v2h-35.0625zM299.5 495h35.0625v1h-35.0625zM299.5 504h35.0625v1h-35.0625zM299.5 509h35.0625v1h-35.0625z"/><path fill="#eb7471" d="M299.5 92h35.0625v1h-35.0625zM299.5 96h35.0625v1h-35.0625zM299.5 179h35.0625v1h-35.0625zM299.5 183h35.0625v1h-35.0625zM299.5 205h35.0625v2h-35.0625zM299.5 234h35.0625v1h-35.0625zM299.5 237h35.0625v1h-35.0625zM299.5 242h35.0625v1h-35.0625zM299.5 253h35.0625v1h-35.0625zM299.5 257h35.0625v1h-35.0625zM299.5 288h35.0625v1h-35.0625zM299.5 302h35.0625v1h-35.0625zM299.5 329h35.0625v1h-35.0625zM299.5 337h35.0625v1h-35.0625zM299.5 343h35.0625v1h-35.0625zM299.5 369h35.0625v1h-35.0625zM299.5 385h35.0625v1h-35.0625zM299.5 398h35.0625v1h-35.0625zM299.5 411h35.0625v1h-35.0625zM299.5 417h35.0625v1h-35.0625zM299.5 426h35.0625v2h-35.0625zM299.5 445h35.0625v1h-35.0625zM299.5 485h35.0625v1h-35.0625zM299.5 516h35.0625v1h-35.0625z"/><path fill="#e9706d" d="M299.5 50h35.0625v1h-35.0625zM299.5 59h35.0625v1h-35.0625zM299.5 67h35.0625v1h-35.0625zM299.5 135h35.0625v1h-35.0625zM299.5 170h35.0625v1h-35.0625zM299.5 187h35.0625v1h-35.0625zM299.5 246h35.0625v1h-35.0625zM299.5 301h35.0625v1h-35.0625zM299.5 323h35.0625v1h-35.0625zM299.5 339h35.0625v1h-35.0625zM299.5 375h35.0625v1h-35.0625zM299.5 377h35.0625v1h-35.0625zM299.5 386h35.0625v2h-35.0625zM299.5 465h35.0625v1h-35.0625z"/><path fill="#e86b69" d="M299.5 58h35.0625v1h-35.0625zM299.5 68h35.0625v1h-35.0625zM299.5 94h35.0625v1h-35.0625zM299.5 141h35.0625v1h-35.0625zM299.5 200h35.0625v1h-35.0625zM299.5 330h35.0625v1h-35.0625zM299.5 340h35.0625v1h-35.0625zM299.5 357h35.0625v1h-35.0625zM299.5 362h35.0625v1h-35.0625zM299.5 376h35.0625v1h-35.0625zM299.5 479h35.0625v1h-35.0625zM299.5 517h35.0625v1h-35.0625z"/><path fill="#e66664" d="M299.5 104h35.0625v1h-35.0625zM299.5 348h35.0625v1h-35.0625zM299.5 356h35.0625v1h-35.0625zM299.5 413h35.0625v1h-35.0625z"/><path fill="#fed3cf" d="M333.562 488h35.0625v1h-35.0625z"/><path fill="#fcc1bc" d="M333.562 521h35.0625v1h-35.0625z"/><path fill="#fcbdb8" d="M333.562 77h35.0625v1h-35.0625zM333.562 82h35.0625v1h-35.0625zM333.562 128h35.0625v1h-35.0625zM333.562 191h35.0625v1h-35.0625zM333.562 399h35.0625v1h-35.0625zM333.562 458h35.0625v1h-35.0625z"/><path fill="#fbb8b3" d="M333.562 10h35.0625v1h-35.0625zM333.562 15h35.0625v1h-35.0625zM333.562 256h35.0625v1h-35.0625zM333.562 392h35.0625v1h-35.0625zM333.562 454h35.0625v1h-35.0625z"/><path fill="#fab4af" d="M333.562 113h35.0625v1h-35.0625zM333.562 140h35.0625v1h-35.0625zM333.562 194h35.0625v1h-35.0625zM333.562 316h35.0625v1h-35.0625z"/><path fill="#f9afaa" d="M333.562 25h35.0625v1h-35.0625zM333.562 164h35.0625v1h-35.0625zM333.562 169h35.0625v1h-35.0625zM333.562 182h35.0625v1h-35.0625zM333.562 208h35.0625v1h-35.0625zM333.562 409h35.0625v1h-35.0625zM333.562 449h35.0625v1h-35.0625zM333.562 477h35.0625v1h-35.0625z"/><path fill="#f8aba6" d="M333.562 207h35.0625v1h-35.0625z"/><path fill="#f8a7a1" d="M333.562 19h35.0625v1h-35.0625zM333.562 101h35.0625v1h-35.0625zM333.562 251h35.0625v1h-35.0625zM333.562 269h35.0625v1h-35.0625zM333.562 367h35.0625v1h-35.0625zM333.562 470h35.0625v1h-35.0625z"/><path fill="#f7a29d" d="M333.562 20h35.0625v2h-35.0625zM333.562 27h35.0625v1h-35.0625zM333.562 46h35.0625v1h-35.0625zM333.562 100h35.0625v1h-35.0625zM333.562 127h35.0625v1h-35.0625zM333.562 214h35.0625v1h-35.0625zM333.562 248h35.0625v1h-35.0625zM333.562 317h35.0625v1h-35.0625zM333.562 365h35.0625v1h-35.0625zM333.562 368h35.0625v1h-35.0625zM333.562 410h35.0625v1h-35.0625zM333.562 489h35.0625v1h-35.0625zM333.562 498h35.0625v1h-35.0625z"/><path fill="#f69e98" d="M333.562 5h35.0625v1h-35.0625zM333.562 31h35.0625v1h-35.0625zM333.562 56h35.0625v1h-35.0625zM333.562 72h35.0625v1h-35.0625zM333.562 99h35.0625v1h-35.0625zM333.562 116h35.0625v1h-35.0625zM333.562 151h35.0625v1h-35.0625zM333.562 172h35.0625v1h-35.0625zM333.562 213h35.0625v1h-35.0625zM333.562 229h35.0625v1h-35.0625zM333.562 240h35.0625v1h-35.0625zM333.562 250h35.0625v1h-35.0625zM333.562 255h35.0625v1h-35.0625zM333.562 272h35.0625v1h-35.0625zM333.562 278h35.0625v1h-35.0625zM333.562 310h35.0625v1h-35.0625zM333.562 313h35.0625v2h-35.0625zM333.562 372h35.0625v1h-35.0625zM333.562 393h35.0625v2h-35.0625zM333.562 422h35.0625v1h-35.0625zM333.562 487h35.0625v1h-35.0625zM333.562 492h35.0625v2h-35.0625zM333.562 524h35.0625v1h-35.0625z"/><path fill="#f59994" d="M333.562 17h35.0625v1h-35.0625zM333.562 23h35.0625v1h-35.0625zM333.562 28h35.0625v1h-35.0625zM333.562 49h35.0625v1h-35.0625zM333.562 64h35.0625v1h-35.0625zM333.562 73h35.0625v1h-35.0625zM333.562 124h35.0625v2h-35.0625zM333.562 129h35.0625v1h-35.0625zM333.562 134h35.0625v1h-35.0625zM333.562 167h35.0625v1h-35.0625zM333.562 201h35.0625v1h-35.0625zM333.562 223h35.0625v1h-35.0625zM333.562 230h35.0625v1h-35.0625zM333.562 249h35.0625v1h-35.0625zM333.562 291h35.0625v1h-35.0625zM333.562 438h35.0625v1h-35.0625zM333.562 462h35.0625v1h-35.0625zM333.562 478h35.0625v1h-35.0625zM333.562 486h35.0625v1h-35.0625zM333.562 496h35.0625v1h-35.0625zM333.562 500h35.0625v1h-35.0625zM333.562 502h35.0625v2h-35.0625zM333.562 508h35.0625v1h-35.0625zM333.562 514h35.0625v1h-35.0625zM333.562 522h35.0625v1h-35.0625z"/><path fill="#f4958f" d="M333.562 4h35.0625v1h-35.0625zM333.562 6h35.0625v1h-35.0625zM333.562 14h35.0625v1h-35.0625zM333.562 18h35.0625v1h-35.0625zM333.562 32h35.0625v2h-35.0625zM333.562 39h35.0625v1h-35.0625zM333.562 78h35.0625v1h-35.0625zM333.562 81h35.0625v1h-35.0625zM333.562 118h35.0625v1h-35.0625zM333.562 146h35.0625v1h-35.0625zM333.562 150h35.0625v1h-35.0625zM333.562 152h35.0625v1h-35.0625zM333.562 157h35.0625v2h-35.0625zM333.562 161h35.0625v1h-35.0625zM333.562 196h35.0625v1h-35.0625zM333.562 210h35.0625v1h-35.0625zM333.562 228h35.0625v1h-35.0625zM333.562 260h35.0625v2h-35.0625zM333.562 270h35.0625v2h-35.0625zM333.562 311h35.0625v1h-35.0625zM333.562 315h35.0625v1h-35.0625zM333.562 319h35.0625v1h-35.0625zM333.562 346h35.0625v1h-35.0625zM333.562 373h35.0625v1h-35.0625zM333.562 379h35.0625v1h-35.0625zM333.562 400h35.0625v1h-35.0625zM333.562 406h35.0625v1h-35.0625zM333.562 416h35.0625v1h-35.0625zM333.562 420h35.0625v1h-35.0625zM333.562 425h35.0625v1h-35.0625zM333.562 436h35.0625v1h-35.0625zM333.562 439h35.0625v1h-35.0625zM333.562 460h35.0625v1h-35.0625zM333.562 463h35.0625v1h-35.0625zM333.562 466h35.0625v2h-35.0625zM333.562 497h35.0625v1h-35.0625zM333.562 513h35.0625v1h-35.0625zM333.562 523h35.0625v1h-35.0625z"/><path fill="#f2908b" d="M333.562 3h35.0625v1h-35.0625zM333.562 13h35.0625v1h-35.0625zM333.562 22h35.0625v1h-35.0625zM333.562 26h35.0625v1h-35.0625zM333.562 34h35.0625v1h-35.0625zM333.562 36h35.0625v1h-35.0625zM333.562 48h35.0625v1h-35.0625zM333.562 52h35.0625v1h-35.0625zM333.562 86h35.0625v1h-35.0625zM333.562 97h35.0625v1h-35.0625zM333.562 106h35.0625v1h-35.0625zM333.562 117h35.0625v1h-35.0625zM333.562 131h35.0625v1h-35.0625zM333.562 136h35.0625v1h-35.0625zM333.562 145h35.0625v1h-35.0625zM333.562 160h35.0625v1h-35.0625zM333.562 166h35.0625v1h-35.0625zM333.562 177h35.0625v1h-35.0625zM333.562 217h35.0625v1h-35.0625zM333.562 235h35.0625v2h-35.0625zM333.562 239h35.0625v1h-35.0625zM333.562 258h35.0625v2h-35.0625zM333.562 273h35.0625v1h-35.0625zM333.562 305h35.0625v1h-35.0625zM333.562 309h35.0625v1h-35.0625zM333.562 318h35.0625v1h-35.0625zM333.562 325h35.0625v1h-35.0625zM333.562 328h35.0625v1h-35.0625zM333.562 344h35.0625v2h-35.0625zM333.562 382h35.0625v1h-35.0625zM333.562 407h35.0625v1h-35.0625zM333.562 423h35.0625v1h-35.0625zM333.562 446h35.0625v1h-35.0625zM333.562 448h35.0625v1h-35.0625zM333.562 455h35.0625v2h-35.0625zM333.562 468h35.0625v2h-35.0625zM333.562 471h35.0625v1h-35.0625zM333.562 474h35.0625v1h-35.0625zM333.562 476h35.0625v1h-35.0625zM333.562 494h35.0625v1h-35.0625zM333.562 501h35.0625v1h-35.0625zM333.562 507h35.0625v1h-35.0625zM333.562 519h35.0625v2h-35.0625z"/><path fill="#f18c86" d="M333.562 2h35.0625v1h-35.0625zM333.562 7h35.0625v1h-35.0625zM333.562 9h35.0625v1h-35.0625zM333.562 12h35.0625v1h-35.0625zM333.562 29h35.0625v2h-35.0625zM333.562 40h35.0625v1h-35.0625zM333.562 43h35.0625v1h-35.0625zM333.562 47h35.0625v1h-35.0625zM333.562 74h35.0625v1h-35.0625zM333.562 79h35.0625v1h-35.0625zM333.562 88h35.0625v1h-35.0625zM333.562 102h35.0625v1h-35.0625zM333.562 105h35.0625v1h-35.0625zM333.562 114h35.0625v2h-35.0625zM333.562 137h35.0625v1h-35.0625zM333.562 144h35.0625v1h-35.0625zM333.562 156h35.0625v1h-35.0625zM333.562 165h35.0625v1h-35.0625zM333.562 176h35.0625v1h-35.0625zM333.562 185h35.0625v2h-35.0625zM333.562 190h35.0625v1h-35.0625zM333.562 199h35.0625v1h-35.0625zM333.562 203h35.0625v2h-35.0625zM333.562 209h35.0625v1h-35.0625zM333.562 211h35.0625v1h-35.0625zM333.562 215h35.0625v1h-35.0625zM333.562 219h35.0625v2h-35.0625zM333.562 227h35.0625v1h-35.0625zM333.562 231h35.0625v1h-35.0625zM333.562 252h35.0625v1h-35.0625zM333.562 263h35.0625v1h-35.0625zM333.562 265h35.0625v1h-35.0625zM333.562 275h35.0625v1h-35.0625zM333.562 279h35.0625v1h-35.0625zM333.562 282h35.0625v2h-35.0625zM333.562 290h35.0625v1h-35.0625zM333.562 298h35.0625v2h-35.0625zM333.562 304h35.0625v1h-35.0625zM333.562 308h35.0625v1h-35.0625zM333.562 312h35.0625v1h-35.0625zM333.562 321h35.0625v1h-35.0625zM333.562 324h35.0625v1h-35.0625zM333.562 326h35.0625v2h-35.0625zM333.562 333h35.0625v1h-35.0625zM333.562 335h35.0625v2h-35.0625zM333.562 338h35.0625v1h-35.0625zM333.562 350h35.0625v1h-35.0625zM333.562 366h35.0625v1h-35.0625zM333.562 371h35.0625v1h-35.0625zM333.562 374h35.0625v1h-35.0625zM333.562 384h35.0625v1h-35.0625zM333.562 415h35.0625v1h-35.0625zM333.562 421h35.0625v1h-35.0625zM333.562 432h35.0625v1h-35.0625zM333.562 435h35.0625v1h-35.0625zM333.562 441h35.0625v2h-35.0625zM333.562 453h35.0625v1h-35.0625zM333.562 472h35.0625v1h-35.0625zM333.562 506h35.0625v1h-35.0625zM333.562 509h35.0625v1h-35.0625z"/><path fill="#f08782" d="M333.562 11h35.0625v1h-35.0625zM333.562 24h35.0625v1h-35.0625zM333.562 41h35.0625v1h-35.0625zM333.562 45h35.0625v1h-35.0625zM333.562 60h35.0625v1h-35.0625zM333.562 62h35.0625v1h-35.0625zM333.562 69h35.0625v2h-35.0625zM333.562 84h35.0625v2h-35.0625zM333.562 91h35.0625v1h-35.0625zM333.562 98h35.0625v1h-35.0625zM333.562 109h35.0625v1h-35.0625zM333.562 122h35.0625v2h-35.0625zM333.562 126h35.0625v1h-35.0625zM333.562 142h35.0625v1h-35.0625zM333.562 148h35.0625v2h-35.0625zM333.562 153h35.0625v3h-35.0625zM333.562 162h35.0625v1h-35.0625zM333.562 184h35.0625v1h-35.0625zM333.562 195h35.0625v1h-35.0625zM333.562 216h35.0625v1h-35.0625zM333.562 218h35.0625v1h-35.0625zM333.562 222h35.0625v1h-35.0625zM333.562 232h35.0625v1h-35.0625zM333.562 238h35.0625v1h-35.0625zM333.562 241h35.0625v1h-35.0625zM333.562 245h35.0625v1h-35.0625zM333.562 247h35.0625v1h-35.0625zM333.562 264h35.0625v1h-35.0625zM333.562 267h35.0625v1h-35.0625zM333.562 284h35.0625v1h-35.0625zM333.562 287h35.0625v1h-35.0625zM333.562 289h35.0625v1h-35.0625zM333.562 296h35.0625v2h-35.0625zM333.562 332h35.0625v1h-35.0625zM333.562 351h35.0625v1h-35.0625zM333.562 358h35.0625v1h-35.0625zM333.562 364h35.0625v1h-35.0625zM333.562 380h35.0625v2h-35.0625zM333.562 388h35.0625v1h-35.0625zM333.562 391h35.0625v1h-35.0625zM333.562 401h35.0625v1h-35.0625zM333.562 403h35.0625v1h-35.0625zM333.562 405h35.0625v1h-35.0625zM333.562 414h35.0625v1h-35.0625zM333.562 428h35.0625v1h-35.0625zM333.562 433h35.0625v2h-35.0625zM333.562 437h35.0625v1h-35.0625zM333.562 440h35.0625v1h-35.0625zM333.562 444h35.0625v1h-35.0625zM333.562 447h35.0625v1h-35.0625zM333.562 451h35.0625v1h-35.0625zM333.562 464h35.0625v1h-35.0625zM333.562 473h35.0625v1h-35.0625zM333.562 490h35.0625v2h-35.0625zM333.562 499h35.0625v1h-35.0625zM333.562 512h35.0625v1h-35.0625z"/><path fill="#ef827e" d="M333.562 0.75h35.0625v1.25h-35.0625zM333.562 16h35.0625v1h-35.0625zM333.562 37h35.0625v1h-35.0625zM333.562 44h35.0625v1h-35.0625zM333.562 65h35.0625v1h-35.0625zM333.562 76h35.0625v1h-35.0625zM333.562 83h35.0625v1h-35.0625zM333.562 87h35.0625v1h-35.0625zM333.562 93h35.0625v1h-35.0625zM333.562 121h35.0625v1h-35.0625zM333.562 130h35.0625v1h-35.0625zM333.562 132h35.0625v2h-35.0625zM333.562 138h35.0625v1h-35.0625zM333.562 143h35.0625v1h-35.0625zM333.562 175h35.0625v1h-35.0625zM333.562 181h35.0625v1h-35.0625zM333.562 189h35.0625v1h-35.0625zM333.562 193h35.0625v1h-35.0625zM333.562 197h35.0625v2h-35.0625zM333.562 202h35.0625v1h-35.0625zM333.562 206h35.0625v1h-35.0625zM333.562 212h35.0625v1h-35.0625zM333.562 243h35.0625v2h-35.0625zM333.562 254h35.0625v1h-35.0625zM333.562 262h35.0625v1h-35.0625zM333.562 268h35.0625v1h-35.0625zM333.562 280h35.0625v1h-35.0625zM333.562 286h35.0625v1h-35.0625zM333.562 293h35.0625v2h-35.0625zM333.562 300h35.0625v1h-35.0625zM333.562 322h35.0625v1h-35.0625zM333.562 352h35.0625v1h-35.0625zM333.562 354h35.0625v1h-35.0625zM333.562 359h35.0625v2h-35.0625zM333.562 369h35.0625v2h-35.0625zM333.562 378h35.0625v1h-35.0625zM333.562 383h35.0625v1h-35.0625zM333.562 390h35.0625v1h-35.0625zM333.562 395h35.0625v1h-35.0625zM333.562 402h35.0625v1h-35.0625zM333.562 408h35.0625v1h-35.0625zM333.562 424h35.0625v1h-35.0625zM333.562 429h35.0625v2h-35.0625zM333.562 450h35.0625v1h-35.0625zM333.562 459h35.0625v1h-35.0625zM333.562 475h35.0625v1h-35.0625zM333.562 482h35.0625v1h-35.0625zM333.562 484h35.0625v1h-35.0625zM333.562 495h35.0625v1h-35.0625zM333.562 510h35.0625v2h-35.0625zM333.562 515h35.0625v1h-35.0625zM333.562 518h35.0625v1h-35.0625zM333.562 525h35.0625v2h-35.0625z"/><path fill="#ed7e79" d="M333.562 42h35.0625v1h-35.0625zM333.562 51h35.0625v1h-35.0625zM333.562 53h35.0625v1h-35.0625zM333.562 61h35.0625v1h-35.0625zM333.562 63h35.0625v1h-35.0625zM333.562 71h35.0625v1h-35.0625zM333.562 80h35.0625v1h-35.0625zM333.562 89h35.0625v2h-35.0625zM333.562 92h35.0625v1h-35.0625zM333.562 108h35.0625v1h-35.0625zM333.562 110h35.0625v1h-35.0625zM333.562 135h35.0625v1h-35.0625zM333.562 174h35.0625v1h-35.0625zM333.562 178h35.0625v1h-35.0625zM333.562 180h35.0625v1h-35.0625zM333.562 192h35.0625v1h-35.0625zM333.562 224h35.0625v3h-35.0625zM333.562 242h35.0625v1h-35.0625zM333.562 257h35.0625v1h-35.0625zM333.562 266h35.0625v1h-35.0625zM333.562 277h35.0625v1h-35.0625zM333.562 281h35.0625v1h-35.0625zM333.562 295h35.0625v1h-35.0625zM333.562 303h35.0625v1h-35.0625zM333.562 307h35.0625v1h-35.0625zM333.562 320h35.0625v1h-35.0625zM333.562 329h35.0625v1h-35.0625zM333.562 331h35.0625v1h-35.0625zM333.562 334h35.0625v1h-35.0625zM333.562 341h35.0625v1h-35.0625zM333.562 347h35.0625v1h-35.0625zM333.562 355h35.0625v1h-35.0625zM333.562 389h35.0625v1h-35.0625zM333.562 396h35.0625v1h-35.0625zM333.562 418h35.0625v1h-35.0625zM333.562 431h35.0625v1h-35.0625zM333.562 452h35.0625v1h-35.0625zM333.562 461h35.0625v1h-35.0625zM333.562 481h35.0625v1h-35.0625zM333.562 483h35.0625v1h-35.0625z"/><path fill="#ec7975" d="M333.562 8h35.0625v1h-35.0625zM333.562 35h35.0625v1h-35.0625zM333.562 38h35.0625v1h-35.0625zM333.562 50h35.0625v1h-35.0625zM333.562 66h35.0625v1h-35.0625zM333.562 75h35.0625v1h-35.0625zM333.562 96h35.0625v1h-35.0625zM333.562 103h35.0625v1h-35.0625zM333.562 107h35.0625v1h-35.0625zM333.562 112h35.0625v1h-35.0625zM333.562 120h35.0625v1h-35.0625zM333.562 168h35.0625v1h-35.0625zM333.562 171h35.0625v1h-35.0625zM333.562 173h35.0625v1h-35.0625zM333.562 200h35.0625v1h-35.0625zM333.562 205h35.0625v1h-35.0625zM333.562 221h35.0625v1h-35.0625zM333.562 233h35.0625v2h-35.0625zM333.562 246h35.0625v1h-35.0625zM333.562 276h35.0625v1h-35.0625zM333.562 292h35.0625v1h-35.0625zM333.562 306h35.0625v1h-35.0625zM333.562 342h35.0625v1h-35.0625zM333.562 353h35.0625v1h-35.0625zM333.562 363h35.0625v1h-35.0625zM333.562 397h35.0625v1h-35.0625zM333.562 404h35.0625v1h-35.0625zM333.562 411h35.0625v1h-35.0625zM333.562 417h35.0625v1h-35.0625zM333.562 426h35.0625v2h-35.0625zM333.562 443h35.0625v1h-35.0625zM333.562 457h35.0625v1h-35.0625zM333.562 465h35.0625v1h-35.0625zM333.562 505h35.0625v1h-35.0625z"/><path fill="#eb7471" d="M333.562 57h35.0625v1h-35.0625zM333.562 59h35.0625v1h-35.0625zM333.562 95h35.0625v1h-35.0625zM333.562 111h35.0625v1h-35.0625zM333.562 119h35.0625v1h-35.0625zM333.562 139h35.0625v1h-35.0625zM333.562 147h35.0625v1h-35.0625zM333.562 159h35.0625v1h-35.0625zM333.562 163h35.0625v1h-35.0625zM333.562 170h35.0625v1h-35.0625zM333.562 183h35.0625v1h-35.0625zM333.562 188h35.0625v1h-35.0625zM333.562 237h35.0625v1h-35.0625zM333.562 285h35.0625v1h-35.0625zM333.562 288h35.0625v1h-35.0625zM333.562 302h35.0625v1h-35.0625zM333.562 323h35.0625v1h-35.0625zM333.562 339h35.0625v2h-35.0625zM333.562 349h35.0625v1h-35.0625zM333.562 361h35.0625v1h-35.0625zM333.562 387h35.0625v1h-35.0625zM333.562 398h35.0625v1h-35.0625zM333.562 412h35.0625v1h-35.0625zM333.562 480h35.0625v1h-35.0625zM333.562 504h35.0625v1h-35.0625z"/><path fill="#e9706d" d="M333.562 55h35.0625v1h-35.0625zM333.562 94h35.0625v1h-35.0625zM333.562 141h35.0625v1h-35.0625zM333.562 179h35.0625v1h-35.0625zM333.562 187h35.0625v1h-35.0625zM333.562 274h35.0625v1h-35.0625zM333.562 301h35.0625v1h-35.0625zM333.562 337h35.0625v1h-35.0625zM333.562 343h35.0625v1h-35.0625zM333.562 375h35.0625v1h-35.0625zM333.562 377h35.0625v1h-35.0625zM333.562 385h35.0625v1h-35.0625zM333.562 413h35.0625v1h-35.0625zM333.562 419h35.0625v1h-35.0625zM333.562 445h35.0625v1h-35.0625zM333.562 485h35.0625v1h-35.0625z"/><path fill="#e86b69" d="M333.562 54h35.0625v1h-35.0625zM333.562 58h35.0625v1h-35.0625zM333.562 104h35.0625v1h-35.0625zM333.562 330h35.0625v1h-35.0625zM333.562 362h35.0625v1h-35.0625zM333.562 376h35.0625v1h-35.0625zM333.562 386h35.0625v1h-35.0625zM333.562 479h35.0625v1h-35.0625zM333.562 516h35.0625v2h-35.0625z"/><path fill="#e66664" d="M333.562 67h35.0625v2h-35.0625zM333.562 253h35.0625v1h-35.0625zM333.562 348h35.0625v1h-35.0625zM333.562 357h35.0625v1h-35.0625z"/><path fill="#e56160" d="M333.562 356h35.0625v1h-35.0625z"/><path fill="#ffd7d4" d="M367.625 488h35.0625v1h-35.0625z"/><path fill="#fed3cf" d="M367.625 392h35.0625v1h-35.0625zM367.625 454h35.0625v1h-35.0625z"/><path fill="#fdc6c1" d="M367.625 77h35.0625v1h-35.0625zM367.625 82h35.0625v1h-35.0625zM367.625 140h35.0625v1h-35.0625zM367.625 191h35.0625v1h-35.0625zM367.625 316h35.0625v1h-35.0625z"/><path fill="#fcc1bc" d="M367.625 256h35.0625v1h-35.0625z"/><path fill="#fcbdb8" d="M367.625 10h35.0625v1h-35.0625zM367.625 128h35.0625v1h-35.0625z"/><path fill="#fbb8b3" d="M367.625 25h35.0625v1h-35.0625zM367.625 113h35.0625v1h-35.0625zM367.625 458h35.0625v1h-35.0625zM367.625 521h35.0625v1h-35.0625z"/><path fill="#fab4af" d="M367.625 64h35.0625v1h-35.0625zM367.625 182h35.0625v1h-35.0625zM367.625 314h35.0625v1h-35.0625zM367.625 470h35.0625v1h-35.0625z"/><path fill="#f9afaa" d="M367.625 164h35.0625v1h-35.0625zM367.625 269h35.0625v1h-35.0625zM367.625 278h35.0625v1h-35.0625zM367.625 291h35.0625v1h-35.0625zM367.625 310h35.0625v1h-35.0625zM367.625 313h35.0625v1h-35.0625zM367.625 409h35.0625v1h-35.0625zM367.625 449h35.0625v1h-35.0625z"/><path fill="#f8aba6" d="M367.625 46h35.0625v1h-35.0625zM367.625 52h35.0625v1h-35.0625zM367.625 194h35.0625v1h-35.0625zM367.625 214h35.0625v1h-35.0625zM367.625 272h35.0625v2h-35.0625zM367.625 315h35.0625v1h-35.0625zM367.625 317h35.0625v1h-35.0625zM367.625 319h35.0625v1h-35.0625zM367.625 328h35.0625v1h-35.0625zM367.625 346h35.0625v1h-35.0625zM367.625 399h35.0625v1h-35.0625z"/><path fill="#f8a7a1" d="M367.625 15h35.0625v1h-35.0625zM367.625 20h35.0625v1h-35.0625zM367.625 27h35.0625v1h-35.0625zM367.625 49h35.0625v1h-35.0625zM367.625 56h35.0625v1h-35.0625zM367.625 100h35.0625v1h-35.0625zM367.625 146h35.0625v1h-35.0625zM367.625 169h35.0625v1h-35.0625zM367.625 208h35.0625v1h-35.0625zM367.625 250h35.0625v2h-35.0625zM367.625 318h35.0625v1h-35.0625zM367.625 325h35.0625v1h-35.0625zM367.625 345h35.0625v1h-35.0625zM367.625 367h35.0625v1h-35.0625zM367.625 477h35.0625v1h-35.0625zM367.625 487h35.0625v1h-35.0625zM367.625 493h35.0625v1h-35.0625z"/><path fill="#f7a29d" d="M367.625 19h35.0625v1h-35.0625zM367.625 21h35.0625v1h-35.0625zM367.625 45h35.0625v1h-35.0625zM367.625 124h35.0625v1h-35.0625zM367.625 127h35.0625v1h-35.0625zM367.625 134h35.0625v1h-35.0625zM367.625 145h35.0625v1h-35.0625zM367.625 157h35.0625v1h-35.0625zM367.625 207h35.0625v1h-35.0625zM367.625 213h35.0625v1h-35.0625zM367.625 248h35.0625v2h-35.0625zM367.625 270h35.0625v1h-35.0625zM367.625 309h35.0625v1h-35.0625zM367.625 311h35.0625v1h-35.0625zM367.625 326h35.0625v1h-35.0625zM367.625 333h35.0625v1h-35.0625zM367.625 365h35.0625v1h-35.0625zM367.625 393h35.0625v1h-35.0625zM367.625 438h35.0625v1h-35.0625zM367.625 489h35.0625v1h-35.0625zM367.625 498h35.0625v1h-35.0625z"/><path fill="#f69e98" d="M367.625 5h35.0625v2h-35.0625zM367.625 17h35.0625v1h-35.0625zM367.625 23h35.0625v1h-35.0625zM367.625 31h35.0625v1h-35.0625zM367.625 43h35.0625v1h-35.0625zM367.625 81h35.0625v1h-35.0625zM367.625 86h35.0625v1h-35.0625zM367.625 99h35.0625v1h-35.0625zM367.625 101h35.0625v1h-35.0625zM367.625 144h35.0625v1h-35.0625zM367.625 150h35.0625v1h-35.0625zM367.625 158h35.0625v1h-35.0625zM367.625 172h35.0625v1h-35.0625zM367.625 229h35.0625v1h-35.0625zM367.625 255h35.0625v1h-35.0625zM367.625 265h35.0625v1h-35.0625zM367.625 267h35.0625v1h-35.0625zM367.625 271h35.0625v1h-35.0625zM367.625 282h35.0625v1h-35.0625zM367.625 290h35.0625v1h-35.0625zM367.625 298h35.0625v1h-35.0625zM367.625 308h35.0625v1h-35.0625zM367.625 321h35.0625v1h-35.0625zM367.625 324h35.0625v1h-35.0625zM367.625 327h35.0625v1h-35.0625zM367.625 335h35.0625v2h-35.0625zM367.625 344h35.0625v1h-35.0625zM367.625 350h35.0625v2h-35.0625zM367.625 368h35.0625v1h-35.0625zM367.625 372h35.0625v1h-35.0625zM367.625 394h35.0625v1h-35.0625zM367.625 406h35.0625v1h-35.0625zM367.625 410h35.0625v1h-35.0625zM367.625 422h35.0625v1h-35.0625zM367.625 436h35.0625v1h-35.0625zM367.625 466h35.0625v2h-35.0625zM367.625 486h35.0625v1h-35.0625zM367.625 496h35.0625v1h-35.0625zM367.625 514h35.0625v1h-35.0625z"/><path fill="#f59994" d="M367.625 4h35.0625v1h-35.0625zM367.625 14h35.0625v1h-35.0625zM367.625 18h35.0625v1h-35.0625zM367.625 48h35.0625v1h-35.0625zM367.625 53h35.0625v1h-35.0625zM367.625 72h35.0625v1h-35.0625zM367.625 84h35.0625v1h-35.0625zM367.625 88h35.0625v1h-35.0625zM367.625 97h35.0625v1h-35.0625zM367.625 118h35.0625v1h-35.0625zM367.625 125h35.0625v1h-35.0625zM367.625 129h35.0625v1h-35.0625zM367.625 131h35.0625v1h-35.0625zM367.625 136h35.0625v1h-35.0625zM367.625 151h35.0625v1h-35.0625zM367.625 167h35.0625v1h-35.0625zM367.625 223h35.0625v1h-35.0625zM367.625 228h35.0625v1h-35.0625zM367.625 230h35.0625v1h-35.0625zM367.625 235h35.0625v1h-35.0625zM367.625 240h35.0625v1h-35.0625zM367.625 275h35.0625v1h-35.0625zM367.625 284h35.0625v1h-35.0625zM367.625 289h35.0625v1h-35.0625zM367.625 299h35.0625v1h-35.0625zM367.625 304h35.0625v2h-35.0625zM367.625 320h35.0625v1h-35.0625zM367.625 338h35.0625v1h-35.0625zM367.625 407h35.0625v1h-35.0625zM367.625 439h35.0625v1h-35.0625zM367.625 462h35.0625v2h-35.0625zM367.625 468h35.0625v2h-35.0625zM367.625 492h35.0625v1h-35.0625zM367.625 497h35.0625v1h-35.0625zM367.625 502h35.0625v1h-35.0625zM367.625 508h35.0625v1h-35.0625z"/><path fill="#f4958f" d="M367.625 3h35.0625v1h-35.0625zM367.625 22h35.0625v1h-35.0625zM367.625 28h35.0625v1h-35.0625zM367.625 32h35.0625v1h-35.0625zM367.625 34h35.0625v1h-35.0625zM367.625 51h35.0625v1h-35.0625zM367.625 73h35.0625v1h-35.0625zM367.625 79h35.0625v1h-35.0625zM367.625 83h35.0625v1h-35.0625zM367.625 85h35.0625v1h-35.0625zM367.625 91h35.0625v1h-35.0625zM367.625 116h35.0625v1h-35.0625zM367.625 148h35.0625v2h-35.0625zM367.625 153h35.0625v1h-35.0625zM367.625 161h35.0625v1h-35.0625zM367.625 201h35.0625v1h-35.0625zM367.625 203h35.0625v1h-35.0625zM367.625 215h35.0625v2h-35.0625zM367.625 227h35.0625v1h-35.0625zM367.625 260h35.0625v2h-35.0625zM367.625 268h35.0625v1h-35.0625zM367.625 283h35.0625v1h-35.0625zM367.625 286h35.0625v2h-35.0625zM367.625 294h35.0625v1h-35.0625zM367.625 296h35.0625v2h-35.0625zM367.625 300h35.0625v1h-35.0625zM367.625 312h35.0625v1h-35.0625zM367.625 329h35.0625v1h-35.0625zM367.625 332h35.0625v1h-35.0625zM367.625 334h35.0625v1h-35.0625zM367.625 384h35.0625v1h-35.0625zM367.625 423h35.0625v1h-35.0625zM367.625 435h35.0625v1h-35.0625zM367.625 446h35.0625v1h-35.0625zM367.625 455h35.0625v1h-35.0625zM367.625 460h35.0625v1h-35.0625zM367.625 472h35.0625v1h-35.0625zM367.625 474h35.0625v1h-35.0625zM367.625 476h35.0625v1h-35.0625zM367.625 500h35.0625v1h-35.0625zM367.625 513h35.0625v1h-35.0625zM367.625 519h35.0625v1h-35.0625zM367.625 522h35.0625v1h-35.0625z"/><path fill="#f2908b" d="M367.625 9h35.0625v1h-35.0625zM367.625 13h35.0625v1h-35.0625zM367.625 26h35.0625v1h-35.0625zM367.625 33h35.0625v1h-35.0625zM367.625 44h35.0625v1h-35.0625zM367.625 47h35.0625v1h-35.0625zM367.625 60h35.0625v1h-35.0625zM367.625 62h35.0625v1h-35.0625zM367.625 65h35.0625v1h-35.0625zM367.625 69h35.0625v1h-35.0625zM367.625 78h35.0625v1h-35.0625zM367.625 87h35.0625v1h-35.0625zM367.625 89h35.0625v1h-35.0625zM367.625 110h35.0625v1h-35.0625zM367.625 133h35.0625v1h-35.0625zM367.625 143h35.0625v1h-35.0625zM367.625 160h35.0625v1h-35.0625zM367.625 166h35.0625v1h-35.0625zM367.625 190h35.0625v1h-35.0625zM367.625 196h35.0625v1h-35.0625zM367.625 204h35.0625v1h-35.0625zM367.625 210h35.0625v1h-35.0625zM367.625 217h35.0625v1h-35.0625zM367.625 252h35.0625v1h-35.0625zM367.625 258h35.0625v2h-35.0625zM367.625 263h35.0625v1h-35.0625zM367.625 277h35.0625v1h-35.0625zM367.625 293h35.0625v1h-35.0625zM367.625 352h35.0625v1h-35.0625zM367.625 354h35.0625v1h-35.0625zM367.625 366h35.0625v1h-35.0625zM367.625 371h35.0625v1h-35.0625zM367.625 373h35.0625v2h-35.0625zM367.625 379h35.0625v1h-35.0625zM367.625 400h35.0625v1h-35.0625zM367.625 420h35.0625v1h-35.0625zM367.625 453h35.0625v1h-35.0625zM367.625 471h35.0625v1h-35.0625zM367.625 478h35.0625v1h-35.0625zM367.625 503h35.0625v1h-35.0625zM367.625 506h35.0625v2h-35.0625zM367.625 523h35.0625v2h-35.0625z"/><path fill="#f18c86" d="M367.625 11h35.0625v2h-35.0625zM367.625 29h35.0625v2h-35.0625zM367.625 36h35.0625v1h-35.0625zM367.625 39h35.0625v1h-35.0625zM367.625 50h35.0625v1h-35.0625zM367.625 55h35.0625v1h-35.0625zM367.625 57h35.0625v1h-35.0625zM367.625 61h35.0625v1h-35.0625zM367.625 66h35.0625v1h-35.0625zM367.625 70h35.0625v1h-35.0625zM367.625 74h35.0625v1h-35.0625zM367.625 90h35.0625v1h-35.0625zM367.625 92h35.0625v2h-35.0625zM367.625 105h35.0625v1h-35.0625zM367.625 114h35.0625v2h-35.0625zM367.625 117h35.0625v1h-35.0625zM367.625 122h35.0625v2h-35.0625zM367.625 126h35.0625v1h-35.0625zM367.625 130h35.0625v1h-35.0625zM367.625 142h35.0625v1h-35.0625zM367.625 147h35.0625v1h-35.0625zM367.625 152h35.0625v1h-35.0625zM367.625 154h35.0625v3h-35.0625zM367.625 176h35.0625v1h-35.0625zM367.625 184h35.0625v1h-35.0625zM367.625 219h35.0625v2h-35.0625zM367.625 222h35.0625v1h-35.0625zM367.625 231h35.0625v2h-35.0625zM367.625 236h35.0625v1h-35.0625zM367.625 245h35.0625v1h-35.0625zM367.625 247h35.0625v1h-35.0625zM367.625 264h35.0625v1h-35.0625zM367.625 266h35.0625v1h-35.0625zM367.625 279h35.0625v3h-35.0625zM367.625 292h35.0625v1h-35.0625zM367.625 295h35.0625v1h-35.0625zM367.625 303h35.0625v1h-35.0625zM367.625 307h35.0625v1h-35.0625zM367.625 322h35.0625v1h-35.0625zM367.625 331h35.0625v1h-35.0625zM367.625 342h35.0625v1h-35.0625zM367.625 347h35.0625v1h-35.0625zM367.625 378h35.0625v1h-35.0625zM367.625 382h35.0625v1h-35.0625zM367.625 391h35.0625v1h-35.0625zM367.625 403h35.0625v1h-35.0625zM367.625 415h35.0625v2h-35.0625zM367.625 421h35.0625v1h-35.0625zM367.625 425h35.0625v1h-35.0625zM367.625 432h35.0625v2h-35.0625zM367.625 437h35.0625v1h-35.0625zM367.625 442h35.0625v1h-35.0625zM367.625 448h35.0625v1h-35.0625zM367.625 456h35.0625v1h-35.0625zM367.625 494h35.0625v1h-35.0625zM367.625 499h35.0625v1h-35.0625zM367.625 501h35.0625v1h-35.0625zM367.625 511h35.0625v1h-35.0625z"/><path fill="#f08782" d="M367.625 0.75h35.0625v1.25h-35.0625zM367.625 16h35.0625v1h-35.0625zM367.625 24h35.0625v1h-35.0625zM367.625 40h35.0625v1h-35.0625zM367.625 54h35.0625v1h-35.0625zM367.625 95h35.0625v2h-35.0625zM367.625 106h35.0625v1h-35.0625zM367.625 109h35.0625v1h-35.0625zM367.625 132h35.0625v1h-35.0625zM367.625 138h35.0625v1h-35.0625zM367.625 165h35.0625v1h-35.0625zM367.625 175h35.0625v1h-35.0625zM367.625 177h35.0625v1h-35.0625zM367.625 185h35.0625v2h-35.0625zM367.625 192h35.0625v1h-35.0625zM367.625 197h35.0625v1h-35.0625zM367.625 199h35.0625v1h-35.0625zM367.625 209h35.0625v1h-35.0625zM367.625 211h35.0625v2h-35.0625zM367.625 224h35.0625v2h-35.0625zM367.625 238h35.0625v2h-35.0625zM367.625 241h35.0625v1h-35.0625zM367.625 262h35.0625v1h-35.0625zM367.625 274h35.0625v1h-35.0625zM367.625 276h35.0625v1h-35.0625zM367.625 339h35.0625v1h-35.0625zM367.625 341h35.0625v1h-35.0625zM367.625 353h35.0625v1h-35.0625zM367.625 358h35.0625v1h-35.0625zM367.625 360h35.0625v1h-35.0625zM367.625 364h35.0625v1h-35.0625zM367.625 381h35.0625v1h-35.0625zM367.625 388h35.0625v1h-35.0625zM367.625 390h35.0625v1h-35.0625zM367.625 396h35.0625v1h-35.0625zM367.625 405h35.0625v1h-35.0625zM367.625 418h35.0625v1h-35.0625zM367.625 428h35.0625v1h-35.0625zM367.625 447h35.0625v1h-35.0625zM367.625 451h35.0625v1h-35.0625zM367.625 461h35.0625v1h-35.0625zM367.625 464h35.0625v1h-35.0625zM367.625 482h35.0625v1h-35.0625zM367.625 490h35.0625v1h-35.0625zM367.625 512h35.0625v1h-35.0625zM367.625 515h35.0625v1h-35.0625zM367.625 518h35.0625v1h-35.0625zM367.625 520h35.0625v1h-35.0625z"/><path fill="#ef827e" d="M367.625 2h35.0625v1h-35.0625zM367.625 7h35.0625v1h-35.0625zM367.625 37h35.0625v1h-35.0625zM367.625 41h35.0625v2h-35.0625zM367.625 58h35.0625v2h-35.0625zM367.625 63h35.0625v1h-35.0625zM367.625 80h35.0625v1h-35.0625zM367.625 98h35.0625v1h-35.0625zM367.625 102h35.0625v1h-35.0625zM367.625 107h35.0625v1h-35.0625zM367.625 111h35.0625v1h-35.0625zM367.625 120h35.0625v2h-35.0625zM367.625 135h35.0625v1h-35.0625zM367.625 137h35.0625v1h-35.0625zM367.625 139h35.0625v1h-35.0625zM367.625 162h35.0625v1h-35.0625zM367.625 168h35.0625v1h-35.0625zM367.625 180h35.0625v2h-35.0625zM367.625 189h35.0625v1h-35.0625zM367.625 193h35.0625v1h-35.0625zM367.625 195h35.0625v1h-35.0625zM367.625 198h35.0625v1h-35.0625zM367.625 202h35.0625v1h-35.0625zM367.625 205h35.0625v1h-35.0625zM367.625 218h35.0625v1h-35.0625zM367.625 233h35.0625v1h-35.0625zM367.625 243h35.0625v2h-35.0625zM367.625 254h35.0625v1h-35.0625zM367.625 285h35.0625v1h-35.0625zM367.625 288h35.0625v1h-35.0625zM367.625 306h35.0625v1h-35.0625zM367.625 349h35.0625v1h-35.0625zM367.625 355h35.0625v1h-35.0625zM367.625 359h35.0625v1h-35.0625zM367.625 383h35.0625v1h-35.0625zM367.625 395h35.0625v1h-35.0625zM367.625 401h35.0625v2h-35.0625zM367.625 414h35.0625v1h-35.0625zM367.625 430h35.0625v2h-35.0625zM367.625 434h35.0625v1h-35.0625zM367.625 440h35.0625v2h-35.0625zM367.625 444h35.0625v1h-35.0625zM367.625 452h35.0625v1h-35.0625zM367.625 457h35.0625v1h-35.0625zM367.625 459h35.0625v1h-35.0625zM367.625 483h35.0625v1h-35.0625zM367.625 491h35.0625v1h-35.0625zM367.625 495h35.0625v1h-35.0625zM367.625 509h35.0625v1h-35.0625z"/><path fill="#ed7e79" d="M367.625 35h35.0625v1h-35.0625zM367.625 112h35.0625v1h-35.0625zM367.625 119h35.0625v1h-35.0625zM367.625 159h35.0625v1h-35.0625zM367.625 171h35.0625v1h-35.0625zM367.625 206h35.0625v1h-35.0625zM367.625 221h35.0625v1h-35.0625zM367.625 226h35.0625v1h-35.0625zM367.625 237h35.0625v1h-35.0625zM367.625 242h35.0625v1h-35.0625zM367.625 257h35.0625v1h-35.0625zM367.625 302h35.0625v1h-35.0625zM367.625 323h35.0625v1h-35.0625zM367.625 343h35.0625v1h-35.0625zM367.625 348h35.0625v1h-35.0625zM367.625 363h35.0625v1h-35.0625zM367.625 370h35.0625v1h-35.0625zM367.625 380h35.0625v1h-35.0625zM367.625 389h35.0625v1h-35.0625zM367.625 397h35.0625v1h-35.0625zM367.625 404h35.0625v1h-35.0625zM367.625 408h35.0625v1h-35.0625zM367.625 424h35.0625v1h-35.0625zM367.625 429h35.0625v1h-35.0625zM367.625 450h35.0625v1h-35.0625zM367.625 473h35.0625v1h-35.0625zM367.625 475h35.0625v1h-35.0625zM367.625 481h35.0625v1h-35.0625zM367.625 484h35.0625v1h-35.0625zM367.625 505h35.0625v1h-35.0625zM367.625 510h35.0625v1h-35.0625zM367.625 525h35.0625v2h-35.0625z"/><path fill="#ec7975" d="M367.625 38h35.0625v1h-35.0625zM367.625 67h35.0625v2h-35.0625zM367.625 71h35.0625v1h-35.0625zM367.625 75h35.0625v2h-35.0625zM367.625 94h35.0625v1h-35.0625zM367.625 141h35.0625v1h-35.0625zM367.625 163h35.0625v1h-35.0625zM367.625 173h35.0625v2h-35.0625zM367.625 179h35.0625v1h-35.0625zM367.625 183h35.0625v1h-35.0625zM367.625 234h35.0625v1h-35.0625zM367.625 301h35.0625v1h-35.0625zM367.625 330h35.0625v1h-35.0625zM367.625 337h35.0625v1h-35.0625zM367.625 340h35.0625v1h-35.0625zM367.625 361h35.0625v1h-35.0625zM367.625 369h35.0625v1h-35.0625zM367.625 412h35.0625v1h-35.0625zM367.625 419h35.0625v1h-35.0625zM367.625 426h35.0625v2h-35.0625zM367.625 443h35.0625v1h-35.0625zM367.625 465h35.0625v1h-35.0625zM367.625 480h35.0625v1h-35.0625zM367.625 504h35.0625v1h-35.0625z"/><path fill="#eb7471" d="M367.625 8h35.0625v1h-35.0625zM367.625 103h35.0625v1h-35.0625zM367.625 108h35.0625v1h-35.0625zM367.625 170h35.0625v1h-35.0625zM367.625 178h35.0625v1h-35.0625zM367.625 188h35.0625v1h-35.0625zM367.625 200h35.0625v1h-35.0625zM367.625 246h35.0625v1h-35.0625zM367.625 398h35.0625v1h-35.0625zM367.625 411h35.0625v1h-35.0625zM367.625 445h35.0625v1h-35.0625zM367.625 517h35.0625v1h-35.0625z"/><path fill="#e9706d" d="M367.625 187h35.0625v1h-35.0625zM367.625 253h35.0625v1h-35.0625zM367.625 362h35.0625v1h-35.0625zM367.625 377h35.0625v1h-35.0625zM367.625 385h35.0625v3h-35.0625zM367.625 417h35.0625v1h-35.0625zM367.625 485h35.0625v1h-35.0625zM367.625 516h35.0625v1h-35.0625z"/><path fill="#e86b69" d="M367.625 104h35.0625v1h-35.0625zM367.625 357h35.0625v1h-35.0625zM367.625 375h35.0625v2h-35.0625zM367.625 479h35.0625v1h-35.0625z"/><path fill="#e66664" d="M367.625 356h35.0625v1h-35.0625zM367.625 413h35.0625v1h-35.0625z"/><path fill="#ffe9e7" d="M401.688 97h35.0625v1h-35.0625z"/><path fill="#ffe0dd" d="M401.688 46h35.0625v1h-35.0625zM401.688 372h35.0625v1h-35.0625zM401.688 496h35.0625v1h-35.0625z"/><path fill="#ffdcd8" d="M401.688 99h35.0625v1h-35.0625zM401.688 213h35.0625v1h-35.0625zM401.688 367h35.0625v1h-35.0625zM401.688 488h35.0625v1h-35.0625z"/><path fill="#ffd7d4" d="M401.688 20h35.0625v1h-35.0625zM401.688 248h35.0625v1h-35.0625zM401.688 269h35.0625v1h-35.0625zM401.688 317h35.0625v1h-35.0625zM401.688 393h35.0625v1h-35.0625zM401.688 468h35.0625v1h-35.0625zM401.688 489h35.0625v1h-35.0625zM401.688 498h35.0625v1h-35.0625z"/><path fill="#fed3cf" d="M401.688 14h35.0625v1h-35.0625zM401.688 19h35.0625v1h-35.0625zM401.688 27h35.0625v1h-35.0625zM401.688 100h35.0625v1h-35.0625zM401.688 128h35.0625v1h-35.0625zM401.688 157h35.0625v1h-35.0625zM401.688 223h35.0625v1h-35.0625zM401.688 250h35.0625v1h-35.0625zM401.688 318h35.0625v1h-35.0625zM401.688 365h35.0625v1h-35.0625zM401.688 492h35.0625v1h-35.0625z"/><path fill="#fececa" d="M401.688 17h35.0625v2h-35.0625zM401.688 21h35.0625v1h-35.0625zM401.688 31h35.0625v1h-35.0625zM401.688 49h35.0625v1h-35.0625zM401.688 191h35.0625v1h-35.0625zM401.688 207h35.0625v1h-35.0625zM401.688 214h35.0625v1h-35.0625zM401.688 227h35.0625v1h-35.0625zM401.688 251h35.0625v1h-35.0625zM401.688 255h35.0625v1h-35.0625zM401.688 278h35.0625v1h-35.0625zM401.688 394h35.0625v1h-35.0625zM401.688 436h35.0625v1h-35.0625zM401.688 454h35.0625v1h-35.0625zM401.688 467h35.0625v1h-35.0625zM401.688 487h35.0625v1h-35.0625zM401.688 497h35.0625v1h-35.0625z"/><path fill="#fdcac6" d="M401.688 10h35.0625v1h-35.0625zM401.688 13h35.0625v1h-35.0625zM401.688 91h35.0625v2h-35.0625zM401.688 309h35.0625v1h-35.0625zM401.688 399h35.0625v1h-35.0625zM401.688 486h35.0625v1h-35.0625zM401.688 502h35.0625v1h-35.0625zM401.688 522h35.0625v1h-35.0625zM401.688 524h35.0625v1h-35.0625z"/><path fill="#fdc6c1" d="M401.688 9h35.0625v1h-35.0625zM401.688 12h35.0625v1h-35.0625zM401.688 23h35.0625v1h-35.0625zM401.688 28h35.0625v1h-35.0625zM401.688 43h35.0625v1h-35.0625zM401.688 72h35.0625v1h-35.0625zM401.688 82h35.0625v1h-35.0625zM401.688 93h35.0625v1h-35.0625zM401.688 124h35.0625v1h-35.0625zM401.688 151h35.0625v1h-35.0625zM401.688 208h35.0625v1h-35.0625zM401.688 272h35.0625v1h-35.0625zM401.688 291h35.0625v1h-35.0625zM401.688 310h35.0625v1h-35.0625zM401.688 314h35.0625v1h-35.0625zM401.688 324h35.0625v1h-35.0625zM401.688 373h35.0625v1h-35.0625zM401.688 406h35.0625v1h-35.0625zM401.688 410h35.0625v1h-35.0625zM401.688 435h35.0625v1h-35.0625zM401.688 493h35.0625v1h-35.0625zM401.688 521h35.0625v1h-35.0625z"/><path fill="#fcc1bc" d="M401.688 4h35.0625v2h-35.0625zM401.688 22h35.0625v1h-35.0625zM401.688 52h35.0625v1h-35.0625zM401.688 73h35.0625v1h-35.0625zM401.688 90h35.0625v1h-35.0625zM401.688 95h35.0625v1h-35.0625zM401.688 105h35.0625v1h-35.0625zM401.688 116h35.0625v1h-35.0625zM401.688 125h35.0625v1h-35.0625zM401.688 127h35.0625v1h-35.0625zM401.688 146h35.0625v1h-35.0625zM401.688 158h35.0625v1h-35.0625zM401.688 210h35.0625v1h-35.0625zM401.688 231h35.0625v1h-35.0625zM401.688 249h35.0625v1h-35.0625zM401.688 261h35.0625v1h-35.0625zM401.688 270h35.0625v1h-35.0625zM401.688 305h35.0625v1h-35.0625zM401.688 313h35.0625v1h-35.0625zM401.688 315h35.0625v1h-35.0625zM401.688 327h35.0625v2h-35.0625zM401.688 391h35.0625v1h-35.0625zM401.688 400h35.0625v1h-35.0625zM401.688 407h35.0625v1h-35.0625zM401.688 422h35.0625v1h-35.0625zM401.688 451h35.0625v1h-35.0625zM401.688 453h35.0625v1h-35.0625zM401.688 460h35.0625v1h-35.0625zM401.688 463h35.0625v1h-35.0625zM401.688 478h35.0625v1h-35.0625zM401.688 500h35.0625v1h-35.0625zM401.688 503h35.0625v1h-35.0625z"/><path fill="#fcbdb8" d="M401.688 3h35.0625v1h-35.0625zM401.688 6h35.0625v1h-35.0625zM401.688 64h35.0625v2h-35.0625zM401.688 88h35.0625v2h-35.0625zM401.688 129h35.0625v1h-35.0625zM401.688 144h35.0625v1h-35.0625zM401.688 167h35.0625v1h-35.0625zM401.688 236h35.0625v1h-35.0625zM401.688 267h35.0625v1h-35.0625zM401.688 319h35.0625v1h-35.0625zM401.688 351h35.0625v1h-35.0625zM401.688 366h35.0625v1h-35.0625zM401.688 368h35.0625v1h-35.0625zM401.688 374h35.0625v1h-35.0625zM401.688 382h35.0625v1h-35.0625zM401.688 384h35.0625v1h-35.0625zM401.688 428h35.0625v1h-35.0625zM401.688 455h35.0625v1h-35.0625zM401.688 469h35.0625v1h-35.0625zM401.688 471h35.0625v1h-35.0625zM401.688 476h35.0625v1h-35.0625zM401.688 490h35.0625v1h-35.0625zM401.688 501h35.0625v1h-35.0625zM401.688 508h35.0625v1h-35.0625zM401.688 513h35.0625v1h-35.0625z"/><path fill="#fbb8b3" d="M401.688 15h35.0625v1h-35.0625zM401.688 30h35.0625v1h-35.0625zM401.688 48h35.0625v1h-35.0625zM401.688 74h35.0625v1h-35.0625zM401.688 79h35.0625v1h-35.0625zM401.688 81h35.0625v1h-35.0625zM401.688 84h35.0625v1h-35.0625zM401.688 118h35.0625v1h-35.0625zM401.688 131h35.0625v1h-35.0625zM401.688 150h35.0625v1h-35.0625zM401.688 154h35.0625v1h-35.0625zM401.688 216h35.0625v1h-35.0625zM401.688 229h35.0625v2h-35.0625zM401.688 240h35.0625v1h-35.0625zM401.688 247h35.0625v1h-35.0625zM401.688 256h35.0625v1h-35.0625zM401.688 259h35.0625v1h-35.0625zM401.688 282h35.0625v1h-35.0625zM401.688 290h35.0625v1h-35.0625zM401.688 336h35.0625v1h-35.0625zM401.688 344h35.0625v1h-35.0625zM401.688 392h35.0625v1h-35.0625zM401.688 401h35.0625v1h-35.0625zM401.688 439h35.0625v1h-35.0625zM401.688 448h35.0625v2h-35.0625zM401.688 466h35.0625v1h-35.0625zM401.688 472h35.0625v1h-35.0625zM401.688 474h35.0625v1h-35.0625zM401.688 477h35.0625v1h-35.0625zM401.688 494h35.0625v1h-35.0625zM401.688 499h35.0625v1h-35.0625zM401.688 506h35.0625v2h-35.0625zM401.688 519h35.0625v1h-35.0625zM401.688 523h35.0625v1h-35.0625z"/><path fill="#fab4af" d="M401.688 0.75h35.0625v1.25h-35.0625zM401.688 24h35.0625v1h-35.0625zM401.688 26h35.0625v1h-35.0625zM401.688 29h35.0625v1h-35.0625zM401.688 34h35.0625v1h-35.0625zM401.688 36h35.0625v1h-35.0625zM401.688 47h35.0625v1h-35.0625zM401.688 51h35.0625v1h-35.0625zM401.688 83h35.0625v1h-35.0625zM401.688 143h35.0625v1h-35.0625zM401.688 148h35.0625v1h-35.0625zM401.688 161h35.0625v1h-35.0625zM401.688 164h35.0625v1h-35.0625zM401.688 190h35.0625v1h-35.0625zM401.688 222h35.0625v1h-35.0625zM401.688 228h35.0625v1h-35.0625zM401.688 260h35.0625v1h-35.0625zM401.688 262h35.0625v1h-35.0625zM401.688 304h35.0625v1h-35.0625zM401.688 308h35.0625v1h-35.0625zM401.688 311h35.0625v1h-35.0625zM401.688 316h35.0625v1h-35.0625zM401.688 335h35.0625v1h-35.0625zM401.688 350h35.0625v1h-35.0625zM401.688 420h35.0625v1h-35.0625zM401.688 446h35.0625v2h-35.0625zM401.688 452h35.0625v1h-35.0625zM401.688 462h35.0625v1h-35.0625z"/><path fill="#f9afaa" d="M401.688 7h35.0625v1h-35.0625zM401.688 11h35.0625v1h-35.0625zM401.688 32h35.0625v1h-35.0625zM401.688 61h35.0625v1h-35.0625zM401.688 70h35.0625v1h-35.0625zM401.688 78h35.0625v1h-35.0625zM401.688 85h35.0625v2h-35.0625zM401.688 96h35.0625v1h-35.0625zM401.688 98h35.0625v1h-35.0625zM401.688 109h35.0625v2h-35.0625zM401.688 113h35.0625v1h-35.0625zM401.688 122h35.0625v1h-35.0625zM401.688 145h35.0625v1h-35.0625zM401.688 152h35.0625v2h-35.0625zM401.688 186h35.0625v1h-35.0625zM401.688 232h35.0625v1h-35.0625zM401.688 271h35.0625v1h-35.0625zM401.688 287h35.0625v1h-35.0625zM401.688 298h35.0625v2h-35.0625zM401.688 321h35.0625v1h-35.0625zM401.688 325h35.0625v1h-35.0625zM401.688 338h35.0625v1h-35.0625zM401.688 346h35.0625v1h-35.0625zM401.688 390h35.0625v1h-35.0625zM401.688 402h35.0625v2h-35.0625zM401.688 409h35.0625v1h-35.0625zM401.688 421h35.0625v1h-35.0625zM401.688 423h35.0625v1h-35.0625zM401.688 425h35.0625v1h-35.0625zM401.688 432h35.0625v1h-35.0625zM401.688 441h35.0625v2h-35.0625zM401.688 456h35.0625v1h-35.0625zM401.688 475h35.0625v1h-35.0625zM401.688 491h35.0625v1h-35.0625zM401.688 512h35.0625v1h-35.0625z"/><path fill="#f8aba6" d="M401.688 39h35.0625v1h-35.0625zM401.688 60h35.0625v1h-35.0625zM401.688 77h35.0625v1h-35.0625zM401.688 94h35.0625v1h-35.0625zM401.688 106h35.0625v2h-35.0625zM401.688 115h35.0625v1h-35.0625zM401.688 117h35.0625v1h-35.0625zM401.688 142h35.0625v1h-35.0625zM401.688 149h35.0625v1h-35.0625zM401.688 155h35.0625v1h-35.0625zM401.688 166h35.0625v1h-35.0625zM401.688 215h35.0625v1h-35.0625zM401.688 217h35.0625v1h-35.0625zM401.688 219h35.0625v1h-35.0625zM401.688 234h35.0625v1h-35.0625zM401.688 258h35.0625v1h-35.0625zM401.688 265h35.0625v1h-35.0625zM401.688 283h35.0625v2h-35.0625zM401.688 289h35.0625v1h-35.0625zM401.688 326h35.0625v1h-35.0625zM401.688 333h35.0625v1h-35.0625zM401.688 345h35.0625v1h-35.0625zM401.688 352h35.0625v1h-35.0625zM401.688 371h35.0625v1h-35.0625zM401.688 379h35.0625v1h-35.0625zM401.688 433h35.0625v2h-35.0625zM401.688 444h35.0625v1h-35.0625zM401.688 458h35.0625v1h-35.0625zM401.688 484h35.0625v1h-35.0625zM401.688 511h35.0625v1h-35.0625zM401.688 514h35.0625v2h-35.0625z"/><path fill="#f8a7a1" d="M401.688 8h35.0625v1h-35.0625zM401.688 25h35.0625v1h-35.0625zM401.688 62h35.0625v1h-35.0625zM401.688 66h35.0625v1h-35.0625zM401.688 69h35.0625v1h-35.0625zM401.688 87h35.0625v1h-35.0625zM401.688 102h35.0625v1h-35.0625zM401.688 114h35.0625v1h-35.0625zM401.688 123h35.0625v1h-35.0625zM401.688 156h35.0625v1h-35.0625zM401.688 160h35.0625v1h-35.0625zM401.688 165h35.0625v1h-35.0625zM401.688 194h35.0625v2h-35.0625zM401.688 209h35.0625v1h-35.0625zM401.688 212h35.0625v1h-35.0625zM401.688 225h35.0625v1h-35.0625zM401.688 245h35.0625v1h-35.0625zM401.688 252h35.0625v1h-35.0625zM401.688 254h35.0625v1h-35.0625zM401.688 286h35.0625v1h-35.0625zM401.688 307h35.0625v1h-35.0625zM401.688 312h35.0625v1h-35.0625zM401.688 355h35.0625v1h-35.0625zM401.688 364h35.0625v1h-35.0625zM401.688 381h35.0625v1h-35.0625zM401.688 405h35.0625v1h-35.0625zM401.688 408h35.0625v1h-35.0625zM401.688 416h35.0625v1h-35.0625zM401.688 438h35.0625v1h-35.0625zM401.688 483h35.0625v1h-35.0625zM401.688 509h35.0625v1h-35.0625zM401.688 518h35.0625v1h-35.0625zM401.688 520h35.0625v1h-35.0625z"/><path fill="#f7a29d" d="M401.688 16h35.0625v1h-35.0625zM401.688 33h35.0625v1h-35.0625zM401.688 44h35.0625v1h-35.0625zM401.688 53h35.0625v1h-35.0625zM401.688 101h35.0625v1h-35.0625zM401.688 108h35.0625v1h-35.0625zM401.688 120h35.0625v1h-35.0625zM401.688 199h35.0625v1h-35.0625zM401.688 201h35.0625v1h-35.0625zM401.688 203h35.0625v1h-35.0625zM401.688 211h35.0625v1h-35.0625zM401.688 238h35.0625v2h-35.0625zM401.688 263h35.0625v1h-35.0625zM401.688 266h35.0625v1h-35.0625zM401.688 268h35.0625v1h-35.0625zM401.688 275h35.0625v1h-35.0625zM401.688 279h35.0625v1h-35.0625zM401.688 281h35.0625v1h-35.0625zM401.688 285h35.0625v1h-35.0625zM401.688 296h35.0625v1h-35.0625zM401.688 354h35.0625v1h-35.0625zM401.688 359h35.0625v1h-35.0625zM401.688 363h35.0625v1h-35.0625zM401.688 383h35.0625v1h-35.0625zM401.688 388h35.0625v1h-35.0625zM401.688 395h35.0625v2h-35.0625zM401.688 415h35.0625v1h-35.0625zM401.688 418h35.0625v1h-35.0625zM401.688 429h35.0625v1h-35.0625zM401.688 431h35.0625v1h-35.0625zM401.688 437h35.0625v1h-35.0625zM401.688 459h35.0625v1h-35.0625zM401.688 464h35.0625v1h-35.0625zM401.688 482h35.0625v1h-35.0625zM401.688 510h35.0625v1h-35.0625z"/><path fill="#f69e98" d="M401.688 2h35.0625v1h-35.0625zM401.688 55h35.0625v1h-35.0625zM401.688 112h35.0625v1h-35.0625zM401.688 121h35.0625v1h-35.0625zM401.688 126h35.0625v1h-35.0625zM401.688 134h35.0625v1h-35.0625zM401.688 147h35.0625v1h-35.0625zM401.688 168h35.0625v1h-35.0625zM401.688 185h35.0625v1h-35.0625zM401.688 192h35.0625v2h-35.0625zM401.688 204h35.0625v1h-35.0625zM401.688 218h35.0625v1h-35.0625zM401.688 220h35.0625v1h-35.0625zM401.688 226h35.0625v1h-35.0625zM401.688 233h35.0625v1h-35.0625zM401.688 241h35.0625v1h-35.0625zM401.688 264h35.0625v1h-35.0625zM401.688 293h35.0625v2h-35.0625zM401.688 297h35.0625v1h-35.0625zM401.688 320h35.0625v1h-35.0625zM401.688 334h35.0625v1h-35.0625zM401.688 347h35.0625v1h-35.0625zM401.688 357h35.0625v2h-35.0625zM401.688 378h35.0625v1h-35.0625zM401.688 470h35.0625v1h-35.0625zM401.688 481h35.0625v1h-35.0625zM401.688 495h35.0625v1h-35.0625zM401.688 526h35.0625v1h-35.0625z"/><path fill="#f59994" d="M401.688 37h35.0625v1h-35.0625zM401.688 57h35.0625v1h-35.0625zM401.688 76h35.0625v1h-35.0625zM401.688 130h35.0625v1h-35.0625zM401.688 133h35.0625v1h-35.0625zM401.688 140h35.0625v1h-35.0625zM401.688 162h35.0625v1h-35.0625zM401.688 169h35.0625v1h-35.0625zM401.688 175h35.0625v2h-35.0625zM401.688 178h35.0625v1h-35.0625zM401.688 196h35.0625v1h-35.0625zM401.688 202h35.0625v1h-35.0625zM401.688 221h35.0625v1h-35.0625zM401.688 224h35.0625v1h-35.0625zM401.688 295h35.0625v1h-35.0625zM401.688 331h35.0625v1h-35.0625zM401.688 342h35.0625v1h-35.0625zM401.688 361h35.0625v1h-35.0625zM401.688 370h35.0625v1h-35.0625zM401.688 411h35.0625v1h-35.0625zM401.688 430h35.0625v1h-35.0625zM401.688 440h35.0625v1h-35.0625zM401.688 443h35.0625v1h-35.0625zM401.688 525h35.0625v1h-35.0625z"/><path fill="#f4958f" d="M401.688 50h35.0625v1h-35.0625zM401.688 71h35.0625v1h-35.0625zM401.688 75h35.0625v1h-35.0625zM401.688 80h35.0625v1h-35.0625zM401.688 111h35.0625v1h-35.0625zM401.688 132h35.0625v1h-35.0625zM401.688 137h35.0625v1h-35.0625zM401.688 171h35.0625v1h-35.0625zM401.688 184h35.0625v1h-35.0625zM401.688 189h35.0625v1h-35.0625zM401.688 303h35.0625v1h-35.0625zM401.688 323h35.0625v1h-35.0625zM401.688 329h35.0625v1h-35.0625zM401.688 332h35.0625v1h-35.0625zM401.688 339h35.0625v1h-35.0625zM401.688 360h35.0625v1h-35.0625zM401.688 414h35.0625v1h-35.0625zM401.688 461h35.0625v1h-35.0625zM401.688 480h35.0625v1h-35.0625zM401.688 504h35.0625v2h-35.0625z"/><path fill="#f2908b" d="M401.688 35h35.0625v1h-35.0625zM401.688 38h35.0625v1h-35.0625zM401.688 42h35.0625v1h-35.0625zM401.688 45h35.0625v1h-35.0625zM401.688 54h35.0625v1h-35.0625zM401.688 63h35.0625v1h-35.0625zM401.688 67h35.0625v1h-35.0625zM401.688 139h35.0625v1h-35.0625zM401.688 159h35.0625v1h-35.0625zM401.688 182h35.0625v1h-35.0625zM401.688 197h35.0625v2h-35.0625zM401.688 243h35.0625v2h-35.0625zM401.688 280h35.0625v1h-35.0625zM401.688 292h35.0625v1h-35.0625zM401.688 300h35.0625v1h-35.0625zM401.688 343h35.0625v1h-35.0625zM401.688 353h35.0625v1h-35.0625zM401.688 369h35.0625v1h-35.0625zM401.688 387h35.0625v1h-35.0625zM401.688 389h35.0625v1h-35.0625zM401.688 419h35.0625v1h-35.0625zM401.688 424h35.0625v1h-35.0625zM401.688 445h35.0625v1h-35.0625z"/><path fill="#f18c86" d="M401.688 40h35.0625v2h-35.0625zM401.688 56h35.0625v1h-35.0625zM401.688 103h35.0625v1h-35.0625zM401.688 170h35.0625v1h-35.0625zM401.688 173h35.0625v1h-35.0625zM401.688 187h35.0625v1h-35.0625zM401.688 235h35.0625v1h-35.0625zM401.688 257h35.0625v1h-35.0625zM401.688 274h35.0625v1h-35.0625zM401.688 276h35.0625v1h-35.0625zM401.688 288h35.0625v1h-35.0625zM401.688 306h35.0625v1h-35.0625zM401.688 322h35.0625v1h-35.0625zM401.688 330h35.0625v1h-35.0625zM401.688 340h35.0625v2h-35.0625zM401.688 375h35.0625v1h-35.0625zM401.688 380h35.0625v1h-35.0625zM401.688 385h35.0625v1h-35.0625zM401.688 397h35.0625v1h-35.0625zM401.688 427h35.0625v1h-35.0625zM401.688 457h35.0625v1h-35.0625zM401.688 473h35.0625v1h-35.0625z"/><path fill="#f08782" d="M401.688 58h35.0625v2h-35.0625zM401.688 119h35.0625v1h-35.0625zM401.688 138h35.0625v1h-35.0625zM401.688 180h35.0625v2h-35.0625zM401.688 183h35.0625v1h-35.0625zM401.688 188h35.0625v1h-35.0625zM401.688 206h35.0625v1h-35.0625zM401.688 242h35.0625v1h-35.0625zM401.688 277h35.0625v1h-35.0625zM401.688 398h35.0625v1h-35.0625zM401.688 404h35.0625v1h-35.0625zM401.688 426h35.0625v1h-35.0625zM401.688 465h35.0625v1h-35.0625zM401.688 479h35.0625v1h-35.0625z"/><path fill="#ef827e" d="M401.688 68h35.0625v1h-35.0625zM401.688 141h35.0625v1h-35.0625zM401.688 163h35.0625v1h-35.0625zM401.688 174h35.0625v1h-35.0625zM401.688 179h35.0625v1h-35.0625zM401.688 237h35.0625v1h-35.0625zM401.688 246h35.0625v1h-35.0625zM401.688 253h35.0625v1h-35.0625zM401.688 337h35.0625v1h-35.0625zM401.688 349h35.0625v1h-35.0625zM401.688 362h35.0625v1h-35.0625zM401.688 376h35.0625v1h-35.0625zM401.688 386h35.0625v1h-35.0625zM401.688 412h35.0625v2h-35.0625zM401.688 485h35.0625v1h-35.0625zM401.688 516h35.0625v2h-35.0625z"/><path fill="#ed7e79" d="M401.688 104h35.0625v1h-35.0625zM401.688 135h35.0625v1h-35.0625zM401.688 177h35.0625v1h-35.0625zM401.688 205h35.0625v1h-35.0625zM401.688 273h35.0625v1h-35.0625zM401.688 301h35.0625v1h-35.0625zM401.688 348h35.0625v1h-35.0625zM401.688 356h35.0625v1h-35.0625zM401.688 377h35.0625v1h-35.0625zM401.688 450h35.0625v1h-35.0625z"/><path fill="#ec7975" d="M401.688 172h35.0625v1h-35.0625zM401.688 302h35.0625v1h-35.0625z"/><path fill="#e86b69" d="M401.688 136h35.0625v1h-35.0625zM401.688 200h35.0625v1h-35.0625zM401.688 417h35.0625v1h-35.0625z"/><path fill="#ffe9e7" d="M435.75 128h35.0625v1h-35.0625z"/><path fill="#ffe4e2" d="M435.75 19h35.0625v1h-35.0625zM435.75 23h35.0625v1h-35.0625zM435.75 100h35.0625v1h-35.0625zM435.75 127h35.0625v1h-35.0625zM435.75 167h35.0625v1h-35.0625zM435.75 213h35.0625v2h-35.0625zM435.75 251h35.0625v1h-35.0625zM435.75 278h35.0625v1h-35.0625zM435.75 367h35.0625v1h-35.0625zM435.75 372h35.0625v1h-35.0625zM435.75 393h35.0625v1h-35.0625zM435.75 407h35.0625v1h-35.0625zM435.75 422h35.0625v1h-35.0625z"/><path fill="#ffe0dd" d="M435.75 20h35.0625v2h-35.0625zM435.75 46h35.0625v1h-35.0625zM435.75 81h35.0625v2h-35.0625zM435.75 269h35.0625v1h-35.0625zM435.75 291h35.0625v1h-35.0625zM435.75 314h35.0625v1h-35.0625zM435.75 317h35.0625v1h-35.0625zM435.75 439h35.0625v1h-35.0625zM435.75 488h35.0625v1h-35.0625zM435.75 498h35.0625v1h-35.0625z"/><path fill="#ffdcd8" d="M435.75 10h35.0625v1h-35.0625zM435.75 14h35.0625v1h-35.0625zM435.75 31h35.0625v1h-35.0625zM435.75 52h35.0625v1h-35.0625zM435.75 72h35.0625v1h-35.0625zM435.75 116h35.0625v1h-35.0625zM435.75 134h35.0625v1h-35.0625zM435.75 191h35.0625v1h-35.0625zM435.75 394h35.0625v1h-35.0625zM435.75 454h35.0625v1h-35.0625zM435.75 466h35.0625v1h-35.0625zM435.75 492h35.0625v2h-35.0625zM435.75 496h35.0625v1h-35.0625z"/><path fill="#ffd7d4" d="M435.75 5h35.0625v1h-35.0625zM435.75 78h35.0625v1h-35.0625zM435.75 124h35.0625v1h-35.0625zM435.75 129h35.0625v1h-35.0625zM435.75 146h35.0625v1h-35.0625zM435.75 151h35.0625v1h-35.0625zM435.75 157h35.0625v1h-35.0625zM435.75 164h35.0625v1h-35.0625zM435.75 208h35.0625v1h-35.0625zM435.75 240h35.0625v1h-35.0625zM435.75 250h35.0625v1h-35.0625zM435.75 256h35.0625v1h-35.0625zM435.75 272h35.0625v1h-35.0625zM435.75 310h35.0625v1h-35.0625zM435.75 368h35.0625v1h-35.0625zM435.75 406h35.0625v1h-35.0625zM435.75 467h35.0625v1h-35.0625zM435.75 487h35.0625v1h-35.0625zM435.75 489h35.0625v1h-35.0625zM435.75 500h35.0625v1h-35.0625zM435.75 502h35.0625v1h-35.0625z"/><path fill="#fed3cf" d="M435.75 4h35.0625v1h-35.0625zM435.75 17h35.0625v2h-35.0625zM435.75 27h35.0625v1h-35.0625zM435.75 60h35.0625v1h-35.0625zM435.75 99h35.0625v1h-35.0625zM435.75 113h35.0625v1h-35.0625zM435.75 247h35.0625v1h-35.0625zM435.75 255h35.0625v1h-35.0625zM435.75 260h35.0625v1h-35.0625zM435.75 270h35.0625v1h-35.0625zM435.75 313h35.0625v1h-35.0625zM435.75 315h35.0625v2h-35.0625zM435.75 319h35.0625v1h-35.0625zM435.75 410h35.0625v1h-35.0625zM435.75 478h35.0625v1h-35.0625zM435.75 486h35.0625v1h-35.0625zM435.75 503h35.0625v1h-35.0625zM435.75 508h35.0625v1h-35.0625zM435.75 522h35.0625v1h-35.0625z"/><path fill="#fececa" d="M435.75 22h35.0625v1h-35.0625zM435.75 33h35.0625v1h-35.0625zM435.75 49h35.0625v1h-35.0625zM435.75 73h35.0625v1h-35.0625zM435.75 79h35.0625v1h-35.0625zM435.75 83h35.0625v2h-35.0625zM435.75 125h35.0625v1h-35.0625zM435.75 148h35.0625v1h-35.0625zM435.75 158h35.0625v1h-35.0625zM435.75 160h35.0625v2h-35.0625zM435.75 207h35.0625v1h-35.0625zM435.75 232h35.0625v1h-35.0625zM435.75 249h35.0625v1h-35.0625zM435.75 261h35.0625v1h-35.0625zM435.75 311h35.0625v1h-35.0625zM435.75 351h35.0625v1h-35.0625zM435.75 421h35.0625v1h-35.0625zM435.75 423h35.0625v1h-35.0625zM435.75 425h35.0625v1h-35.0625zM435.75 453h35.0625v1h-35.0625zM435.75 456h35.0625v1h-35.0625zM435.75 469h35.0625v1h-35.0625zM435.75 472h35.0625v1h-35.0625z"/><path fill="#fdcac6" d="M435.75 6h35.0625v1h-35.0625zM435.75 11h35.0625v1h-35.0625zM435.75 13h35.0625v1h-35.0625zM435.75 15h35.0625v1h-35.0625zM435.75 34h35.0625v1h-35.0625zM435.75 64h35.0625v1h-35.0625zM435.75 97h35.0625v1h-35.0625zM435.75 126h35.0625v1h-35.0625zM435.75 166h35.0625v1h-35.0625zM435.75 185h35.0625v1h-35.0625zM435.75 210h35.0625v1h-35.0625zM435.75 228h35.0625v2h-35.0625zM435.75 236h35.0625v1h-35.0625zM435.75 265h35.0625v1h-35.0625zM435.75 309h35.0625v1h-35.0625zM435.75 318h35.0625v1h-35.0625zM435.75 321h35.0625v1h-35.0625zM435.75 335h35.0625v1h-35.0625zM435.75 346h35.0625v1h-35.0625zM435.75 350h35.0625v1h-35.0625zM435.75 365h35.0625v1h-35.0625zM435.75 373h35.0625v1h-35.0625zM435.75 379h35.0625v1h-35.0625zM435.75 399h35.0625v1h-35.0625zM435.75 415h35.0625v1h-35.0625zM435.75 455h35.0625v1h-35.0625zM435.75 463h35.0625v1h-35.0625zM435.75 471h35.0625v1h-35.0625zM435.75 524h35.0625v1h-35.0625z"/><path fill="#fdc6c1" d="M435.75 0.75h35.0625v1.25h-35.0625zM435.75 9h35.0625v1h-35.0625zM435.75 36h35.0625v1h-35.0625zM435.75 69h35.0625v1h-35.0625zM435.75 85h35.0625v2h-35.0625zM435.75 115h35.0625v1h-35.0625zM435.75 131h35.0625v1h-35.0625zM435.75 156h35.0625v1h-35.0625zM435.75 174h35.0625v1h-35.0625zM435.75 176h35.0625v1h-35.0625zM435.75 184h35.0625v1h-35.0625zM435.75 190h35.0625v1h-35.0625zM435.75 195h35.0625v1h-35.0625zM435.75 223h35.0625v1h-35.0625zM435.75 230h35.0625v1h-35.0625zM435.75 248h35.0625v1h-35.0625zM435.75 267h35.0625v1h-35.0625zM435.75 298h35.0625v1h-35.0625zM435.75 382h35.0625v1h-35.0625zM435.75 384h35.0625v1h-35.0625zM435.75 414h35.0625v1h-35.0625zM435.75 416h35.0625v1h-35.0625zM435.75 462h35.0625v1h-35.0625zM435.75 468h35.0625v1h-35.0625zM435.75 476h35.0625v1h-35.0625zM435.75 497h35.0625v1h-35.0625zM435.75 507h35.0625v1h-35.0625zM435.75 511h35.0625v1h-35.0625zM435.75 513h35.0625v1h-35.0625zM435.75 519h35.0625v1h-35.0625zM435.75 521h35.0625v1h-35.0625z"/><path fill="#fcc1bc" d="M435.75 7h35.0625v1h-35.0625zM435.75 12h35.0625v1h-35.0625zM435.75 26h35.0625v1h-35.0625zM435.75 28h35.0625v1h-35.0625zM435.75 32h35.0625v1h-35.0625zM435.75 48h35.0625v1h-35.0625zM435.75 65h35.0625v1h-35.0625zM435.75 70h35.0625v1h-35.0625zM435.75 74h35.0625v1h-35.0625zM435.75 77h35.0625v1h-35.0625zM435.75 114h35.0625v1h-35.0625zM435.75 144h35.0625v1h-35.0625zM435.75 162h35.0625v1h-35.0625zM435.75 194h35.0625v1h-35.0625zM435.75 215h35.0625v3h-35.0625zM435.75 219h35.0625v1h-35.0625zM435.75 227h35.0625v1h-35.0625zM435.75 231h35.0625v1h-35.0625zM435.75 275h35.0625v1h-35.0625zM435.75 283h35.0625v1h-35.0625zM435.75 299h35.0625v1h-35.0625zM435.75 326h35.0625v2h-35.0625zM435.75 333h35.0625v1h-35.0625zM435.75 345h35.0625v1h-35.0625zM435.75 360h35.0625v1h-35.0625zM435.75 392h35.0625v1h-35.0625zM435.75 400h35.0625v1h-35.0625zM435.75 438h35.0625v1h-35.0625zM435.75 448h35.0625v1h-35.0625zM435.75 460h35.0625v1h-35.0625zM435.75 477h35.0625v1h-35.0625zM435.75 494h35.0625v1h-35.0625zM435.75 501h35.0625v1h-35.0625z"/><path fill="#fcbdb8" d="M435.75 24h35.0625v2h-35.0625zM435.75 61h35.0625v2h-35.0625zM435.75 76h35.0625v1h-35.0625zM435.75 88h35.0625v1h-35.0625zM435.75 91h35.0625v1h-35.0625zM435.75 106h35.0625v1h-35.0625zM435.75 118h35.0625v1h-35.0625zM435.75 120h35.0625v1h-35.0625zM435.75 145h35.0625v1h-35.0625zM435.75 147h35.0625v1h-35.0625zM435.75 149h35.0625v2h-35.0625zM435.75 152h35.0625v3h-35.0625zM435.75 168h35.0625v1h-35.0625zM435.75 175h35.0625v1h-35.0625zM435.75 201h35.0625v1h-35.0625zM435.75 209h35.0625v1h-35.0625zM435.75 222h35.0625v1h-35.0625zM435.75 258h35.0625v2h-35.0625zM435.75 271h35.0625v1h-35.0625zM435.75 282h35.0625v1h-35.0625zM435.75 284h35.0625v1h-35.0625zM435.75 290h35.0625v1h-35.0625zM435.75 308h35.0625v1h-35.0625zM435.75 312h35.0625v1h-35.0625zM435.75 325h35.0625v1h-35.0625zM435.75 328h35.0625v1h-35.0625zM435.75 358h35.0625v2h-35.0625zM435.75 366h35.0625v1h-35.0625zM435.75 397h35.0625v1h-35.0625zM435.75 433h35.0625v1h-35.0625zM435.75 436h35.0625v1h-35.0625zM435.75 442h35.0625v1h-35.0625zM435.75 444h35.0625v1h-35.0625zM435.75 446h35.0625v1h-35.0625zM435.75 451h35.0625v1h-35.0625zM435.75 490h35.0625v1h-35.0625zM435.75 495h35.0625v1h-35.0625zM435.75 506h35.0625v1h-35.0625zM435.75 512h35.0625v1h-35.0625z"/><path fill="#fbb8b3" d="M435.75 3h35.0625v1h-35.0625zM435.75 29h35.0625v2h-35.0625zM435.75 39h35.0625v1h-35.0625zM435.75 43h35.0625v1h-35.0625zM435.75 51h35.0625v1h-35.0625zM435.75 80h35.0625v1h-35.0625zM435.75 110h35.0625v1h-35.0625zM435.75 117h35.0625v1h-35.0625zM435.75 122h35.0625v2h-35.0625zM435.75 140h35.0625v1h-35.0625zM435.75 142h35.0625v1h-35.0625zM435.75 155h35.0625v1h-35.0625zM435.75 165h35.0625v1h-35.0625zM435.75 183h35.0625v1h-35.0625zM435.75 196h35.0625v1h-35.0625zM435.75 203h35.0625v1h-35.0625zM435.75 252h35.0625v1h-35.0625zM435.75 289h35.0625v1h-35.0625zM435.75 297h35.0625v1h-35.0625zM435.75 320h35.0625v1h-35.0625zM435.75 322h35.0625v1h-35.0625zM435.75 324h35.0625v1h-35.0625zM435.75 334h35.0625v1h-35.0625zM435.75 336h35.0625v1h-35.0625zM435.75 338h35.0625v1h-35.0625zM435.75 344h35.0625v1h-35.0625zM435.75 357h35.0625v1h-35.0625zM435.75 364h35.0625v1h-35.0625zM435.75 371h35.0625v1h-35.0625zM435.75 378h35.0625v1h-35.0625zM435.75 381h35.0625v1h-35.0625zM435.75 390h35.0625v1h-35.0625zM435.75 395h35.0625v2h-35.0625zM435.75 403h35.0625v1h-35.0625zM435.75 405h35.0625v1h-35.0625zM435.75 420h35.0625v1h-35.0625zM435.75 428h35.0625v1h-35.0625zM435.75 437h35.0625v1h-35.0625zM435.75 449h35.0625v1h-35.0625zM435.75 483h35.0625v2h-35.0625zM435.75 491h35.0625v1h-35.0625zM435.75 499h35.0625v1h-35.0625zM435.75 509h35.0625v1h-35.0625zM435.75 514h35.0625v1h-35.0625zM435.75 520h35.0625v1h-35.0625zM435.75 523h35.0625v1h-35.0625z"/><path fill="#fab4af" d="M435.75 47h35.0625v1h-35.0625zM435.75 53h35.0625v1h-35.0625zM435.75 87h35.0625v1h-35.0625zM435.75 102h35.0625v1h-35.0625zM435.75 105h35.0625v1h-35.0625zM435.75 109h35.0625v1h-35.0625zM435.75 112h35.0625v1h-35.0625zM435.75 137h35.0625v1h-35.0625zM435.75 143h35.0625v1h-35.0625zM435.75 173h35.0625v1h-35.0625zM435.75 178h35.0625v1h-35.0625zM435.75 204h35.0625v1h-35.0625zM435.75 233h35.0625v1h-35.0625zM435.75 241h35.0625v1h-35.0625zM435.75 262h35.0625v2h-35.0625zM435.75 266h35.0625v1h-35.0625zM435.75 279h35.0625v1h-35.0625zM435.75 287h35.0625v1h-35.0625zM435.75 296h35.0625v1h-35.0625zM435.75 302h35.0625v1h-35.0625zM435.75 305h35.0625v1h-35.0625zM435.75 341h35.0625v1h-35.0625zM435.75 383h35.0625v1h-35.0625zM435.75 389h35.0625v1h-35.0625zM435.75 391h35.0625v1h-35.0625zM435.75 402h35.0625v1h-35.0625zM435.75 424h35.0625v1h-35.0625zM435.75 435h35.0625v1h-35.0625zM435.75 441h35.0625v1h-35.0625zM435.75 447h35.0625v1h-35.0625zM435.75 510h35.0625v1h-35.0625zM435.75 518h35.0625v1h-35.0625z"/><path fill="#f9afaa" d="M435.75 2h35.0625v1h-35.0625zM435.75 37h35.0625v1h-35.0625zM435.75 42h35.0625v1h-35.0625zM435.75 55h35.0625v1h-35.0625zM435.75 75h35.0625v1h-35.0625zM435.75 98h35.0625v1h-35.0625zM435.75 101h35.0625v1h-35.0625zM435.75 111h35.0625v1h-35.0625zM435.75 121h35.0625v1h-35.0625zM435.75 133h35.0625v1h-35.0625zM435.75 138h35.0625v1h-35.0625zM435.75 169h35.0625v1h-35.0625zM435.75 172h35.0625v1h-35.0625zM435.75 186h35.0625v1h-35.0625zM435.75 199h35.0625v1h-35.0625zM435.75 218h35.0625v1h-35.0625zM435.75 220h35.0625v2h-35.0625zM435.75 245h35.0625v1h-35.0625zM435.75 280h35.0625v1h-35.0625zM435.75 304h35.0625v1h-35.0625zM435.75 342h35.0625v1h-35.0625zM435.75 352h35.0625v1h-35.0625zM435.75 369h35.0625v1h-35.0625zM435.75 374h35.0625v1h-35.0625zM435.75 418h35.0625v1h-35.0625zM435.75 440h35.0625v1h-35.0625zM435.75 452h35.0625v1h-35.0625zM435.75 458h35.0625v1h-35.0625zM435.75 464h35.0625v1h-35.0625zM435.75 480h35.0625v1h-35.0625zM435.75 515h35.0625v1h-35.0625z"/><path fill="#f8aba6" d="M435.75 16h35.0625v1h-35.0625zM435.75 35h35.0625v1h-35.0625zM435.75 41h35.0625v1h-35.0625zM435.75 66h35.0625v1h-35.0625zM435.75 107h35.0625v2h-35.0625zM435.75 130h35.0625v1h-35.0625zM435.75 132h35.0625v1h-35.0625zM435.75 135h35.0625v1h-35.0625zM435.75 170h35.0625v1h-35.0625zM435.75 182h35.0625v1h-35.0625zM435.75 189h35.0625v1h-35.0625zM435.75 197h35.0625v1h-35.0625zM435.75 211h35.0625v1h-35.0625zM435.75 264h35.0625v1h-35.0625zM435.75 277h35.0625v1h-35.0625zM435.75 286h35.0625v1h-35.0625zM435.75 292h35.0625v4h-35.0625zM435.75 300h35.0625v1h-35.0625zM435.75 307h35.0625v1h-35.0625zM435.75 332h35.0625v1h-35.0625zM435.75 354h35.0625v1h-35.0625zM435.75 388h35.0625v1h-35.0625zM435.75 401h35.0625v1h-35.0625zM435.75 409h35.0625v1h-35.0625zM435.75 427h35.0625v1h-35.0625zM435.75 432h35.0625v1h-35.0625zM435.75 459h35.0625v1h-35.0625zM435.75 465h35.0625v1h-35.0625zM435.75 470h35.0625v1h-35.0625zM435.75 475h35.0625v1h-35.0625zM435.75 482h35.0625v1h-35.0625zM435.75 525h35.0625v2h-35.0625z"/><path fill="#f8a7a1" d="M435.75 56h35.0625v1h-35.0625zM435.75 71h35.0625v1h-35.0625zM435.75 90h35.0625v1h-35.0625zM435.75 92h35.0625v2h-35.0625zM435.75 103h35.0625v1h-35.0625zM435.75 119h35.0625v1h-35.0625zM435.75 136h35.0625v1h-35.0625zM435.75 139h35.0625v1h-35.0625zM435.75 141h35.0625v1h-35.0625zM435.75 163h35.0625v1h-35.0625zM435.75 193h35.0625v1h-35.0625zM435.75 198h35.0625v1h-35.0625zM435.75 225h35.0625v1h-35.0625zM435.75 239h35.0625v1h-35.0625zM435.75 244h35.0625v1h-35.0625zM435.75 268h35.0625v1h-35.0625zM435.75 281h35.0625v1h-35.0625zM435.75 303h35.0625v1h-35.0625zM435.75 355h35.0625v1h-35.0625zM435.75 361h35.0625v1h-35.0625zM435.75 370h35.0625v1h-35.0625zM435.75 380h35.0625v1h-35.0625zM435.75 408h35.0625v1h-35.0625zM435.75 411h35.0625v1h-35.0625zM435.75 474h35.0625v1h-35.0625z"/><path fill="#f7a29d" d="M435.75 8h35.0625v1h-35.0625zM435.75 40h35.0625v1h-35.0625zM435.75 44h35.0625v1h-35.0625zM435.75 67h35.0625v1h-35.0625zM435.75 171h35.0625v1h-35.0625zM435.75 180h35.0625v2h-35.0625zM435.75 212h35.0625v1h-35.0625zM435.75 226h35.0625v1h-35.0625zM435.75 238h35.0625v1h-35.0625zM435.75 243h35.0625v1h-35.0625zM435.75 257h35.0625v1h-35.0625zM435.75 273h35.0625v1h-35.0625zM435.75 276h35.0625v1h-35.0625zM435.75 331h35.0625v1h-35.0625zM435.75 347h35.0625v1h-35.0625zM435.75 363h35.0625v1h-35.0625zM435.75 385h35.0625v1h-35.0625zM435.75 404h35.0625v1h-35.0625zM435.75 429h35.0625v1h-35.0625zM435.75 434h35.0625v1h-35.0625zM435.75 481h35.0625v1h-35.0625z"/><path fill="#f69e98" d="M435.75 50h35.0625v1h-35.0625zM435.75 68h35.0625v1h-35.0625zM435.75 95h35.0625v1h-35.0625zM435.75 159h35.0625v1h-35.0625zM435.75 179h35.0625v1h-35.0625zM435.75 188h35.0625v1h-35.0625zM435.75 192h35.0625v1h-35.0625zM435.75 202h35.0625v1h-35.0625zM435.75 224h35.0625v1h-35.0625zM435.75 254h35.0625v1h-35.0625zM435.75 274h35.0625v1h-35.0625zM435.75 285h35.0625v1h-35.0625zM435.75 398h35.0625v1h-35.0625zM435.75 419h35.0625v1h-35.0625zM435.75 426h35.0625v1h-35.0625zM435.75 430h35.0625v1h-35.0625zM435.75 445h35.0625v1h-35.0625zM435.75 485h35.0625v1h-35.0625zM435.75 504h35.0625v2h-35.0625z"/><path fill="#f59994" d="M435.75 54h35.0625v1h-35.0625zM435.75 57h35.0625v1h-35.0625zM435.75 205h35.0625v1h-35.0625zM435.75 237h35.0625v1h-35.0625zM435.75 306h35.0625v1h-35.0625zM435.75 323h35.0625v1h-35.0625zM435.75 375h35.0625v1h-35.0625zM435.75 387h35.0625v1h-35.0625zM435.75 412h35.0625v1h-35.0625zM435.75 443h35.0625v1h-35.0625zM435.75 457h35.0625v1h-35.0625zM435.75 461h35.0625v1h-35.0625zM435.75 473h35.0625v1h-35.0625z"/><path fill="#f4958f" d="M435.75 59h35.0625v1h-35.0625zM435.75 63h35.0625v1h-35.0625zM435.75 89h35.0625v1h-35.0625zM435.75 187h35.0625v1h-35.0625zM435.75 206h35.0625v1h-35.0625zM435.75 242h35.0625v1h-35.0625zM435.75 246h35.0625v1h-35.0625zM435.75 329h35.0625v1h-35.0625zM435.75 376h35.0625v1h-35.0625zM435.75 417h35.0625v1h-35.0625zM435.75 431h35.0625v1h-35.0625zM435.75 479h35.0625v1h-35.0625z"/><path fill="#f2908b" d="M435.75 38h35.0625v1h-35.0625zM435.75 58h35.0625v1h-35.0625zM435.75 96h35.0625v1h-35.0625zM435.75 234h35.0625v1h-35.0625zM435.75 330h35.0625v1h-35.0625zM435.75 348h35.0625v1h-35.0625zM435.75 353h35.0625v1h-35.0625zM435.75 356h35.0625v1h-35.0625zM435.75 377h35.0625v1h-35.0625z"/><path fill="#f18c86" d="M435.75 94h35.0625v1h-35.0625zM435.75 177h35.0625v1h-35.0625zM435.75 339h35.0625v1h-35.0625zM435.75 386h35.0625v1h-35.0625zM435.75 413h35.0625v1h-35.0625zM435.75 517h35.0625v1h-35.0625z"/><path fill="#f08782" d="M435.75 200h35.0625v1h-35.0625zM435.75 288h35.0625v1h-35.0625zM435.75 301h35.0625v1h-35.0625zM435.75 343h35.0625v1h-35.0625zM435.75 349h35.0625v1h-35.0625zM435.75 516h35.0625v1h-35.0625z"/><path fill="#ef827e" d="M435.75 45h35.0625v1h-35.0625zM435.75 235h35.0625v1h-35.0625zM435.75 253h35.0625v1h-35.0625zM435.75 450h35.0625v1h-35.0625z"/><path fill="#ed7e79" d="M435.75 337h35.0625v1h-35.0625zM435.75 340h35.0625v1h-35.0625zM435.75 362h35.0625v1h-35.0625z"/><path fill="#ec7975" d="M435.75 104h35.0625v1h-35.0625z"/><path fill="#ffe4e2" d="M469.812 19h35.0625v1h-35.0625zM469.812 21h35.0625v1h-35.0625zM469.812 128h35.0625v1h-35.0625zM469.812 248h35.0625v1h-35.0625zM469.812 250h35.0625v2h-35.0625zM469.812 269h35.0625v1h-35.0625zM469.812 272h35.0625v1h-35.0625zM469.812 317h35.0625v1h-35.0625zM469.812 367h35.0625v2h-35.0625zM469.812 393h35.0625v1h-35.0625zM469.812 498h35.0625v1h-35.0625z"/><path fill="#ffe0dd" d="M469.812 14h35.0625v1h-35.0625zM469.812 18h35.0625v1h-35.0625zM469.812 20h35.0625v1h-35.0625zM469.812 23h35.0625v1h-35.0625zM469.812 164h35.0625v1h-35.0625zM469.812 167h35.0625v1h-35.0625zM469.812 208h35.0625v1h-35.0625zM469.812 278h35.0625v1h-35.0625zM469.812 291h35.0625v1h-35.0625zM469.812 310h35.0625v1h-35.0625zM469.812 399h35.0625v1h-35.0625zM469.812 422h35.0625v1h-35.0625zM469.812 489h35.0625v1h-35.0625zM469.812 492h35.0625v1h-35.0625zM469.812 496h35.0625v1h-35.0625z"/><path fill="#ffdcd8" d="M469.812 191h35.0625v1h-35.0625zM469.812 223h35.0625v1h-35.0625zM469.812 314h35.0625v1h-35.0625zM469.812 365h35.0625v1h-35.0625zM469.812 406h35.0625v1h-35.0625zM469.812 454h35.0625v1h-35.0625zM469.812 488h35.0625v1h-35.0625zM469.812 503h35.0625v1h-35.0625z"/><path fill="#ffd7d4" d="M469.812 27h35.0625v1h-35.0625zM469.812 36h35.0625v1h-35.0625zM469.812 46h35.0625v1h-35.0625zM469.812 72h35.0625v1h-35.0625zM469.812 81h35.0625v1h-35.0625zM469.812 99h35.0625v1h-35.0625zM469.812 113h35.0625v1h-35.0625zM469.812 134h35.0625v1h-35.0625zM469.812 213h35.0625v2h-35.0625zM469.812 249h35.0625v1h-35.0625zM469.812 313h35.0625v1h-35.0625zM469.812 394h35.0625v1h-35.0625zM469.812 410h35.0625v1h-35.0625zM469.812 436h35.0625v1h-35.0625zM469.812 439h35.0625v1h-35.0625zM469.812 463h35.0625v1h-35.0625zM469.812 469h35.0625v1h-35.0625zM469.812 487h35.0625v1h-35.0625zM469.812 502h35.0625v1h-35.0625zM469.812 521h35.0625v1h-35.0625z"/><path fill="#fed3cf" d="M469.812 4h35.0625v1h-35.0625zM469.812 10h35.0625v1h-35.0625zM469.812 17h35.0625v1h-35.0625zM469.812 31h35.0625v1h-35.0625zM469.812 52h35.0625v1h-35.0625zM469.812 60h35.0625v1h-35.0625zM469.812 100h35.0625v1h-35.0625zM469.812 118h35.0625v1h-35.0625zM469.812 124h35.0625v1h-35.0625zM469.812 129h35.0625v1h-35.0625zM469.812 146h35.0625v1h-35.0625zM469.812 207h35.0625v1h-35.0625zM469.812 229h35.0625v2h-35.0625zM469.812 255h35.0625v1h-35.0625zM469.812 270h35.0625v1h-35.0625zM469.812 315h35.0625v1h-35.0625zM469.812 325h35.0625v1h-35.0625zM469.812 486h35.0625v1h-35.0625zM469.812 493h35.0625v1h-35.0625zM469.812 497h35.0625v1h-35.0625zM469.812 507h35.0625v1h-35.0625z"/><path fill="#fececa" d="M469.812 22h35.0625v1h-35.0625zM469.812 49h35.0625v1h-35.0625zM469.812 116h35.0625v1h-35.0625zM469.812 125h35.0625v1h-35.0625zM469.812 127h35.0625v1h-35.0625zM469.812 158h35.0625v1h-35.0625zM469.812 166h35.0625v1h-35.0625zM469.812 216h35.0625v1h-35.0625zM469.812 236h35.0625v1h-35.0625zM469.812 256h35.0625v1h-35.0625zM469.812 259h35.0625v1h-35.0625zM469.812 271h35.0625v1h-35.0625zM469.812 372h35.0625v2h-35.0625zM469.812 448h35.0625v1h-35.0625zM469.812 460h35.0625v1h-35.0625zM469.812 471h35.0625v1h-35.0625zM469.812 494h35.0625v1h-35.0625zM469.812 500h35.0625v1h-35.0625zM469.812 522h35.0625v1h-35.0625z"/><path fill="#fdcac6" d="M469.812 73h35.0625v1h-35.0625zM469.812 78h35.0625v1h-35.0625zM469.812 82h35.0625v1h-35.0625zM469.812 86h35.0625v1h-35.0625zM469.812 97h35.0625v1h-35.0625zM469.812 151h35.0625v1h-35.0625zM469.812 165h35.0625v1h-35.0625zM469.812 210h35.0625v1h-35.0625zM469.812 215h35.0625v1h-35.0625zM469.812 220h35.0625v1h-35.0625zM469.812 260h35.0625v1h-35.0625zM469.812 290h35.0625v1h-35.0625zM469.812 318h35.0625v2h-35.0625zM469.812 335h35.0625v1h-35.0625zM469.812 345h35.0625v1h-35.0625zM469.812 379h35.0625v1h-35.0625zM469.812 428h35.0625v1h-35.0625zM469.812 435h35.0625v1h-35.0625zM469.812 462h35.0625v1h-35.0625zM469.812 467h35.0625v1h-35.0625zM469.812 506h35.0625v1h-35.0625zM469.812 508h35.0625v1h-35.0625zM469.812 520h35.0625v1h-35.0625zM469.812 523h35.0625v1h-35.0625z"/><path fill="#fdc6c1" d="M469.812 6h35.0625v1h-35.0625zM469.812 15h35.0625v1h-35.0625zM469.812 25h35.0625v1h-35.0625zM469.812 34h35.0625v1h-35.0625zM469.812 43h35.0625v1h-35.0625zM469.812 77h35.0625v1h-35.0625zM469.812 79h35.0625v1h-35.0625zM469.812 88h35.0625v1h-35.0625zM469.812 117h35.0625v1h-35.0625zM469.812 145h35.0625v1h-35.0625zM469.812 157h35.0625v1h-35.0625zM469.812 160h35.0625v2h-35.0625zM469.812 176h35.0625v1h-35.0625zM469.812 217h35.0625v1h-35.0625zM469.812 227h35.0625v2h-35.0625zM469.812 232h35.0625v1h-35.0625zM469.812 283h35.0625v1h-35.0625zM469.812 295h35.0625v1h-35.0625zM469.812 311h35.0625v1h-35.0625zM469.812 425h35.0625v1h-35.0625zM469.812 447h35.0625v1h-35.0625zM469.812 449h35.0625v1h-35.0625zM469.812 455h35.0625v1h-35.0625zM469.812 466h35.0625v1h-35.0625zM469.812 468h35.0625v1h-35.0625zM469.812 470h35.0625v1h-35.0625zM469.812 472h35.0625v1h-35.0625zM469.812 478h35.0625v1h-35.0625zM469.812 513h35.0625v1h-35.0625zM469.812 519h35.0625v1h-35.0625z"/><path fill="#fcc1bc" d="M469.812 2h35.0625v1h-35.0625zM469.812 12h35.0625v2h-35.0625zM469.812 16h35.0625v1h-35.0625zM469.812 26h35.0625v1h-35.0625zM469.812 28h35.0625v1h-35.0625zM469.812 33h35.0625v1h-35.0625zM469.812 64h35.0625v2h-35.0625zM469.812 91h35.0625v1h-35.0625zM469.812 114h35.0625v1h-35.0625zM469.812 122h35.0625v2h-35.0625zM469.812 148h35.0625v1h-35.0625zM469.812 150h35.0625v1h-35.0625zM469.812 168h35.0625v1h-35.0625zM469.812 219h35.0625v1h-35.0625zM469.812 240h35.0625v1h-35.0625zM469.812 247h35.0625v1h-35.0625zM469.812 252h35.0625v1h-35.0625zM469.812 261h35.0625v1h-35.0625zM469.812 265h35.0625v1h-35.0625zM469.812 275h35.0625v1h-35.0625zM469.812 282h35.0625v1h-35.0625zM469.812 296h35.0625v1h-35.0625zM469.812 298h35.0625v1h-35.0625zM469.812 305h35.0625v1h-35.0625zM469.812 316h35.0625v1h-35.0625zM469.812 328h35.0625v1h-35.0625zM469.812 346h35.0625v1h-35.0625zM469.812 382h35.0625v1h-35.0625zM469.812 384h35.0625v1h-35.0625zM469.812 416h35.0625v1h-35.0625zM469.812 433h35.0625v1h-35.0625zM469.812 456h35.0625v1h-35.0625zM469.812 477h35.0625v1h-35.0625zM469.812 490h35.0625v2h-35.0625zM469.812 501h35.0625v1h-35.0625zM469.812 509h35.0625v1h-35.0625zM469.812 514h35.0625v1h-35.0625zM469.812 524h35.0625v1h-35.0625z"/><path fill="#fcbdb8" d="M469.812 3h35.0625v1h-35.0625zM469.812 5h35.0625v1h-35.0625zM469.812 24h35.0625v1h-35.0625zM469.812 29h35.0625v1h-35.0625zM469.812 48h35.0625v1h-35.0625zM469.812 69h35.0625v1h-35.0625zM469.812 84h35.0625v2h-35.0625zM469.812 109h35.0625v2h-35.0625zM469.812 120h35.0625v1h-35.0625zM469.812 126h35.0625v1h-35.0625zM469.812 152h35.0625v3h-35.0625zM469.812 175h35.0625v1h-35.0625zM469.812 190h35.0625v1h-35.0625zM469.812 194h35.0625v1h-35.0625zM469.812 209h35.0625v1h-35.0625zM469.812 238h35.0625v1h-35.0625zM469.812 258h35.0625v1h-35.0625zM469.812 267h35.0625v1h-35.0625zM469.812 284h35.0625v1h-35.0625zM469.812 289h35.0625v1h-35.0625zM469.812 297h35.0625v1h-35.0625zM469.812 300h35.0625v1h-35.0625zM469.812 304h35.0625v1h-35.0625zM469.812 321h35.0625v1h-35.0625zM469.812 332h35.0625v2h-35.0625zM469.812 336h35.0625v1h-35.0625zM469.812 352h35.0625v1h-35.0625zM469.812 366h35.0625v1h-35.0625zM469.812 388h35.0625v1h-35.0625zM469.812 391h35.0625v2h-35.0625zM469.812 400h35.0625v1h-35.0625zM469.812 407h35.0625v1h-35.0625zM469.812 414h35.0625v1h-35.0625zM469.812 423h35.0625v1h-35.0625zM469.812 458h35.0625v1h-35.0625zM469.812 499h35.0625v1h-35.0625z"/><path fill="#fbb8b3" d="M469.812 7h35.0625v1h-35.0625zM469.812 9h35.0625v1h-35.0625zM469.812 11h35.0625v1h-35.0625zM469.812 32h35.0625v1h-35.0625zM469.812 44h35.0625v1h-35.0625zM469.812 58h35.0625v1h-35.0625zM469.812 74h35.0625v1h-35.0625zM469.812 76h35.0625v1h-35.0625zM469.812 83h35.0625v1h-35.0625zM469.812 98h35.0625v1h-35.0625zM469.812 102h35.0625v1h-35.0625zM469.812 121h35.0625v1h-35.0625zM469.812 131h35.0625v1h-35.0625zM469.812 140h35.0625v1h-35.0625zM469.812 144h35.0625v1h-35.0625zM469.812 156h35.0625v1h-35.0625zM469.812 225h35.0625v1h-35.0625zM469.812 231h35.0625v1h-35.0625zM469.812 279h35.0625v1h-35.0625zM469.812 294h35.0625v1h-35.0625zM469.812 309h35.0625v1h-35.0625zM469.812 327h35.0625v1h-35.0625zM469.812 338h35.0625v1h-35.0625zM469.812 344h35.0625v1h-35.0625zM469.812 374h35.0625v1h-35.0625zM469.812 383h35.0625v1h-35.0625zM469.812 390h35.0625v1h-35.0625zM469.812 409h35.0625v1h-35.0625zM469.812 420h35.0625v2h-35.0625zM469.812 512h35.0625v1h-35.0625zM469.812 515h35.0625v1h-35.0625z"/><path fill="#fab4af" d="M469.812 42h35.0625v1h-35.0625zM469.812 61h35.0625v1h-35.0625zM469.812 66h35.0625v1h-35.0625zM469.812 80h35.0625v1h-35.0625zM469.812 90h35.0625v1h-35.0625zM469.812 111h35.0625v1h-35.0625zM469.812 115h35.0625v1h-35.0625zM469.812 133h35.0625v1h-35.0625zM469.812 143h35.0625v1h-35.0625zM469.812 179h35.0625v1h-35.0625zM469.812 181h35.0625v1h-35.0625zM469.812 183h35.0625v4h-35.0625zM469.812 195h35.0625v1h-35.0625zM469.812 222h35.0625v1h-35.0625zM469.812 233h35.0625v1h-35.0625zM469.812 243h35.0625v1h-35.0625zM469.812 263h35.0625v1h-35.0625zM469.812 293h35.0625v1h-35.0625zM469.812 299h35.0625v1h-35.0625zM469.812 303h35.0625v1h-35.0625zM469.812 307h35.0625v1h-35.0625zM469.812 320h35.0625v1h-35.0625zM469.812 324h35.0625v1h-35.0625zM469.812 326h35.0625v1h-35.0625zM469.812 334h35.0625v1h-35.0625zM469.812 351h35.0625v1h-35.0625zM469.812 357h35.0625v1h-35.0625zM469.812 364h35.0625v1h-35.0625zM469.812 378h35.0625v1h-35.0625zM469.812 380h35.0625v2h-35.0625zM469.812 396h35.0625v1h-35.0625zM469.812 405h35.0625v1h-35.0625zM469.812 434h35.0625v1h-35.0625zM469.812 440h35.0625v3h-35.0625zM469.812 444h35.0625v1h-35.0625zM469.812 446h35.0625v1h-35.0625zM469.812 464h35.0625v1h-35.0625zM469.812 474h35.0625v1h-35.0625zM469.812 476h35.0625v1h-35.0625zM469.812 482h35.0625v1h-35.0625zM469.812 518h35.0625v1h-35.0625z"/><path fill="#f9afaa" d="M469.812 30h35.0625v1h-35.0625zM469.812 35h35.0625v1h-35.0625zM469.812 37h35.0625v1h-35.0625zM469.812 39h35.0625v1h-35.0625zM469.812 62h35.0625v1h-35.0625zM469.812 87h35.0625v1h-35.0625zM469.812 106h35.0625v1h-35.0625zM469.812 119h35.0625v1h-35.0625zM469.812 132h35.0625v1h-35.0625zM469.812 138h35.0625v1h-35.0625zM469.812 142h35.0625v1h-35.0625zM469.812 162h35.0625v1h-35.0625zM469.812 169h35.0625v2h-35.0625zM469.812 178h35.0625v1h-35.0625zM469.812 182h35.0625v1h-35.0625zM469.812 196h35.0625v1h-35.0625zM469.812 211h35.0625v1h-35.0625zM469.812 224h35.0625v1h-35.0625zM469.812 244h35.0625v1h-35.0625zM469.812 264h35.0625v1h-35.0625zM469.812 268h35.0625v1h-35.0625zM469.812 285h35.0625v2h-35.0625zM469.812 308h35.0625v1h-35.0625zM469.812 312h35.0625v1h-35.0625zM469.812 350h35.0625v1h-35.0625zM469.812 360h35.0625v1h-35.0625zM469.812 371h35.0625v1h-35.0625zM469.812 415h35.0625v1h-35.0625zM469.812 437h35.0625v2h-35.0625zM469.812 453h35.0625v1h-35.0625zM469.812 504h35.0625v1h-35.0625z"/><path fill="#f8aba6" d="M469.812 0.75h35.0625v1.25h-35.0625zM469.812 40h35.0625v2h-35.0625zM469.812 47h35.0625v1h-35.0625zM469.812 51h35.0625v1h-35.0625zM469.812 53h35.0625v1h-35.0625zM469.812 57h35.0625v1h-35.0625zM469.812 70h35.0625v1h-35.0625zM469.812 75h35.0625v1h-35.0625zM469.812 89h35.0625v1h-35.0625zM469.812 101h35.0625v1h-35.0625zM469.812 107h35.0625v1h-35.0625zM469.812 112h35.0625v1h-35.0625zM469.812 149h35.0625v1h-35.0625zM469.812 155h35.0625v1h-35.0625zM469.812 189h35.0625v1h-35.0625zM469.812 192h35.0625v1h-35.0625zM469.812 197h35.0625v1h-35.0625zM469.812 199h35.0625v1h-35.0625zM469.812 202h35.0625v1h-35.0625zM469.812 239h35.0625v1h-35.0625zM469.812 276h35.0625v2h-35.0625zM469.812 280h35.0625v2h-35.0625zM469.812 287h35.0625v1h-35.0625zM469.812 329h35.0625v1h-35.0625zM469.812 359h35.0625v1h-35.0625zM469.812 389h35.0625v1h-35.0625zM469.812 402h35.0625v2h-35.0625zM469.812 411h35.0625v1h-35.0625zM469.812 418h35.0625v1h-35.0625zM469.812 451h35.0625v1h-35.0625zM469.812 459h35.0625v1h-35.0625zM469.812 481h35.0625v1h-35.0625zM469.812 483h35.0625v2h-35.0625zM469.812 495h35.0625v1h-35.0625zM469.812 511h35.0625v1h-35.0625z"/><path fill="#f8a7a1" d="M469.812 67h35.0625v1h-35.0625zM469.812 92h35.0625v2h-35.0625zM469.812 105h35.0625v1h-35.0625zM469.812 108h35.0625v1h-35.0625zM469.812 135h35.0625v1h-35.0625zM469.812 174h35.0625v1h-35.0625zM469.812 201h35.0625v1h-35.0625zM469.812 203h35.0625v1h-35.0625zM469.812 218h35.0625v1h-35.0625zM469.812 221h35.0625v1h-35.0625zM469.812 234h35.0625v1h-35.0625zM469.812 262h35.0625v1h-35.0625zM469.812 331h35.0625v1h-35.0625zM469.812 342h35.0625v1h-35.0625zM469.812 354h35.0625v2h-35.0625zM469.812 370h35.0625v1h-35.0625zM469.812 395h35.0625v1h-35.0625zM469.812 401h35.0625v1h-35.0625zM469.812 408h35.0625v1h-35.0625zM469.812 429h35.0625v2h-35.0625zM469.812 461h35.0625v1h-35.0625zM469.812 465h35.0625v1h-35.0625zM469.812 473h35.0625v1h-35.0625zM469.812 510h35.0625v1h-35.0625zM469.812 526h35.0625v1h-35.0625z"/><path fill="#f7a29d" d="M469.812 38h35.0625v1h-35.0625zM469.812 55h35.0625v1h-35.0625zM469.812 103h35.0625v1h-35.0625zM469.812 159h35.0625v1h-35.0625zM469.812 171h35.0625v1h-35.0625zM469.812 188h35.0625v1h-35.0625zM469.812 193h35.0625v1h-35.0625zM469.812 206h35.0625v1h-35.0625zM469.812 226h35.0625v1h-35.0625zM469.812 245h35.0625v1h-35.0625zM469.812 254h35.0625v1h-35.0625zM469.812 292h35.0625v1h-35.0625zM469.812 341h35.0625v1h-35.0625zM469.812 347h35.0625v1h-35.0625zM469.812 358h35.0625v1h-35.0625zM469.812 432h35.0625v1h-35.0625zM469.812 457h35.0625v1h-35.0625zM469.812 475h35.0625v1h-35.0625z"/><path fill="#f69e98" d="M469.812 54h35.0625v1h-35.0625zM469.812 59h35.0625v1h-35.0625zM469.812 63h35.0625v1h-35.0625zM469.812 95h35.0625v2h-35.0625zM469.812 137h35.0625v1h-35.0625zM469.812 139h35.0625v1h-35.0625zM469.812 147h35.0625v1h-35.0625zM469.812 163h35.0625v1h-35.0625zM469.812 180h35.0625v1h-35.0625zM469.812 204h35.0625v1h-35.0625zM469.812 212h35.0625v1h-35.0625zM469.812 241h35.0625v1h-35.0625zM469.812 266h35.0625v1h-35.0625zM469.812 274h35.0625v1h-35.0625zM469.812 306h35.0625v1h-35.0625zM469.812 322h35.0625v1h-35.0625zM469.812 353h35.0625v1h-35.0625zM469.812 369h35.0625v1h-35.0625zM469.812 427h35.0625v1h-35.0625zM469.812 443h35.0625v1h-35.0625zM469.812 452h35.0625v1h-35.0625zM469.812 480h35.0625v1h-35.0625z"/><path fill="#f59994" d="M469.812 45h35.0625v1h-35.0625zM469.812 56h35.0625v1h-35.0625zM469.812 68h35.0625v1h-35.0625zM469.812 130h35.0625v1h-35.0625zM469.812 172h35.0625v2h-35.0625zM469.812 187h35.0625v1h-35.0625zM469.812 237h35.0625v1h-35.0625zM469.812 257h35.0625v1h-35.0625zM469.812 273h35.0625v1h-35.0625zM469.812 301h35.0625v1h-35.0625zM469.812 339h35.0625v1h-35.0625zM469.812 361h35.0625v1h-35.0625zM469.812 363h35.0625v1h-35.0625zM469.812 385h35.0625v1h-35.0625zM469.812 397h35.0625v1h-35.0625zM469.812 505h35.0625v1h-35.0625z"/><path fill="#f4958f" d="M469.812 8h35.0625v1h-35.0625zM469.812 50h35.0625v1h-35.0625zM469.812 94h35.0625v1h-35.0625zM469.812 177h35.0625v1h-35.0625zM469.812 242h35.0625v1h-35.0625zM469.812 246h35.0625v1h-35.0625zM469.812 302h35.0625v1h-35.0625zM469.812 337h35.0625v1h-35.0625zM469.812 387h35.0625v1h-35.0625zM469.812 398h35.0625v1h-35.0625zM469.812 412h35.0625v1h-35.0625zM469.812 424h35.0625v1h-35.0625zM469.812 431h35.0625v1h-35.0625zM469.812 445h35.0625v1h-35.0625zM469.812 479h35.0625v1h-35.0625z"/><path fill="#f2908b" d="M469.812 71h35.0625v1h-35.0625zM469.812 198h35.0625v1h-35.0625zM469.812 235h35.0625v1h-35.0625zM469.812 288h35.0625v1h-35.0625zM469.812 349h35.0625v1h-35.0625zM469.812 376h35.0625v2h-35.0625zM469.812 426h35.0625v1h-35.0625zM469.812 516h35.0625v2h-35.0625zM469.812 525h35.0625v1h-35.0625z"/><path fill="#f18c86" d="M469.812 104h35.0625v1h-35.0625zM469.812 253h35.0625v1h-35.0625zM469.812 340h35.0625v1h-35.0625zM469.812 343h35.0625v1h-35.0625zM469.812 348h35.0625v1h-35.0625zM469.812 386h35.0625v1h-35.0625zM469.812 404h35.0625v1h-35.0625zM469.812 419h35.0625v1h-35.0625z"/><path fill="#f08782" d="M469.812 141h35.0625v1h-35.0625zM469.812 205h35.0625v1h-35.0625zM469.812 323h35.0625v1h-35.0625zM469.812 330h35.0625v1h-35.0625zM469.812 417h35.0625v1h-35.0625zM469.812 450h35.0625v1h-35.0625zM469.812 485h35.0625v1h-35.0625z"/><path fill="#ef827e" d="M469.812 136h35.0625v1h-35.0625zM469.812 356h35.0625v1h-35.0625zM469.812 362h35.0625v1h-35.0625z"/><path fill="#ec7975" d="M469.812 375h35.0625v1h-35.0625zM469.812 413h35.0625v1h-35.0625z"/><path fill="#e9706d" d="M469.812 200h35.0625v1h-35.0625z"/><path fill="#ffffff" d="M503.875 128h35.0625v1h-35.0625z"/><path fill="#fffbfa" d="M503.875 81h35.0625v1h-35.0625z"/><path fill="#fff6f5" d="M503.875 19h35.0625v2h-35.0625zM503.875 74h35.0625v1h-35.0625zM503.875 78h35.0625v1h-35.0625zM503.875 328h35.0625v1h-35.0625z"/><path fill="#fff2f0" d="M503.875 75h35.0625v1h-35.0625zM503.875 77h35.0625v1h-35.0625zM503.875 79h35.0625v1h-35.0625zM503.875 325h35.0625v1h-35.0625zM503.875 345h35.0625v2h-35.0625z"/><path fill="#ffedec" d="M503.875 4h35.0625v1h-35.0625zM503.875 14h35.0625v1h-35.0625zM503.875 21h35.0625v3h-35.0625zM503.875 27h35.0625v2h-35.0625zM503.875 31h35.0625v1h-35.0625zM503.875 46h35.0625v1h-35.0625zM503.875 49h35.0625v1h-35.0625zM503.875 52h35.0625v1h-35.0625zM503.875 60h35.0625v1h-35.0625zM503.875 62h35.0625v1h-35.0625zM503.875 64h35.0625v1h-35.0625zM503.875 76h35.0625v1h-35.0625zM503.875 86h35.0625v1h-35.0625zM503.875 99h35.0625v2h-35.0625zM503.875 116h35.0625v1h-35.0625zM503.875 124h35.0625v1h-35.0625zM503.875 127h35.0625v1h-35.0625zM503.875 129h35.0625v1h-35.0625zM503.875 146h35.0625v1h-35.0625zM503.875 157h35.0625v2h-35.0625zM503.875 160h35.0625v1h-35.0625zM503.875 164h35.0625v1h-35.0625zM503.875 166h35.0625v2h-35.0625zM503.875 191h35.0625v1h-35.0625zM503.875 207h35.0625v2h-35.0625zM503.875 210h35.0625v1h-35.0625zM503.875 213h35.0625v2h-35.0625zM503.875 217h35.0625v1h-35.0625zM503.875 227h35.0625v1h-35.0625zM503.875 229h35.0625v2h-35.0625zM503.875 240h35.0625v1h-35.0625zM503.875 248h35.0625v4h-35.0625zM503.875 255h35.0625v2h-35.0625zM503.875 269h35.0625v2h-35.0625zM503.875 272h35.0625v1h-35.0625zM503.875 278h35.0625v1h-35.0625zM503.875 291h35.0625v1h-35.0625zM503.875 310h35.0625v1h-35.0625zM503.875 314h35.0625v2h-35.0625zM503.875 317h35.0625v1h-35.0625zM503.875 327h35.0625v1h-35.0625zM503.875 333h35.0625v1h-35.0625zM503.875 344h35.0625v1h-35.0625zM503.875 365h35.0625v1h-35.0625zM503.875 367h35.0625v2h-35.0625zM503.875 372h35.0625v1h-35.0625zM503.875 379h35.0625v1h-35.0625zM503.875 382h35.0625v1h-35.0625zM503.875 393h35.0625v2h-35.0625zM503.875 399h35.0625v3h-35.0625zM503.875 406h35.0625v1h-35.0625zM503.875 410h35.0625v1h-35.0625zM503.875 422h35.0625v1h-35.0625zM503.875 439h35.0625v1h-35.0625zM503.875 454h35.0625v2h-35.0625zM503.875 460h35.0625v1h-35.0625zM503.875 468h35.0625v1h-35.0625zM503.875 471h35.0625v1h-35.0625zM503.875 476h35.0625v1h-35.0625zM503.875 478h35.0625v1h-35.0625zM503.875 487h35.0625v4h-35.0625zM503.875 492h35.0625v2h-35.0625zM503.875 496h35.0625v3h-35.0625zM503.875 500h35.0625v1h-35.0625zM503.875 502h35.0625v2h-35.0625zM503.875 513h35.0625v1h-35.0625zM503.875 524h35.0625v1h-35.0625z"/><path fill="#ffe9e7" d="M503.875 5h35.0625v1h-35.0625zM503.875 18h35.0625v1h-35.0625zM503.875 70h35.0625v1h-35.0625zM503.875 82h35.0625v2h-35.0625zM503.875 97h35.0625v1h-35.0625zM503.875 113h35.0625v1h-35.0625zM503.875 165h35.0625v1h-35.0625zM503.875 220h35.0625v1h-35.0625zM503.875 228h35.0625v1h-35.0625zM503.875 241h35.0625v1h-35.0625zM503.875 287h35.0625v1h-35.0625zM503.875 290h35.0625v1h-35.0625zM503.875 311h35.0625v1h-35.0625zM503.875 313h35.0625v1h-35.0625zM503.875 371h35.0625v1h-35.0625zM503.875 373h35.0625v1h-35.0625zM503.875 407h35.0625v1h-35.0625zM503.875 415h35.0625v1h-35.0625zM503.875 453h35.0625v1h-35.0625zM503.875 459h35.0625v1h-35.0625zM503.875 469h35.0625v1h-35.0625zM503.875 486h35.0625v1h-35.0625zM503.875 506h35.0625v1h-35.0625zM503.875 508h35.0625v1h-35.0625z"/><path fill="#ffe4e2" d="M503.875 6h35.0625v1h-35.0625zM503.875 11h35.0625v1h-35.0625zM503.875 32h35.0625v2h-35.0625zM503.875 48h35.0625v1h-35.0625zM503.875 66h35.0625v1h-35.0625zM503.875 125h35.0625v1h-35.0625zM503.875 131h35.0625v1h-35.0625zM503.875 134h35.0625v1h-35.0625zM503.875 148h35.0625v1h-35.0625zM503.875 151h35.0625v1h-35.0625zM503.875 175h35.0625v1h-35.0625zM503.875 190h35.0625v1h-35.0625zM503.875 215h35.0625v1h-35.0625zM503.875 223h35.0625v1h-35.0625zM503.875 252h35.0625v1h-35.0625zM503.875 271h35.0625v1h-35.0625zM503.875 299h35.0625v1h-35.0625zM503.875 318h35.0625v1h-35.0625zM503.875 321h35.0625v1h-35.0625zM503.875 326h35.0625v1h-35.0625zM503.875 329h35.0625v1h-35.0625zM503.875 351h35.0625v1h-35.0625zM503.875 391h35.0625v1h-35.0625zM503.875 416h35.0625v1h-35.0625zM503.875 420h35.0625v1h-35.0625zM503.875 423h35.0625v1h-35.0625zM503.875 436h35.0625v1h-35.0625zM503.875 463h35.0625v1h-35.0625zM503.875 466h35.0625v2h-35.0625zM503.875 472h35.0625v1h-35.0625zM503.875 477h35.0625v1h-35.0625zM503.875 514h35.0625v1h-35.0625zM503.875 522h35.0625v1h-35.0625z"/><path fill="#ffe0dd" d="M503.875 7h35.0625v1h-35.0625zM503.875 10h35.0625v1h-35.0625zM503.875 15h35.0625v1h-35.0625zM503.875 34h35.0625v1h-35.0625zM503.875 39h35.0625v2h-35.0625zM503.875 61h35.0625v1h-35.0625zM503.875 65h35.0625v1h-35.0625zM503.875 72h35.0625v2h-35.0625zM503.875 143h35.0625v3h-35.0625zM503.875 153h35.0625v1h-35.0625zM503.875 168h35.0625v1h-35.0625zM503.875 176h35.0625v1h-35.0625zM503.875 194h35.0625v1h-35.0625zM503.875 219h35.0625v1h-35.0625zM503.875 231h35.0625v1h-35.0625zM503.875 236h35.0625v1h-35.0625zM503.875 309h35.0625v1h-35.0625zM503.875 316h35.0625v1h-35.0625zM503.875 319h35.0625v1h-35.0625zM503.875 350h35.0625v1h-35.0625zM503.875 352h35.0625v1h-35.0625zM503.875 360h35.0625v1h-35.0625zM503.875 425h35.0625v1h-35.0625zM503.875 440h35.0625v1h-35.0625zM503.875 442h35.0625v1h-35.0625zM503.875 448h35.0625v2h-35.0625zM503.875 462h35.0625v1h-35.0625zM503.875 474h35.0625v1h-35.0625zM503.875 494h35.0625v1h-35.0625zM503.875 501h35.0625v1h-35.0625zM503.875 512h35.0625v1h-35.0625z"/><path fill="#ffdcd8" d="M503.875 3h35.0625v1h-35.0625zM503.875 9h35.0625v1h-35.0625zM503.875 12h35.0625v1h-35.0625zM503.875 26h35.0625v1h-35.0625zM503.875 69h35.0625v1h-35.0625zM503.875 80h35.0625v1h-35.0625zM503.875 85h35.0625v1h-35.0625zM503.875 98h35.0625v1h-35.0625zM503.875 133h35.0625v1h-35.0625zM503.875 152h35.0625v1h-35.0625zM503.875 161h35.0625v1h-35.0625zM503.875 209h35.0625v1h-35.0625zM503.875 216h35.0625v1h-35.0625zM503.875 225h35.0625v1h-35.0625zM503.875 239h35.0625v1h-35.0625zM503.875 247h35.0625v1h-35.0625zM503.875 260h35.0625v3h-35.0625zM503.875 282h35.0625v1h-35.0625zM503.875 298h35.0625v1h-35.0625zM503.875 300h35.0625v1h-35.0625zM503.875 305h35.0625v1h-35.0625zM503.875 308h35.0625v1h-35.0625zM503.875 312h35.0625v1h-35.0625zM503.875 324h35.0625v1h-35.0625zM503.875 392h35.0625v1h-35.0625zM503.875 421h35.0625v1h-35.0625zM503.875 446h35.0625v1h-35.0625zM503.875 509h35.0625v1h-35.0625zM503.875 523h35.0625v1h-35.0625z"/><path fill="#ffd7d4" d="M503.875 2h35.0625v1h-35.0625zM503.875 17h35.0625v1h-35.0625zM503.875 29h35.0625v2h-35.0625zM503.875 36h35.0625v1h-35.0625zM503.875 43h35.0625v1h-35.0625zM503.875 51h35.0625v1h-35.0625zM503.875 88h35.0625v1h-35.0625zM503.875 91h35.0625v1h-35.0625zM503.875 110h35.0625v1h-35.0625zM503.875 155h35.0625v2h-35.0625zM503.875 169h35.0625v1h-35.0625zM503.875 222h35.0625v1h-35.0625zM503.875 224h35.0625v1h-35.0625zM503.875 243h35.0625v1h-35.0625zM503.875 267h35.0625v1h-35.0625zM503.875 284h35.0625v1h-35.0625zM503.875 286h35.0625v1h-35.0625zM503.875 304h35.0625v1h-35.0625zM503.875 342h35.0625v1h-35.0625zM503.875 358h35.0625v1h-35.0625zM503.875 366h35.0625v1h-35.0625zM503.875 374h35.0625v1h-35.0625zM503.875 378h35.0625v1h-35.0625zM503.875 402h35.0625v1h-35.0625zM503.875 428h35.0625v1h-35.0625zM503.875 441h35.0625v1h-35.0625zM503.875 456h35.0625v1h-35.0625zM503.875 499h35.0625v1h-35.0625zM503.875 507h35.0625v1h-35.0625zM503.875 519h35.0625v1h-35.0625zM503.875 521h35.0625v1h-35.0625zM503.875 526h35.0625v1h-35.0625z"/><path fill="#fed3cf" d="M503.875 13h35.0625v1h-35.0625zM503.875 24h35.0625v2h-35.0625zM503.875 53h35.0625v1h-35.0625zM503.875 105h35.0625v1h-35.0625zM503.875 115h35.0625v1h-35.0625zM503.875 117h35.0625v2h-35.0625zM503.875 122h35.0625v2h-35.0625zM503.875 130h35.0625v1h-35.0625zM503.875 142h35.0625v1h-35.0625zM503.875 149h35.0625v1h-35.0625zM503.875 154h35.0625v1h-35.0625zM503.875 195h35.0625v1h-35.0625zM503.875 204h35.0625v1h-35.0625zM503.875 211h35.0625v1h-35.0625zM503.875 218h35.0625v1h-35.0625zM503.875 232h35.0625v1h-35.0625zM503.875 275h35.0625v1h-35.0625zM503.875 283h35.0625v1h-35.0625zM503.875 289h35.0625v1h-35.0625zM503.875 330h35.0625v1h-35.0625zM503.875 332h35.0625v1h-35.0625zM503.875 335h35.0625v1h-35.0625zM503.875 338h35.0625v1h-35.0625zM503.875 359h35.0625v1h-35.0625zM503.875 364h35.0625v1h-35.0625zM503.875 383h35.0625v2h-35.0625zM503.875 390h35.0625v1h-35.0625zM503.875 414h35.0625v1h-35.0625zM503.875 432h35.0625v1h-35.0625zM503.875 435h35.0625v1h-35.0625zM503.875 438h35.0625v1h-35.0625zM503.875 451h35.0625v1h-35.0625zM503.875 458h35.0625v1h-35.0625zM503.875 475h35.0625v1h-35.0625zM503.875 491h35.0625v1h-35.0625zM503.875 510h35.0625v1h-35.0625zM503.875 518h35.0625v1h-35.0625zM503.875 520h35.0625v1h-35.0625z"/><path fill="#fececa" d="M503.875 0.75h35.0625v1.25h-35.0625zM503.875 41h35.0625v1h-35.0625zM503.875 47h35.0625v1h-35.0625zM503.875 90h35.0625v1h-35.0625zM503.875 102h35.0625v1h-35.0625zM503.875 106h35.0625v1h-35.0625zM503.875 137h35.0625v1h-35.0625zM503.875 150h35.0625v1h-35.0625zM503.875 174h35.0625v1h-35.0625zM503.875 185h35.0625v1h-35.0625zM503.875 192h35.0625v1h-35.0625zM503.875 197h35.0625v1h-35.0625zM503.875 226h35.0625v1h-35.0625zM503.875 238h35.0625v1h-35.0625zM503.875 265h35.0625v1h-35.0625zM503.875 279h35.0625v1h-35.0625zM503.875 334h35.0625v1h-35.0625zM503.875 336h35.0625v1h-35.0625zM503.875 347h35.0625v1h-35.0625zM503.875 357h35.0625v1h-35.0625zM503.875 380h35.0625v2h-35.0625zM503.875 388h35.0625v1h-35.0625zM503.875 397h35.0625v1h-35.0625zM503.875 403h35.0625v1h-35.0625zM503.875 405h35.0625v1h-35.0625zM503.875 427h35.0625v1h-35.0625zM503.875 430h35.0625v1h-35.0625zM503.875 447h35.0625v1h-35.0625zM503.875 464h35.0625v1h-35.0625zM503.875 470h35.0625v1h-35.0625zM503.875 495h35.0625v1h-35.0625zM503.875 525h35.0625v1h-35.0625z"/><path fill="#fdcac6" d="M503.875 44h35.0625v1h-35.0625zM503.875 84h35.0625v1h-35.0625zM503.875 93h35.0625v1h-35.0625zM503.875 121h35.0625v1h-35.0625zM503.875 132h35.0625v1h-35.0625zM503.875 140h35.0625v1h-35.0625zM503.875 201h35.0625v2h-35.0625zM503.875 233h35.0625v1h-35.0625zM503.875 242h35.0625v1h-35.0625zM503.875 244h35.0625v1h-35.0625zM503.875 254h35.0625v1h-35.0625zM503.875 257h35.0625v3h-35.0625zM503.875 266h35.0625v1h-35.0625zM503.875 268h35.0625v1h-35.0625zM503.875 296h35.0625v2h-35.0625zM503.875 320h35.0625v1h-35.0625zM503.875 395h35.0625v2h-35.0625zM503.875 398h35.0625v1h-35.0625zM503.875 437h35.0625v1h-35.0625zM503.875 444h35.0625v1h-35.0625zM503.875 461h35.0625v1h-35.0625zM503.875 473h35.0625v1h-35.0625zM503.875 483h35.0625v2h-35.0625zM503.875 505h35.0625v1h-35.0625zM503.875 511h35.0625v1h-35.0625zM503.875 515h35.0625v1h-35.0625z"/><path fill="#fdc6c1" d="M503.875 37h35.0625v1h-35.0625zM503.875 42h35.0625v1h-35.0625zM503.875 55h35.0625v1h-35.0625zM503.875 71h35.0625v1h-35.0625zM503.875 87h35.0625v1h-35.0625zM503.875 111h35.0625v1h-35.0625zM503.875 114h35.0625v1h-35.0625zM503.875 138h35.0625v1h-35.0625zM503.875 147h35.0625v1h-35.0625zM503.875 162h35.0625v1h-35.0625zM503.875 173h35.0625v1h-35.0625zM503.875 181h35.0625v1h-35.0625zM503.875 184h35.0625v1h-35.0625zM503.875 193h35.0625v1h-35.0625zM503.875 196h35.0625v1h-35.0625zM503.875 198h35.0625v2h-35.0625zM503.875 234h35.0625v1h-35.0625zM503.875 245h35.0625v1h-35.0625zM503.875 277h35.0625v1h-35.0625zM503.875 280h35.0625v1h-35.0625zM503.875 292h35.0625v1h-35.0625zM503.875 294h35.0625v2h-35.0625zM503.875 322h35.0625v1h-35.0625zM503.875 331h35.0625v1h-35.0625zM503.875 341h35.0625v1h-35.0625zM503.875 343h35.0625v1h-35.0625zM503.875 354h35.0625v2h-35.0625zM503.875 361h35.0625v1h-35.0625zM503.875 370h35.0625v1h-35.0625zM503.875 389h35.0625v1h-35.0625zM503.875 424h35.0625v1h-35.0625zM503.875 429h35.0625v1h-35.0625zM503.875 433h35.0625v1h-35.0625zM503.875 457h35.0625v1h-35.0625zM503.875 480h35.0625v1h-35.0625zM503.875 482h35.0625v1h-35.0625z"/><path fill="#fcc1bc" d="M503.875 35h35.0625v1h-35.0625zM503.875 38h35.0625v1h-35.0625zM503.875 67h35.0625v1h-35.0625zM503.875 101h35.0625v1h-35.0625zM503.875 112h35.0625v1h-35.0625zM503.875 126h35.0625v1h-35.0625zM503.875 159h35.0625v1h-35.0625zM503.875 163h35.0625v1h-35.0625zM503.875 171h35.0625v2h-35.0625zM503.875 186h35.0625v1h-35.0625zM503.875 212h35.0625v1h-35.0625zM503.875 237h35.0625v1h-35.0625zM503.875 263h35.0625v1h-35.0625zM503.875 281h35.0625v1h-35.0625zM503.875 285h35.0625v1h-35.0625zM503.875 293h35.0625v1h-35.0625zM503.875 349h35.0625v1h-35.0625zM503.875 409h35.0625v1h-35.0625zM503.875 411h35.0625v1h-35.0625zM503.875 434h35.0625v1h-35.0625zM503.875 452h35.0625v1h-35.0625zM503.875 465h35.0625v1h-35.0625zM503.875 481h35.0625v1h-35.0625z"/><path fill="#fcbdb8" d="M503.875 16h35.0625v1h-35.0625zM503.875 45h35.0625v1h-35.0625zM503.875 50h35.0625v1h-35.0625zM503.875 89h35.0625v1h-35.0625zM503.875 92h35.0625v1h-35.0625zM503.875 95h35.0625v2h-35.0625zM503.875 103h35.0625v1h-35.0625zM503.875 109h35.0625v1h-35.0625zM503.875 119h35.0625v2h-35.0625zM503.875 139h35.0625v1h-35.0625zM503.875 170h35.0625v1h-35.0625zM503.875 178h35.0625v1h-35.0625zM503.875 180h35.0625v1h-35.0625zM503.875 203h35.0625v1h-35.0625zM503.875 221h35.0625v1h-35.0625zM503.875 246h35.0625v1h-35.0625zM503.875 303h35.0625v1h-35.0625zM503.875 307h35.0625v1h-35.0625zM503.875 348h35.0625v1h-35.0625zM503.875 353h35.0625v1h-35.0625zM503.875 369h35.0625v1h-35.0625zM503.875 385h35.0625v1h-35.0625zM503.875 387h35.0625v1h-35.0625zM503.875 404h35.0625v1h-35.0625zM503.875 418h35.0625v1h-35.0625zM503.875 445h35.0625v1h-35.0625zM503.875 504h35.0625v1h-35.0625z"/><path fill="#fbb8b3" d="M503.875 8h35.0625v1h-35.0625zM503.875 54h35.0625v1h-35.0625zM503.875 141h35.0625v1h-35.0625zM503.875 264h35.0625v1h-35.0625zM503.875 273h35.0625v2h-35.0625zM503.875 276h35.0625v1h-35.0625zM503.875 323h35.0625v1h-35.0625zM503.875 362h35.0625v2h-35.0625zM503.875 408h35.0625v1h-35.0625zM503.875 412h35.0625v2h-35.0625zM503.875 431h35.0625v1h-35.0625zM503.875 443h35.0625v1h-35.0625zM503.875 485h35.0625v1h-35.0625z"/><path fill="#fab4af" d="M503.875 58h35.0625v2h-35.0625zM503.875 68h35.0625v1h-35.0625zM503.875 288h35.0625v1h-35.0625zM503.875 386h35.0625v1h-35.0625zM503.875 419h35.0625v1h-35.0625zM503.875 426h35.0625v1h-35.0625z"/><path fill="#f9afaa" d="M503.875 57h35.0625v1h-35.0625zM503.875 63h35.0625v1h-35.0625zM503.875 94h35.0625v1h-35.0625zM503.875 104h35.0625v1h-35.0625zM503.875 135h35.0625v2h-35.0625zM503.875 177h35.0625v1h-35.0625zM503.875 179h35.0625v1h-35.0625zM503.875 188h35.0625v2h-35.0625zM503.875 205h35.0625v2h-35.0625zM503.875 253h35.0625v1h-35.0625zM503.875 306h35.0625v1h-35.0625zM503.875 517h35.0625v1h-35.0625z"/><path fill="#f8aba6" d="M503.875 56h35.0625v1h-35.0625zM503.875 182h35.0625v1h-35.0625zM503.875 200h35.0625v1h-35.0625zM503.875 337h35.0625v1h-35.0625zM503.875 339h35.0625v1h-35.0625zM503.875 479h35.0625v1h-35.0625z"/><path fill="#f8a7a1" d="M503.875 235h35.0625v1h-35.0625zM503.875 301h35.0625v2h-35.0625zM503.875 340h35.0625v1h-35.0625zM503.875 417h35.0625v1h-35.0625zM503.875 450h35.0625v1h-35.0625z"/><path fill="#f7a29d" d="M503.875 107h35.0625v1h-35.0625zM503.875 516h35.0625v1h-35.0625z"/><path fill="#f69e98" d="M503.875 108h35.0625v1h-35.0625zM503.875 187h35.0625v1h-35.0625zM503.875 375h35.0625v1h-35.0625zM503.875 377h35.0625v1h-35.0625z"/><path fill="#f59994" d="M503.875 183h35.0625v1h-35.0625zM503.875 376h35.0625v1h-35.0625z"/><path fill="#f2908b" d="M503.875 356h35.0625v1h-35.0625z"/><path fill="#ffffff" d="M537.938 128h34.0625v1h-34.0625z"/><path fill="#fffbfa" d="M537.938 19h34.0625v2h-34.0625zM537.938 74h34.0625v1h-34.0625zM537.938 77h34.0625v3h-34.0625zM537.938 81h34.0625v1h-34.0625zM537.938 325h34.0625v1h-34.0625z"/><path fill="#fff6f5" d="M537.938 327h34.0625v2h-34.0625z"/><path fill="#fff2f0" d="M537.938 4h34.0625v3h-34.0625zM537.938 10h34.0625v1h-34.0625zM537.938 14h34.0625v1h-34.0625zM537.938 21h34.0625v1h-34.0625zM537.938 23h34.0625v1h-34.0625zM537.938 26h34.0625v2h-34.0625zM537.938 31h34.0625v1h-34.0625zM537.938 46h34.0625v1h-34.0625zM537.938 52h34.0625v1h-34.0625zM537.938 60h34.0625v1h-34.0625zM537.938 64h34.0625v1h-34.0625zM537.938 72h34.0625v2h-34.0625zM537.938 86h34.0625v1h-34.0625zM537.938 99h34.0625v2h-34.0625zM537.938 116h34.0625v1h-34.0625zM537.938 125h34.0625v1h-34.0625zM537.938 127h34.0625v1h-34.0625zM537.938 129h34.0625v1h-34.0625zM537.938 146h34.0625v1h-34.0625zM537.938 151h34.0625v1h-34.0625zM537.938 157h34.0625v2h-34.0625zM537.938 161h34.0625v1h-34.0625zM537.938 166h34.0625v2h-34.0625zM537.938 175h34.0625v1h-34.0625zM537.938 190h34.0625v1h-34.0625zM537.938 207h34.0625v2h-34.0625zM537.938 213h34.0625v2h-34.0625zM537.938 227h34.0625v1h-34.0625zM537.938 240h34.0625v1h-34.0625zM537.938 248h34.0625v4h-34.0625zM537.938 255h34.0625v2h-34.0625zM537.938 269h34.0625v1h-34.0625zM537.938 272h34.0625v1h-34.0625zM537.938 278h34.0625v1h-34.0625zM537.938 282h34.0625v1h-34.0625zM537.938 291h34.0625v1h-34.0625zM537.938 305h34.0625v1h-34.0625zM537.938 309h34.0625v2h-34.0625zM537.938 313h34.0625v2h-34.0625zM537.938 317h34.0625v1h-34.0625zM537.938 319h34.0625v1h-34.0625zM537.938 346h34.0625v1h-34.0625zM537.938 365h34.0625v1h-34.0625zM537.938 367h34.0625v2h-34.0625zM537.938 372h34.0625v3h-34.0625zM537.938 392h34.0625v2h-34.0625zM537.938 410h34.0625v1h-34.0625zM537.938 414h34.0625v2h-34.0625zM537.938 421h34.0625v2h-34.0625zM537.938 425h34.0625v1h-34.0625zM537.938 436h34.0625v1h-34.0625zM537.938 439h34.0625v1h-34.0625zM537.938 454h34.0625v1h-34.0625zM537.938 460h34.0625v1h-34.0625zM537.938 462h34.0625v2h-34.0625zM537.938 466h34.0625v1h-34.0625zM537.938 478h34.0625v1h-34.0625zM537.938 486h34.0625v4h-34.0625zM537.938 492h34.0625v2h-34.0625zM537.938 496h34.0625v1h-34.0625zM537.938 498h34.0625v1h-34.0625zM537.938 500h34.0625v1h-34.0625zM537.938 508h34.0625v1h-34.0625zM537.938 513h34.0625v1h-34.0625zM537.938 519h34.0625v1h-34.0625zM537.938 522h34.0625v1h-34.0625z"/><path fill="#ffedec" d="M537.938 17h34.0625v1h-34.0625zM537.938 34h34.0625v1h-34.0625zM537.938 49h34.0625v1h-34.0625zM537.938 82h34.0625v1h-34.0625zM537.938 97h34.0625v1h-34.0625zM537.938 113h34.0625v1h-34.0625zM537.938 124h34.0625v1h-34.0625zM537.938 145h34.0625v1h-34.0625zM537.938 164h34.0625v1h-34.0625zM537.938 176h34.0625v1h-34.0625zM537.938 191h34.0625v1h-34.0625zM537.938 216h34.0625v1h-34.0625zM537.938 229h34.0625v2h-34.0625zM537.938 270h34.0625v1h-34.0625zM537.938 304h34.0625v1h-34.0625zM537.938 316h34.0625v1h-34.0625zM537.938 345h34.0625v1h-34.0625zM537.938 351h34.0625v1h-34.0625zM537.938 382h34.0625v1h-34.0625zM537.938 394h34.0625v1h-34.0625zM537.938 399h34.0625v1h-34.0625zM537.938 406h34.0625v1h-34.0625zM537.938 449h34.0625v1h-34.0625zM537.938 453h34.0625v1h-34.0625zM537.938 455h34.0625v1h-34.0625zM537.938 467h34.0625v2h-34.0625zM537.938 502h34.0625v1h-34.0625zM537.938 523h34.0625v1h-34.0625z"/><path fill="#ffe9e7" d="M537.938 3h34.0625v1h-34.0625zM537.938 9h34.0625v1h-34.0625zM537.938 13h34.0625v1h-34.0625zM537.938 15h34.0625v1h-34.0625zM537.938 18h34.0625v1h-34.0625zM537.938 22h34.0625v1h-34.0625zM537.938 33h34.0625v1h-34.0625zM537.938 43h34.0625v1h-34.0625zM537.938 61h34.0625v1h-34.0625zM537.938 76h34.0625v1h-34.0625zM537.938 80h34.0625v1h-34.0625zM537.938 121h34.0625v1h-34.0625zM537.938 131h34.0625v1h-34.0625zM537.938 210h34.0625v1h-34.0625zM537.938 217h34.0625v1h-34.0625zM537.938 236h34.0625v1h-34.0625zM537.938 239h34.0625v1h-34.0625zM537.938 260h34.0625v2h-34.0625zM537.938 271h34.0625v1h-34.0625zM537.938 324h34.0625v1h-34.0625zM537.938 326h34.0625v1h-34.0625zM537.938 350h34.0625v1h-34.0625zM537.938 366h34.0625v1h-34.0625zM537.938 390h34.0625v1h-34.0625zM537.938 416h34.0625v1h-34.0625zM537.938 433h34.0625v1h-34.0625zM537.938 442h34.0625v1h-34.0625zM537.938 448h34.0625v1h-34.0625zM537.938 456h34.0625v1h-34.0625zM537.938 469h34.0625v1h-34.0625zM537.938 484h34.0625v1h-34.0625zM537.938 497h34.0625v1h-34.0625zM537.938 520h34.0625v1h-34.0625z"/><path fill="#ffe4e2" d="M537.938 24h34.0625v1h-34.0625zM537.938 28h34.0625v1h-34.0625zM537.938 69h34.0625v1h-34.0625zM537.938 75h34.0625v1h-34.0625zM537.938 83h34.0625v1h-34.0625zM537.938 109h34.0625v1h-34.0625zM537.938 134h34.0625v1h-34.0625zM537.938 140h34.0625v1h-34.0625zM537.938 144h34.0625v1h-34.0625zM537.938 153h34.0625v1h-34.0625zM537.938 156h34.0625v1h-34.0625zM537.938 160h34.0625v1h-34.0625zM537.938 174h34.0625v1h-34.0625zM537.938 211h34.0625v1h-34.0625zM537.938 219h34.0625v1h-34.0625zM537.938 228h34.0625v1h-34.0625zM537.938 247h34.0625v1h-34.0625zM537.938 252h34.0625v1h-34.0625zM537.938 265h34.0625v1h-34.0625zM537.938 284h34.0625v1h-34.0625zM537.938 311h34.0625v1h-34.0625zM537.938 315h34.0625v1h-34.0625zM537.938 318h34.0625v1h-34.0625zM537.938 352h34.0625v1h-34.0625zM537.938 403h34.0625v1h-34.0625zM537.938 407h34.0625v1h-34.0625zM537.938 428h34.0625v1h-34.0625zM537.938 435h34.0625v1h-34.0625zM537.938 441h34.0625v1h-34.0625zM537.938 471h34.0625v2h-34.0625zM537.938 474h34.0625v1h-34.0625zM537.938 476h34.0625v1h-34.0625zM537.938 490h34.0625v1h-34.0625zM537.938 503h34.0625v1h-34.0625zM537.938 521h34.0625v1h-34.0625zM537.938 524h34.0625v1h-34.0625z"/><path fill="#ffe0dd" d="M537.938 11h34.0625v1h-34.0625zM537.938 30h34.0625v1h-34.0625zM537.938 32h34.0625v1h-34.0625zM537.938 36h34.0625v1h-34.0625zM537.938 39h34.0625v2h-34.0625zM537.938 47h34.0625v2h-34.0625zM537.938 51h34.0625v1h-34.0625zM537.938 62h34.0625v1h-34.0625zM537.938 65h34.0625v1h-34.0625zM537.938 70h34.0625v1h-34.0625zM537.938 105h34.0625v1h-34.0625zM537.938 114h34.0625v2h-34.0625zM537.938 123h34.0625v1h-34.0625zM537.938 143h34.0625v1h-34.0625zM537.938 148h34.0625v1h-34.0625zM537.938 152h34.0625v1h-34.0625zM537.938 209h34.0625v1h-34.0625zM537.938 218h34.0625v1h-34.0625zM537.938 220h34.0625v1h-34.0625zM537.938 222h34.0625v2h-34.0625zM537.938 225h34.0625v1h-34.0625zM537.938 238h34.0625v1h-34.0625zM537.938 241h34.0625v1h-34.0625zM537.938 267h34.0625v1h-34.0625zM537.938 298h34.0625v1h-34.0625zM537.938 308h34.0625v1h-34.0625zM537.938 321h34.0625v1h-34.0625zM537.938 336h34.0625v1h-34.0625zM537.938 364h34.0625v1h-34.0625zM537.938 371h34.0625v1h-34.0625zM537.938 381h34.0625v1h-34.0625zM537.938 388h34.0625v1h-34.0625zM537.938 391h34.0625v1h-34.0625zM537.938 400h34.0625v1h-34.0625zM537.938 420h34.0625v1h-34.0625zM537.938 437h34.0625v1h-34.0625zM537.938 446h34.0625v1h-34.0625zM537.938 458h34.0625v1h-34.0625zM537.938 477h34.0625v1h-34.0625zM537.938 499h34.0625v1h-34.0625zM537.938 501h34.0625v1h-34.0625zM537.938 506h34.0625v1h-34.0625z"/><path fill="#ffdcd8" d="M537.938 12h34.0625v1h-34.0625zM537.938 53h34.0625v1h-34.0625zM537.938 84h34.0625v2h-34.0625zM537.938 87h34.0625v1h-34.0625zM537.938 101h34.0625v1h-34.0625zM537.938 150h34.0625v1h-34.0625zM537.938 169h34.0625v1h-34.0625zM537.938 171h34.0625v1h-34.0625zM537.938 178h34.0625v1h-34.0625zM537.938 185h34.0625v1h-34.0625zM537.938 192h34.0625v1h-34.0625zM537.938 194h34.0625v1h-34.0625zM537.938 196h34.0625v1h-34.0625zM537.938 201h34.0625v1h-34.0625zM537.938 224h34.0625v1h-34.0625zM537.938 226h34.0625v1h-34.0625zM537.938 243h34.0625v1h-34.0625zM537.938 283h34.0625v1h-34.0625zM537.938 286h34.0625v1h-34.0625zM537.938 289h34.0625v1h-34.0625zM537.938 303h34.0625v1h-34.0625zM537.938 329h34.0625v1h-34.0625zM537.938 333h34.0625v1h-34.0625zM537.938 338h34.0625v1h-34.0625zM537.938 405h34.0625v1h-34.0625zM537.938 409h34.0625v1h-34.0625zM537.938 423h34.0625v1h-34.0625zM537.938 494h34.0625v1h-34.0625zM537.938 507h34.0625v1h-34.0625z"/><path fill="#ffd7d4" d="M537.938 29h34.0625v1h-34.0625zM537.938 44h34.0625v1h-34.0625zM537.938 91h34.0625v1h-34.0625zM537.938 102h34.0625v1h-34.0625zM537.938 110h34.0625v1h-34.0625zM537.938 117h34.0625v2h-34.0625zM537.938 122h34.0625v1h-34.0625zM537.938 133h34.0625v1h-34.0625zM537.938 142h34.0625v1h-34.0625zM537.938 155h34.0625v1h-34.0625zM537.938 165h34.0625v1h-34.0625zM537.938 184h34.0625v1h-34.0625zM537.938 189h34.0625v1h-34.0625zM537.938 193h34.0625v1h-34.0625zM537.938 231h34.0625v1h-34.0625zM537.938 254h34.0625v1h-34.0625zM537.938 258h34.0625v2h-34.0625zM537.938 264h34.0625v1h-34.0625zM537.938 268h34.0625v1h-34.0625zM537.938 290h34.0625v1h-34.0625zM537.938 297h34.0625v1h-34.0625zM537.938 299h34.0625v1h-34.0625zM537.938 312h34.0625v1h-34.0625zM537.938 335h34.0625v1h-34.0625zM537.938 354h34.0625v1h-34.0625zM537.938 357h34.0625v1h-34.0625zM537.938 384h34.0625v1h-34.0625zM537.938 401h34.0625v2h-34.0625zM537.938 418h34.0625v1h-34.0625zM537.938 440h34.0625v1h-34.0625zM537.938 470h34.0625v1h-34.0625zM537.938 475h34.0625v1h-34.0625zM537.938 491h34.0625v1h-34.0625zM537.938 509h34.0625v2h-34.0625zM537.938 512h34.0625v1h-34.0625zM537.938 518h34.0625v1h-34.0625z"/><path fill="#fed3cf" d="M537.938 2h34.0625v1h-34.0625zM537.938 25h34.0625v1h-34.0625zM537.938 37h34.0625v1h-34.0625zM537.938 88h34.0625v1h-34.0625zM537.938 106h34.0625v1h-34.0625zM537.938 126h34.0625v1h-34.0625zM537.938 138h34.0625v1h-34.0625zM537.938 154h34.0625v1h-34.0625zM537.938 162h34.0625v1h-34.0625zM537.938 181h34.0625v1h-34.0625zM537.938 198h34.0625v2h-34.0625zM537.938 203h34.0625v2h-34.0625zM537.938 206h34.0625v1h-34.0625zM537.938 215h34.0625v1h-34.0625zM537.938 221h34.0625v1h-34.0625zM537.938 233h34.0625v1h-34.0625zM537.938 275h34.0625v1h-34.0625zM537.938 293h34.0625v2h-34.0625zM537.938 296h34.0625v1h-34.0625zM537.938 330h34.0625v1h-34.0625zM537.938 347h34.0625v1h-34.0625zM537.938 349h34.0625v1h-34.0625zM537.938 378h34.0625v1h-34.0625zM537.938 383h34.0625v1h-34.0625zM537.938 396h34.0625v1h-34.0625zM537.938 432h34.0625v1h-34.0625zM537.938 447h34.0625v1h-34.0625zM537.938 452h34.0625v1h-34.0625zM537.938 511h34.0625v1h-34.0625zM537.938 515h34.0625v1h-34.0625z"/><path fill="#fececa" d="M537.938 16h34.0625v1h-34.0625zM537.938 41h34.0625v1h-34.0625zM537.938 54h34.0625v2h-34.0625zM537.938 71h34.0625v1h-34.0625zM537.938 98h34.0625v1h-34.0625zM537.938 137h34.0625v1h-34.0625zM537.938 149h34.0625v1h-34.0625zM537.938 168h34.0625v1h-34.0625zM537.938 173h34.0625v1h-34.0625zM537.938 180h34.0625v1h-34.0625zM537.938 186h34.0625v1h-34.0625zM537.938 195h34.0625v1h-34.0625zM537.938 197h34.0625v1h-34.0625zM537.938 232h34.0625v1h-34.0625zM537.938 234h34.0625v1h-34.0625zM537.938 237h34.0625v1h-34.0625zM537.938 245h34.0625v1h-34.0625zM537.938 274h34.0625v1h-34.0625zM537.938 279h34.0625v1h-34.0625zM537.938 292h34.0625v1h-34.0625zM537.938 295h34.0625v1h-34.0625zM537.938 300h34.0625v1h-34.0625zM537.938 307h34.0625v1h-34.0625zM537.938 332h34.0625v1h-34.0625zM537.938 344h34.0625v1h-34.0625zM537.938 353h34.0625v1h-34.0625zM537.938 355h34.0625v1h-34.0625zM537.938 363h34.0625v1h-34.0625zM537.938 370h34.0625v1h-34.0625zM537.938 379h34.0625v2h-34.0625zM537.938 389h34.0625v1h-34.0625zM537.938 408h34.0625v1h-34.0625zM537.938 434h34.0625v1h-34.0625zM537.938 451h34.0625v1h-34.0625zM537.938 473h34.0625v1h-34.0625zM537.938 481h34.0625v1h-34.0625zM537.938 483h34.0625v1h-34.0625zM537.938 505h34.0625v1h-34.0625z"/><path fill="#fdcac6" d="M537.938 7h34.0625v1h-34.0625zM537.938 50h34.0625v1h-34.0625zM537.938 57h34.0625v1h-34.0625zM537.938 66h34.0625v1h-34.0625zM537.938 89h34.0625v1h-34.0625zM537.938 92h34.0625v1h-34.0625zM537.938 108h34.0625v1h-34.0625zM537.938 135h34.0625v1h-34.0625zM537.938 159h34.0625v1h-34.0625zM537.938 170h34.0625v1h-34.0625zM537.938 202h34.0625v1h-34.0625zM537.938 253h34.0625v1h-34.0625zM537.938 257h34.0625v1h-34.0625zM537.938 287h34.0625v1h-34.0625zM537.938 320h34.0625v1h-34.0625zM537.938 322h34.0625v1h-34.0625zM537.938 331h34.0625v1h-34.0625zM537.938 334h34.0625v1h-34.0625zM537.938 395h34.0625v1h-34.0625zM537.938 411h34.0625v1h-34.0625zM537.938 429h34.0625v1h-34.0625zM537.938 431h34.0625v1h-34.0625zM537.938 457h34.0625v1h-34.0625zM537.938 459h34.0625v1h-34.0625zM537.938 461h34.0625v1h-34.0625zM537.938 482h34.0625v1h-34.0625zM537.938 495h34.0625v1h-34.0625zM537.938 514h34.0625v1h-34.0625zM537.938 526h34.0625v1h-34.0625z"/><path fill="#fdc6c1" d="M537.938 45h34.0625v1h-34.0625zM537.938 90h34.0625v1h-34.0625zM537.938 93h34.0625v1h-34.0625zM537.938 119h34.0625v1h-34.0625zM537.938 130h34.0625v1h-34.0625zM537.938 179h34.0625v1h-34.0625zM537.938 182h34.0625v1h-34.0625zM537.938 242h34.0625v1h-34.0625zM537.938 244h34.0625v1h-34.0625zM537.938 262h34.0625v2h-34.0625zM537.938 273h34.0625v1h-34.0625zM537.938 280h34.0625v2h-34.0625zM537.938 285h34.0625v1h-34.0625zM537.938 358h34.0625v3h-34.0625zM537.938 404h34.0625v1h-34.0625zM537.938 424h34.0625v1h-34.0625zM537.938 430h34.0625v1h-34.0625zM537.938 438h34.0625v1h-34.0625zM537.938 464h34.0625v1h-34.0625zM537.938 504h34.0625v1h-34.0625z"/><path fill="#fcc1bc" d="M537.938 0.75h34.0625v1.25h-34.0625zM537.938 8h34.0625v1h-34.0625zM537.938 35h34.0625v1h-34.0625zM537.938 103h34.0625v1h-34.0625zM537.938 107h34.0625v1h-34.0625zM537.938 111h34.0625v2h-34.0625zM537.938 136h34.0625v1h-34.0625zM537.938 139h34.0625v1h-34.0625zM537.938 147h34.0625v1h-34.0625zM537.938 172h34.0625v1h-34.0625zM537.938 188h34.0625v1h-34.0625zM537.938 205h34.0625v1h-34.0625zM537.938 212h34.0625v1h-34.0625zM537.938 266h34.0625v1h-34.0625zM537.938 277h34.0625v1h-34.0625zM537.938 342h34.0625v1h-34.0625zM537.938 348h34.0625v1h-34.0625zM537.938 361h34.0625v1h-34.0625zM537.938 375h34.0625v1h-34.0625zM537.938 397h34.0625v1h-34.0625zM537.938 419h34.0625v1h-34.0625zM537.938 427h34.0625v1h-34.0625zM537.938 480h34.0625v1h-34.0625zM537.938 525h34.0625v1h-34.0625z"/><path fill="#fcbdb8" d="M537.938 42h34.0625v1h-34.0625zM537.938 56h34.0625v1h-34.0625zM537.938 63h34.0625v1h-34.0625zM537.938 68h34.0625v1h-34.0625zM537.938 120h34.0625v1h-34.0625zM537.938 163h34.0625v1h-34.0625zM537.938 356h34.0625v1h-34.0625zM537.938 385h34.0625v1h-34.0625zM537.938 412h34.0625v1h-34.0625zM537.938 417h34.0625v1h-34.0625zM537.938 426h34.0625v1h-34.0625zM537.938 444h34.0625v1h-34.0625zM537.938 485h34.0625v1h-34.0625z"/><path fill="#fbb8b3" d="M537.938 38h34.0625v1h-34.0625zM537.938 58h34.0625v1h-34.0625zM537.938 132h34.0625v1h-34.0625zM537.938 177h34.0625v1h-34.0625zM537.938 183h34.0625v1h-34.0625zM537.938 276h34.0625v1h-34.0625zM537.938 288h34.0625v1h-34.0625zM537.938 302h34.0625v1h-34.0625zM537.938 306h34.0625v1h-34.0625zM537.938 337h34.0625v1h-34.0625zM537.938 339h34.0625v1h-34.0625zM537.938 341h34.0625v1h-34.0625zM537.938 369h34.0625v1h-34.0625zM537.938 443h34.0625v1h-34.0625zM537.938 450h34.0625v1h-34.0625zM537.938 465h34.0625v1h-34.0625z"/><path fill="#fab4af" d="M537.938 59h34.0625v1h-34.0625zM537.938 67h34.0625v1h-34.0625zM537.938 95h34.0625v2h-34.0625zM537.938 141h34.0625v1h-34.0625zM537.938 235h34.0625v1h-34.0625zM537.938 323h34.0625v1h-34.0625zM537.938 343h34.0625v1h-34.0625zM537.938 387h34.0625v1h-34.0625zM537.938 479h34.0625v1h-34.0625zM537.938 517h34.0625v1h-34.0625z"/><path fill="#f9afaa" d="M537.938 187h34.0625v1h-34.0625zM537.938 246h34.0625v1h-34.0625zM537.938 377h34.0625v1h-34.0625zM537.938 386h34.0625v1h-34.0625zM537.938 413h34.0625v1h-34.0625z"/><path fill="#f8aba6" d="M537.938 340h34.0625v1h-34.0625zM537.938 398h34.0625v1h-34.0625zM537.938 445h34.0625v1h-34.0625zM537.938 516h34.0625v1h-34.0625z"/><path fill="#f8a7a1" d="M537.938 94h34.0625v1h-34.0625zM537.938 104h34.0625v1h-34.0625zM537.938 301h34.0625v1h-34.0625zM537.938 362h34.0625v1h-34.0625zM537.938 376h34.0625v1h-34.0625z"/><path fill="#f7a29d" d="M537.938 200h34.0625v1h-34.0625z"/></svg><svg width="685" height="575" style="position:absolute;left:0;top:0">
<defs><linearGradient id="lg" x1="0" y1="0" x2="0" y2="1"><stop offset="0.000" stop-color="#de4c50"/><stop offset="0.025" stop-color="#e05154"/><stop offset="0.050" stop-color="#e15758"/><stop offset="0.075" stop-color="#e35c5c"/><stop offset="0.100" stop-color="#e56160"/><stop offset="0.125" stop-color="#e66564"/><stop offset="0.150" stop-color="#e86a68"/><stop offset="0.175" stop-color="#e96f6c"/><stop offset="0.200" stop-color="#ea7470"/><stop offset="0.225" stop-color="#ec7874"/><stop offset="0.250" stop-color="#ed7d78"/><stop offset="0.275" stop-color="#ee817d"/><stop offset="0.300" stop-color="#f08681"/><stop offset="0.325" stop-color="#f18a85"/><stop offset="0.350" stop-color="#f28f89"/><stop offset="0.375" stop-color="#f3938e"/><stop offset="0.400" stop-color="#f49792"/><stop offset="0.425" stop-color="#f59c96"/><stop offset="0.450" stop-color="#f6a09b"/><stop offset="0.475" stop-color="#f7a49f"/><stop offset="0.500" stop-color="#f8a9a3"/><stop offset="0.525" stop-color="#f9ada8"/><stop offset="0.550" stop-color="#fab1ac"/><stop offset="0.575" stop-color="#fab6b1"/><stop offset="0.600" stop-color="#fbbab5"/><stop offset="0.625" stop-color="#fcbeb9"/><stop offset="0.650" stop-color="#fcc3be"/><stop offset="0.675" stop-color="#fdc7c3"/><stop offset="0.700" stop-color="#fdcbc7"/><stop offset="0.725" stop-color="#fed0cc"/><stop offset="0.750" stop-color="#fed4d0"/><stop offset="0.775" stop-color="#ffd8d5"/><stop offset="0.800" stop-color="#ffdcd9"/><stop offset="0.825" stop-color="#ffe1de"/><stop offset="0.850" stop-color="#ffe5e3"/><stop offset="0.875" stop-color="#ffe9e7"/><stop offset="0.900" stop-color="#ffeeec"/><stop offset="0.925" stop-color="#fff2f1"/><stop offset="0.950" stop-color="#fff6f6"/><stop offset="0.975" stop-color="#fffbfa"/><stop offset="1.000" stop-color="#ffffff"/></linearGradient></defs>
<rect x="598.9" y="207.9" width="28.4" height="142.40" fill="url(#lg)"/><line x1="598.9" x2="604.6" y1="350.30" y2="350.30" stroke="#fff" stroke-width="0.6"/><line x1="621.6" x2="627.3" y1="350.30" y2="350.30" stroke="#fff" stroke-width="0.6"/><line x1="598.9" x2="604.6" y1="314.70" y2="314.70" stroke="#fff" stroke-width="0.6"/><line x1="621.6" x2="627.3" y1="314.70" y2="314.70" stroke="#fff" stroke-width="0.6"/><line x1="598.9" x2="604.6" y1="279.10" y2="279.10" stroke="#fff" stroke-width="0.6"/><line x1="621.6" x2="627.3" y1="279.10" y2="279.10" stroke="#fff" stroke-width="0.6"/><line x1="598.9" x2="604.6" y1="243.50" y2="243.50" stroke="#fff" stroke-width="0.6"/><line x1="621.6" x2="627.3" y1="243.50" y2="243.50" stroke="#fff" stroke-width="0.6"/><line x1="598.9" x2="604.6" y1="207.90" y2="207.90" stroke="#fff" stroke-width="0.6"/><line x1="621.6" x2="627.3" y1="207.90" y2="207.90" stroke="#fff" stroke-width="0.6"/></svg><div class="t"><div class="xt" style="left:24.03125px">6</div><div class="xt" style="left:58.09375px">7</div><div class="xt" style="left:92.15625px">8</div><div class="xt" style="left:126.21875px">9</div><div class="xt" style="left:160.28125px">10</div><div class="xt" style="left:194.34375px">11</div><div class="xt" style="left:228.40625px">12</div><div class="xt" style="left:262.46875px">13</div><div class="xt" style="left:296.53125px">14</div><div class="xt" style="left:330.59375px">15</div><div class="xt" style="left:364.65625px">16</div><div class="xt" style="left:398.71875px">17</div><div class="xt" style="left:432.78125px">18</div><div class="xt" style="left:466.84375px">19</div><div class="xt" style="left:500.90625px">20</div><div class="xt" style="left:534.96875px">21</div><div class="xtitle">Time of Day (Hour)</div><div class="ytitle">Study Participants (n=4306)</div><div class="ltitle">Wear Rate</div><div class="ll" style="top:342.35px">0%</div><div class="ll" style="top:306.90px">25%</div><div class="ll" style="top:271.45px">50%</div><div class="ll" style="top:236.00px">75%</div><div class="ll" style="top:200.55px">100%</div></div>
</body></html>
